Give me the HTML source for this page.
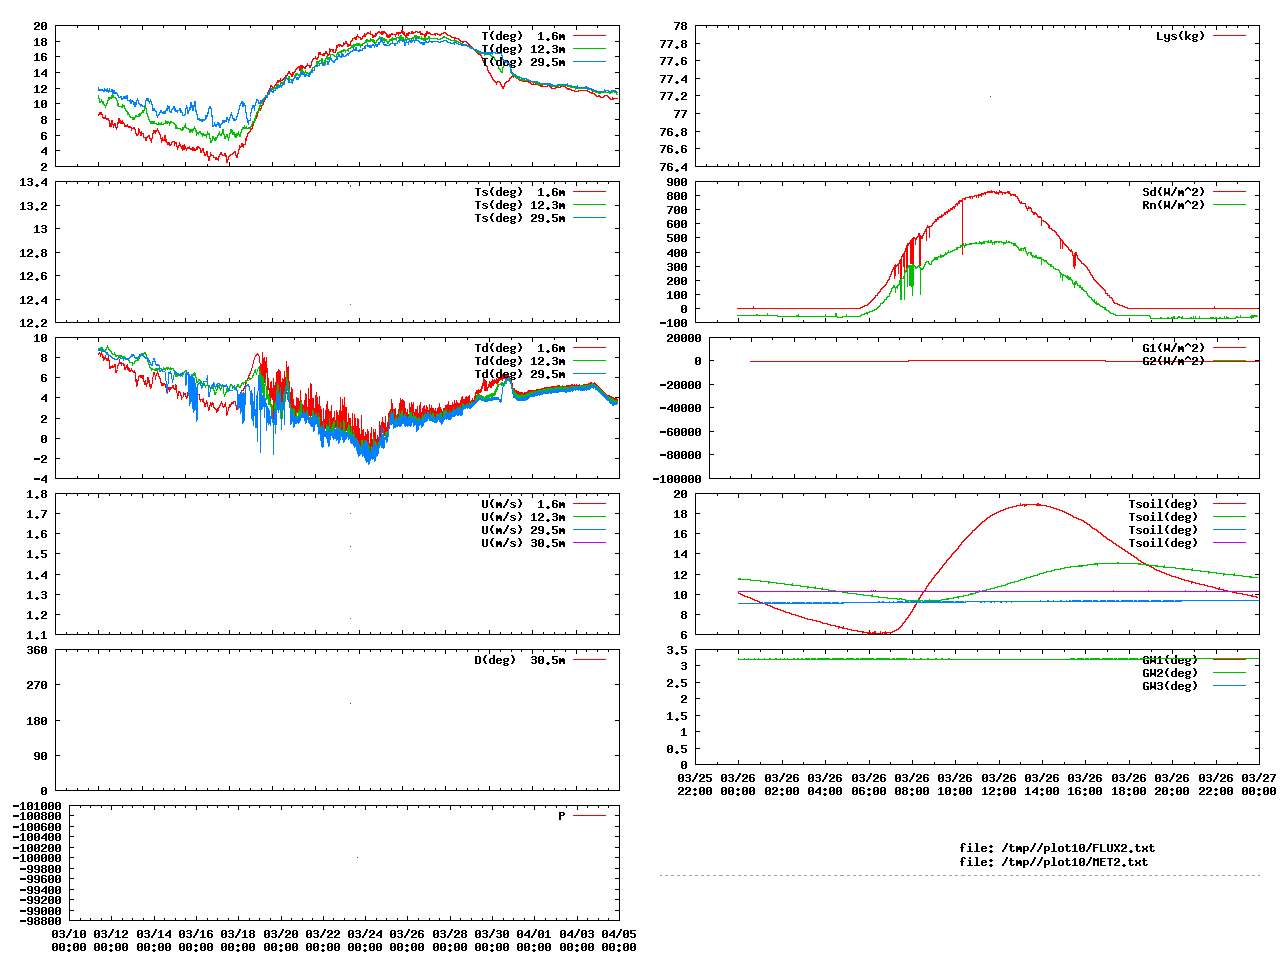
<!DOCTYPE html>
<html><head><meta charset="utf-8"><title>plot</title>
<style>
html,body{margin:0;padding:0;background:#fff;}
svg{display:block}
.t{font-family:"Liberation Mono",monospace;font-weight:bold;font-size:11.67px;opacity:0;white-space:pre}
</style></head><body>
<svg width="1280" height="960" viewBox="0 0 1280 960">
<rect width="1280" height="960" fill="#fff"/>
<defs>
<path id="c30" d="M1 0h4v1h-4zM0 1h2v1h-2zM4 1h2v1h-2zM0 2h2v1h-2zM4 2h2v1h-2zM0 3h2v1h-2zM3 3h3v1h-3zM0 4h3v1h-3zM4 4h2v1h-2zM0 5h2v1h-2zM4 5h2v1h-2zM0 6h2v1h-2zM4 6h2v1h-2zM1 7h4v1h-4z"/>
<path id="c31" d="M2 0h2v1h-2zM1 1h3v1h-3zM0 2h1v1h-1zM2 2h2v1h-2zM2 3h2v1h-2zM2 4h2v1h-2zM2 5h2v1h-2zM2 6h2v1h-2zM0 7h6v1h-6z"/>
<path id="c32" d="M1 0h4v1h-4zM0 1h2v1h-2zM4 1h2v1h-2zM0 2h2v1h-2zM4 2h2v1h-2zM3 3h3v1h-3zM2 4h3v1h-3zM1 5h2v1h-2zM0 6h2v1h-2zM0 7h6v1h-6z"/>
<path id="c33" d="M1 0h4v1h-4zM0 1h2v1h-2zM4 1h2v1h-2zM4 2h2v1h-2zM1 3h4v1h-4zM4 4h2v1h-2zM4 5h2v1h-2zM0 6h2v1h-2zM4 6h2v1h-2zM1 7h4v1h-4z"/>
<path id="c34" d="M4 0h2v1h-2zM3 1h3v1h-3zM2 2h4v1h-4zM1 3h2v1h-2zM4 3h2v1h-2zM0 4h2v1h-2zM4 4h2v1h-2zM0 5h6v1h-6zM4 6h2v1h-2zM4 7h2v1h-2z"/>
<path id="c35" d="M0 0h6v1h-6zM0 1h2v1h-2zM0 2h2v1h-2zM0 3h5v1h-5zM4 4h2v1h-2zM4 5h2v1h-2zM0 6h2v1h-2zM4 6h2v1h-2zM1 7h4v1h-4z"/>
<path id="c36" d="M1 0h4v1h-4zM0 1h2v1h-2zM4 1h2v1h-2zM0 2h2v1h-2zM0 3h5v1h-5zM0 4h2v1h-2zM4 4h2v1h-2zM0 5h2v1h-2zM4 5h2v1h-2zM0 6h2v1h-2zM4 6h2v1h-2zM1 7h4v1h-4z"/>
<path id="c37" d="M0 0h6v1h-6zM4 1h2v1h-2zM3 2h2v1h-2zM3 3h2v1h-2zM2 4h2v1h-2zM2 5h2v1h-2zM1 6h2v1h-2zM1 7h2v1h-2z"/>
<path id="c38" d="M1 0h4v1h-4zM0 1h2v1h-2zM4 1h2v1h-2zM0 2h2v1h-2zM4 2h2v1h-2zM1 3h4v1h-4zM0 4h2v1h-2zM4 4h2v1h-2zM0 5h2v1h-2zM4 5h2v1h-2zM0 6h2v1h-2zM4 6h2v1h-2zM1 7h4v1h-4z"/>
<path id="c39" d="M1 0h4v1h-4zM0 1h2v1h-2zM4 1h2v1h-2zM0 2h2v1h-2zM4 2h2v1h-2zM0 3h2v1h-2zM4 3h2v1h-2zM1 4h5v1h-5zM4 5h2v1h-2zM0 6h2v1h-2zM4 6h2v1h-2zM1 7h4v1h-4z"/>
<path id="c2d" d="M0 3h6v1h-6zM0 4h6v1h-6z"/>
<path id="c2e" d="M2 6h2v1h-2zM1 7h4v1h-4zM2 8h2v1h-2z"/>
<path id="c3a" d="M2 1h2v1h-2zM1 2h4v1h-4zM2 3h2v1h-2zM2 6h2v1h-2zM1 7h4v1h-4zM2 8h2v1h-2z"/>
<path id="c2f" d="M4 -1h2v1h-2zM4 0h2v1h-2zM3 1h2v1h-2zM3 2h2v1h-2zM2 3h2v1h-2zM2 4h2v1h-2zM1 5h2v1h-2zM0 6h2v1h-2zM0 7h2v1h-2z"/>
<path id="c28" d="M3 -1h2v1h-2zM2 0h2v1h-2zM2 1h2v1h-2zM1 2h2v1h-2zM1 3h2v1h-2zM1 4h2v1h-2zM2 5h2v1h-2zM2 6h2v1h-2zM3 7h2v1h-2z"/>
<path id="c29" d="M1 -1h2v1h-2zM2 0h2v1h-2zM2 1h2v1h-2zM3 2h2v1h-2zM3 3h2v1h-2zM3 4h2v1h-2zM2 5h2v1h-2zM2 6h2v1h-2zM1 7h2v1h-2z"/>
<path id="c5e" d="M2 -1h2v1h-2zM1 0h4v1h-4zM0 1h2v1h-2zM4 1h2v1h-2zM0 2h1v1h-1zM5 2h1v1h-1z"/>
<path id="c54" d="M0 0h6v1h-6zM2 1h2v1h-2zM2 2h2v1h-2zM2 3h2v1h-2zM2 4h2v1h-2zM2 5h2v1h-2zM2 6h2v1h-2zM2 7h2v1h-2z"/>
<path id="c55" d="M0 0h2v1h-2zM4 0h2v1h-2zM0 1h2v1h-2zM4 1h2v1h-2zM0 2h2v1h-2zM4 2h2v1h-2zM0 3h2v1h-2zM4 3h2v1h-2zM0 4h2v1h-2zM4 4h2v1h-2zM0 5h2v1h-2zM4 5h2v1h-2zM0 6h2v1h-2zM4 6h2v1h-2zM1 7h4v1h-4z"/>
<path id="c44" d="M0 0h5v1h-5zM0 1h2v1h-2zM4 1h2v1h-2zM0 2h2v1h-2zM4 2h2v1h-2zM0 3h2v1h-2zM4 3h2v1h-2zM0 4h2v1h-2zM4 4h2v1h-2zM0 5h2v1h-2zM4 5h2v1h-2zM0 6h2v1h-2zM4 6h2v1h-2zM0 7h5v1h-5z"/>
<path id="c50" d="M0 0h5v1h-5zM0 1h2v1h-2zM4 1h2v1h-2zM0 2h2v1h-2zM4 2h2v1h-2zM0 3h5v1h-5zM0 4h2v1h-2zM0 5h2v1h-2zM0 6h2v1h-2zM0 7h2v1h-2z"/>
<path id="c52" d="M0 0h5v1h-5zM0 1h2v1h-2zM4 1h2v1h-2zM0 2h2v1h-2zM4 2h2v1h-2zM0 3h5v1h-5zM0 4h4v1h-4zM0 5h2v1h-2zM3 5h2v1h-2zM0 6h2v1h-2zM4 6h2v1h-2zM0 7h2v1h-2zM4 7h2v1h-2z"/>
<path id="c4c" d="M0 0h2v1h-2zM0 1h2v1h-2zM0 2h2v1h-2zM0 3h2v1h-2zM0 4h2v1h-2zM0 5h2v1h-2zM0 6h2v1h-2zM0 7h6v1h-6z"/>
<path id="c53" d="M1 0h4v1h-4zM0 1h2v1h-2zM4 1h2v1h-2zM0 2h2v1h-2zM1 3h4v1h-4zM4 4h2v1h-2zM4 5h2v1h-2zM0 6h2v1h-2zM4 6h2v1h-2zM1 7h4v1h-4z"/>
<path id="c57" d="M0 0h2v1h-2zM4 0h2v1h-2zM0 1h2v1h-2zM4 1h2v1h-2zM0 2h2v1h-2zM4 2h2v1h-2zM0 3h2v1h-2zM4 3h2v1h-2zM0 4h6v1h-6zM0 5h6v1h-6zM0 6h2v1h-2zM4 6h2v1h-2zM0 7h1v1h-1zM5 7h1v1h-1z"/>
<path id="c47" d="M1 0h4v1h-4zM0 1h2v1h-2zM4 1h2v1h-2zM0 2h2v1h-2zM0 3h2v1h-2zM0 4h2v1h-2zM3 4h3v1h-3zM0 5h2v1h-2zM4 5h2v1h-2zM0 6h2v1h-2zM4 6h2v1h-2zM1 7h5v1h-5z"/>
<path id="c46" d="M0 0h6v1h-6zM0 1h2v1h-2zM0 2h2v1h-2zM0 3h5v1h-5zM0 4h2v1h-2zM0 5h2v1h-2zM0 6h2v1h-2zM0 7h2v1h-2z"/>
<path id="c45" d="M0 0h6v1h-6zM0 1h2v1h-2zM0 2h2v1h-2zM0 3h5v1h-5zM0 4h2v1h-2zM0 5h2v1h-2zM0 6h2v1h-2zM0 7h6v1h-6z"/>
<path id="c58" d="M0 0h2v1h-2zM4 0h2v1h-2zM0 1h2v1h-2zM4 1h2v1h-2zM1 2h4v1h-4zM2 3h2v1h-2zM2 4h2v1h-2zM1 5h4v1h-4zM0 6h2v1h-2zM4 6h2v1h-2zM0 7h2v1h-2zM4 7h2v1h-2z"/>
<path id="c4d" d="M0 0h2v1h-2zM4 0h2v1h-2zM0 1h6v1h-6zM0 2h6v1h-6zM0 3h2v1h-2zM4 3h2v1h-2zM0 4h2v1h-2zM4 4h2v1h-2zM0 5h2v1h-2zM4 5h2v1h-2zM0 6h2v1h-2zM4 6h2v1h-2zM0 7h2v1h-2zM4 7h2v1h-2z"/>
<path id="c64" d="M4 -1h2v1h-2zM4 0h2v1h-2zM4 1h2v1h-2zM1 2h5v1h-5zM0 3h2v1h-2zM4 3h2v1h-2zM0 4h2v1h-2zM4 4h2v1h-2zM0 5h2v1h-2zM4 5h2v1h-2zM0 6h2v1h-2zM4 6h2v1h-2zM1 7h5v1h-5z"/>
<path id="c65" d="M1 2h4v1h-4zM0 3h2v1h-2zM4 3h2v1h-2zM0 4h6v1h-6zM0 5h2v1h-2zM0 6h2v1h-2zM4 6h2v1h-2zM1 7h4v1h-4z"/>
<path id="c67" d="M1 2h5v1h-5zM0 3h2v1h-2zM4 3h2v1h-2zM0 4h2v1h-2zM4 4h2v1h-2zM1 5h4v1h-4zM0 6h2v1h-2zM1 7h4v1h-4zM0 8h2v1h-2zM4 8h2v1h-2zM1 9h4v1h-4z"/>
<path id="c6d" d="M0 2h2v1h-2zM3 2h2v1h-2zM0 3h6v1h-6zM0 4h6v1h-6zM0 5h6v1h-6zM0 6h2v1h-2zM4 6h2v1h-2zM0 7h2v1h-2zM4 7h2v1h-2z"/>
<path id="c73" d="M1 2h4v1h-4zM0 3h2v1h-2zM5 3h1v1h-1zM1 4h3v1h-3zM3 5h3v1h-3zM0 6h1v1h-1zM4 6h2v1h-2zM1 7h4v1h-4z"/>
<path id="c79" d="M0 2h2v1h-2zM4 2h2v1h-2zM0 3h2v1h-2zM4 3h2v1h-2zM0 4h2v1h-2zM4 4h2v1h-2zM0 5h2v1h-2zM4 5h2v1h-2zM1 6h5v1h-5zM4 7h2v1h-2zM0 8h2v1h-2zM4 8h2v1h-2zM1 9h4v1h-4z"/>
<path id="c6b" d="M0 -1h2v1h-2zM0 0h2v1h-2zM0 1h2v1h-2zM0 2h2v1h-2zM4 2h2v1h-2zM0 3h2v1h-2zM3 3h2v1h-2zM0 4h4v1h-4zM0 5h4v1h-4zM0 6h2v1h-2zM3 6h2v1h-2zM0 7h2v1h-2zM4 7h2v1h-2z"/>
<path id="c6e" d="M0 2h5v1h-5zM0 3h2v1h-2zM4 3h2v1h-2zM0 4h2v1h-2zM4 4h2v1h-2zM0 5h2v1h-2zM4 5h2v1h-2zM0 6h2v1h-2zM4 6h2v1h-2zM0 7h2v1h-2zM4 7h2v1h-2z"/>
<path id="c6f" d="M1 2h4v1h-4zM0 3h2v1h-2zM4 3h2v1h-2zM0 4h2v1h-2zM4 4h2v1h-2zM0 5h2v1h-2zM4 5h2v1h-2zM0 6h2v1h-2zM4 6h2v1h-2zM1 7h4v1h-4z"/>
<path id="c69" d="M2 -1h2v1h-2zM2 0h2v1h-2zM1 2h3v1h-3zM2 3h2v1h-2zM2 4h2v1h-2zM2 5h2v1h-2zM2 6h2v1h-2zM0 7h6v1h-6z"/>
<path id="c6c" d="M1 -1h3v1h-3zM2 0h2v1h-2zM2 1h2v1h-2zM2 2h2v1h-2zM2 3h2v1h-2zM2 4h2v1h-2zM2 5h2v1h-2zM2 6h2v1h-2zM0 7h6v1h-6z"/>
<path id="c66" d="M2 -1h3v1h-3zM1 0h2v1h-2zM4 0h2v1h-2zM1 1h2v1h-2zM1 2h2v1h-2zM0 3h4v1h-4zM1 4h2v1h-2zM1 5h2v1h-2zM1 6h2v1h-2zM1 7h2v1h-2z"/>
<path id="c74" d="M1 0h2v1h-2zM1 1h2v1h-2zM0 2h5v1h-5zM1 3h2v1h-2zM1 4h2v1h-2zM1 5h2v1h-2zM1 6h2v1h-2zM4 6h2v1h-2zM2 7h3v1h-3z"/>
<path id="c70" d="M0 2h5v1h-5zM0 3h2v1h-2zM4 3h2v1h-2zM0 4h2v1h-2zM4 4h2v1h-2zM0 5h2v1h-2zM4 5h2v1h-2zM0 6h5v1h-5zM0 7h2v1h-2zM0 8h2v1h-2zM0 9h2v1h-2z"/>
<path id="c78" d="M0 2h2v1h-2zM4 2h2v1h-2zM0 3h2v1h-2zM4 3h2v1h-2zM1 4h4v1h-4zM1 5h4v1h-4zM0 6h2v1h-2zM4 6h2v1h-2zM0 7h2v1h-2zM4 7h2v1h-2z"/>
</defs>
<g shape-rendering="crispEdges">
<rect x="55" y="25" width="565" height="1" fill="#000"/>
<rect x="55" y="166" width="565" height="1" fill="#000"/>
<rect x="55" y="25" width="1" height="142" fill="#000"/>
<rect x="619" y="25" width="1" height="142" fill="#000"/>
<rect x="77" y="164" width="1" height="2" fill="#000"/>
<rect x="77" y="26" width="1" height="2" fill="#000"/>
<rect x="98" y="162" width="1" height="4" fill="#000"/>
<rect x="98" y="26" width="1" height="4" fill="#000"/>
<rect x="120" y="164" width="1" height="2" fill="#000"/>
<rect x="120" y="26" width="1" height="2" fill="#000"/>
<rect x="142" y="162" width="1" height="4" fill="#000"/>
<rect x="142" y="26" width="1" height="4" fill="#000"/>
<rect x="163" y="164" width="1" height="2" fill="#000"/>
<rect x="163" y="26" width="1" height="2" fill="#000"/>
<rect x="185" y="162" width="1" height="4" fill="#000"/>
<rect x="185" y="26" width="1" height="4" fill="#000"/>
<rect x="207" y="164" width="1" height="2" fill="#000"/>
<rect x="207" y="26" width="1" height="2" fill="#000"/>
<rect x="229" y="162" width="1" height="4" fill="#000"/>
<rect x="229" y="26" width="1" height="4" fill="#000"/>
<rect x="250" y="164" width="1" height="2" fill="#000"/>
<rect x="250" y="26" width="1" height="2" fill="#000"/>
<rect x="272" y="162" width="1" height="4" fill="#000"/>
<rect x="272" y="26" width="1" height="4" fill="#000"/>
<rect x="294" y="164" width="1" height="2" fill="#000"/>
<rect x="294" y="26" width="1" height="2" fill="#000"/>
<rect x="315" y="162" width="1" height="4" fill="#000"/>
<rect x="315" y="26" width="1" height="4" fill="#000"/>
<rect x="337" y="164" width="1" height="2" fill="#000"/>
<rect x="337" y="26" width="1" height="2" fill="#000"/>
<rect x="359" y="162" width="1" height="4" fill="#000"/>
<rect x="359" y="26" width="1" height="4" fill="#000"/>
<rect x="380" y="164" width="1" height="2" fill="#000"/>
<rect x="380" y="26" width="1" height="2" fill="#000"/>
<rect x="402" y="162" width="1" height="4" fill="#000"/>
<rect x="402" y="26" width="1" height="4" fill="#000"/>
<rect x="424" y="164" width="1" height="2" fill="#000"/>
<rect x="424" y="26" width="1" height="2" fill="#000"/>
<rect x="445" y="162" width="1" height="4" fill="#000"/>
<rect x="445" y="26" width="1" height="4" fill="#000"/>
<rect x="467" y="164" width="1" height="2" fill="#000"/>
<rect x="467" y="26" width="1" height="2" fill="#000"/>
<rect x="489" y="162" width="1" height="4" fill="#000"/>
<rect x="489" y="26" width="1" height="4" fill="#000"/>
<rect x="511" y="164" width="1" height="2" fill="#000"/>
<rect x="511" y="26" width="1" height="2" fill="#000"/>
<rect x="532" y="162" width="1" height="4" fill="#000"/>
<rect x="532" y="26" width="1" height="4" fill="#000"/>
<rect x="554" y="164" width="1" height="2" fill="#000"/>
<rect x="554" y="26" width="1" height="2" fill="#000"/>
<rect x="576" y="162" width="1" height="4" fill="#000"/>
<rect x="576" y="26" width="1" height="4" fill="#000"/>
<rect x="597" y="164" width="1" height="2" fill="#000"/>
<rect x="597" y="26" width="1" height="2" fill="#000"/>
<use href="#c32" x="34" y="22"/><use href="#c30" x="41" y="22"/>
<text class="t" x="34" y="30">20</text>
<rect x="56" y="41" width="4" height="1" fill="#000"/>
<rect x="615" y="41" width="4" height="1" fill="#000"/>
<use href="#c31" x="34" y="38"/><use href="#c38" x="41" y="38"/>
<text class="t" x="34" y="46">18</text>
<rect x="56" y="56" width="4" height="1" fill="#000"/>
<rect x="615" y="56" width="4" height="1" fill="#000"/>
<use href="#c31" x="34" y="53"/><use href="#c36" x="41" y="53"/>
<text class="t" x="34" y="61">16</text>
<rect x="56" y="72" width="4" height="1" fill="#000"/>
<rect x="615" y="72" width="4" height="1" fill="#000"/>
<use href="#c31" x="34" y="69"/><use href="#c34" x="41" y="69"/>
<text class="t" x="34" y="77">14</text>
<rect x="56" y="88" width="4" height="1" fill="#000"/>
<rect x="615" y="88" width="4" height="1" fill="#000"/>
<use href="#c31" x="34" y="85"/><use href="#c32" x="41" y="85"/>
<text class="t" x="34" y="93">12</text>
<rect x="56" y="103" width="4" height="1" fill="#000"/>
<rect x="615" y="103" width="4" height="1" fill="#000"/>
<use href="#c31" x="34" y="100"/><use href="#c30" x="41" y="100"/>
<text class="t" x="34" y="108">10</text>
<rect x="56" y="119" width="4" height="1" fill="#000"/>
<rect x="615" y="119" width="4" height="1" fill="#000"/>
<use href="#c38" x="41" y="116"/>
<text class="t" x="41" y="124">8</text>
<rect x="56" y="135" width="4" height="1" fill="#000"/>
<rect x="615" y="135" width="4" height="1" fill="#000"/>
<use href="#c36" x="41" y="132"/>
<text class="t" x="41" y="140">6</text>
<rect x="56" y="150" width="4" height="1" fill="#000"/>
<rect x="615" y="150" width="4" height="1" fill="#000"/>
<use href="#c34" x="41" y="147"/>
<text class="t" x="41" y="155">4</text>
<use href="#c32" x="41" y="163"/>
<text class="t" x="41" y="171">2</text>
<use href="#c54" x="482" y="32"/><use href="#c28" x="489" y="32"/><use href="#c64" x="496" y="32"/><use href="#c65" x="503" y="32"/><use href="#c67" x="510" y="32"/><use href="#c29" x="517" y="32"/><use href="#c31" x="538" y="32"/><use href="#c2e" x="545" y="32"/><use href="#c36" x="552" y="32"/><use href="#c6d" x="559" y="32"/>
<text class="t" x="482" y="40">T(deg)  1.6m</text>
<rect x="573" y="35" width="33" height="1" fill="#ff0000"/>
<polyline points="98.0,115.5 98.5,115.5 99.0,114.5 99.5,113.5 100.0,114.5 100.5,114.5 101.0,112.5 101.5,112.5 102.0,114.5 102.5,115.5 103.0,117.5 103.5,118.5 104.0,118.5 104.5,118.5 105.0,117.5 105.5,116.5 106.0,118.5 106.5,118.5 107.0,119.5 107.5,119.5 108.0,118.5 108.5,118.5 109.0,120.5 109.5,120.5 110.0,125.5 110.5,124.5 111.0,126.5 111.5,122.5 112.0,120.5 112.5,123.5 113.0,124.5 113.5,126.5 114.0,125.5 114.5,125.5 115.0,123.5 115.5,126.5 116.0,127.5 116.5,128.5 117.0,127.5 117.5,123.5 118.0,123.5 118.5,119.5 119.0,118.5 119.5,119.5 120.0,122.5 120.5,120.5 121.0,123.5 121.5,122.5 122.0,123.5 122.5,121.5 123.0,122.5 123.5,123.5 124.0,123.5 124.5,124.5 125.0,126.5 125.5,126.5 126.0,125.5 126.5,126.5 127.0,126.5 127.5,125.5 128.0,126.5 128.5,126.5 129.0,127.5 129.5,126.5 130.0,126.5 130.5,127.5 131.0,127.5 131.5,129.5 132.0,128.5 132.5,128.5 133.0,128.5 133.5,127.5 134.0,127.5 134.5,128.5 135.0,129.5 135.5,130.5 136.0,133.5 136.5,133.5 137.0,135.5 137.5,135.5 138.0,134.5 138.5,134.5 139.0,129.5 139.5,130.5 140.0,132.5 140.5,132.5 141.0,135.5 141.5,131.5 142.0,133.5 142.5,133.5 143.0,133.5 143.5,134.5 144.0,137.5 144.5,137.5 145.0,137.5 145.5,138.5 146.0,140.5 146.5,140.5 147.0,137.5 147.5,136.5 148.0,136.5 148.5,135.5 149.0,135.5 149.5,137.5 150.0,138.5 150.5,139.5 151.0,140.5 151.5,141.5 152.0,138.5 152.5,135.5 153.0,133.5 153.5,131.5 154.0,130.5 154.5,131.5 155.0,130.5 155.5,132.5 156.0,131.5 156.5,130.5 157.0,130.5 157.5,129.5 158.0,130.5 158.5,130.5 159.0,132.5 159.5,133.5 160.0,134.5 160.5,138.5 161.0,138.5 161.5,141.5 162.0,140.5 162.5,138.5 163.0,139.5 163.5,139.5 164.0,140.5 164.5,139.5 165.0,135.5 165.5,139.5 166.0,141.5 166.5,140.5 167.0,142.5 167.5,142.5 168.0,144.5 168.5,142.5 169.0,142.5 169.5,143.5 170.0,145.5 170.5,144.5 171.0,144.5 171.5,143.5 172.0,142.5 172.5,142.5 173.0,141.5 173.5,141.5 174.0,141.5 174.5,145.5 175.0,143.5 175.5,143.5 176.0,142.5 176.5,145.5 177.0,146.5 177.5,149.5 178.0,147.5 178.5,146.5 179.0,145.5 179.5,143.5 180.0,144.5 180.5,145.5 181.0,146.5 181.5,148.5 182.0,148.5 182.5,149.5 183.0,145.5 183.5,147.5 184.0,149.5 184.5,145.5 185.0,146.5 185.5,147.5 186.0,148.5 186.5,149.5 187.0,148.5 187.5,147.5 188.0,147.5 188.5,147.5 189.0,148.5 189.5,147.5 190.0,148.5 190.5,149.5 191.0,149.5 191.5,148.5 192.0,148.5 192.5,149.5 193.0,147.5 193.5,149.5 194.0,148.5 194.5,148.5 195.0,150.5 195.5,149.5 196.0,149.5 196.5,148.5 197.0,149.5 197.5,147.5 198.0,146.5 198.5,146.5 199.0,147.5 199.5,147.5 200.0,148.5 200.5,152.5 201.0,152.5 201.5,151.5 202.0,150.5 202.5,150.5 203.0,148.5 203.5,149.5 204.0,152.5 204.5,153.5 205.0,155.5 205.5,154.5 206.0,154.5 206.5,152.5 207.0,151.5 207.5,155.5 208.0,156.5 208.5,159.5 209.0,160.5 209.5,157.5 210.0,156.5 210.5,153.5 211.0,154.5 211.5,154.5 212.0,155.5 212.5,155.5 213.0,155.5 213.5,157.5 214.0,157.5 214.5,157.5 215.0,157.5 215.5,158.5 216.0,157.5 216.5,159.5 217.0,159.5 217.5,159.5 218.0,158.5 218.5,159.5 219.0,156.5 219.5,155.5 220.0,154.5 220.5,154.5 221.0,152.5 221.5,153.5 222.0,154.5 222.5,154.5 223.0,155.5 223.5,155.5 224.0,155.5 224.5,155.5 225.0,153.5 225.5,155.5 226.0,155.5 226.5,160.5 227.0,162.5 227.5,161.5 228.0,159.5 228.5,159.5 229.0,156.5 229.5,155.5 230.0,155.5 230.5,155.5 231.0,154.5 231.5,154.5 232.0,154.5 232.5,154.5 233.0,153.5 233.5,153.5 234.0,152.5 234.5,151.5 235.0,151.5 235.5,154.5 236.0,155.5 236.5,157.5 237.0,157.5 237.5,156.5 238.0,153.5 238.5,151.5 239.0,149.5 239.5,146.5 240.0,147.5 240.5,146.5 241.0,146.5 241.5,145.5 242.0,143.5 242.5,145.5 243.0,144.5 243.5,147.5 244.0,144.5 244.5,144.5 245.0,144.5 245.5,141.5 246.0,138.5 246.5,139.5 247.0,136.5 247.5,135.5 248.0,133.5 248.5,133.5 249.0,132.5 249.5,132.5 250.0,131.5 250.5,131.5 251.0,129.5 251.5,128.5 252.0,128.5 252.5,126.5 253.0,125.5 253.5,123.5 254.0,121.5 254.5,121.5 255.0,120.5 255.5,118.5 256.0,118.5 256.5,115.5 257.0,116.5 257.5,114.5 258.0,112.5 258.5,111.5 259.0,110.5 259.5,109.5 260.0,110.5 260.5,108.5 261.0,108.5 261.5,106.5 262.0,105.5 262.5,105.5 263.0,104.5 263.5,102.5 264.0,101.5 264.5,99.5 265.0,99.5 265.5,99.5 266.0,96.5 266.5,95.5 267.0,95.5 267.5,93.5 268.0,92.5 268.5,92.5 269.0,90.5 269.5,89.5 270.0,88.5 270.5,86.5 271.0,85.5 271.5,85.5 272.0,86.5 272.5,87.5 273.0,87.5 273.5,87.5 274.0,87.5 274.5,87.5 275.0,85.5 275.5,85.5 276.0,84.5 276.5,83.5 277.0,82.5 277.5,81.5 278.0,80.5 278.5,81.5 279.0,80.5 279.5,81.5 280.0,81.5 280.5,79.5 281.0,80.5 281.5,80.5 282.0,80.5 282.5,80.5 283.0,79.5 283.5,78.5 284.0,78.5 284.5,77.5 285.0,77.5 285.5,75.5 286.0,77.5 286.5,75.5 287.0,75.5 287.5,74.5 288.0,73.5 288.5,72.5 289.0,73.5 289.5,72.5 290.0,73.5 290.5,74.5 291.0,74.5 291.5,75.5 292.0,76.5 292.5,75.5 293.0,72.5 293.5,73.5 294.0,72.5 294.5,72.5 295.0,71.5 295.5,69.5 296.0,69.5 296.5,68.5 297.0,68.5 297.5,67.5 298.0,67.5 298.5,67.5 299.0,66.5 299.5,68.5 300.0,70.5 300.5,66.5 301.0,67.5 301.5,66.5 302.0,65.5 302.5,67.5 303.0,66.5 303.5,66.5 304.0,67.5 304.5,67.5 305.0,68.5 305.5,67.5 306.0,66.5 306.5,66.5 307.0,65.5 307.5,64.5 308.0,65.5 308.5,65.5 309.0,65.5 309.5,66.5 310.0,67.5 310.5,67.5 311.0,65.5 311.5,64.5 312.0,61.5 312.5,60.5 313.0,59.5 313.5,59.5 314.0,58.5 314.5,58.5 315.0,58.5 315.5,57.5 316.0,58.5 316.5,59.5 317.0,59.5 317.5,57.5 318.0,57.5 318.5,55.5 319.0,52.5 319.5,53.5 320.0,54.5 320.5,53.5 321.0,54.5 321.5,54.5 322.0,54.5 322.5,55.5 323.0,55.5 323.5,55.5 324.0,53.5 324.5,55.5 325.0,53.5 325.5,52.5 326.0,51.5 326.5,51.5 327.0,53.5 327.5,54.5 328.0,55.5 328.5,55.5 329.0,54.5 329.5,53.5 330.0,49.5 330.5,50.5 331.0,49.5 331.5,49.5 332.0,49.5 332.5,50.5 333.0,49.5 333.5,51.5 334.0,52.5 334.5,52.5 335.0,52.5 335.5,51.5 336.0,50.5 336.5,46.5 337.0,47.5 337.5,45.5 338.0,45.5 338.5,45.5 339.0,44.5 339.5,46.5 340.0,44.5 340.5,44.5 341.0,45.5 341.5,46.5 342.0,46.5 342.5,45.5 343.0,45.5 343.5,43.5 344.0,44.5 344.5,43.5 345.0,43.5 345.5,43.5 346.0,41.5 346.5,43.5 347.0,43.5 347.5,46.5 348.0,46.5 348.5,45.5 349.0,44.5 349.5,45.5 350.0,45.5 350.5,42.5 351.0,41.5 351.5,41.5 352.0,40.5 352.5,39.5 353.0,38.5 353.5,38.5 354.0,38.5 354.5,38.5 355.0,37.5 355.5,38.5 356.0,39.5 356.5,36.5 357.0,36.5 357.5,35.5 358.0,36.5 358.5,36.5 359.0,37.5 359.5,37.5 360.0,37.5 360.5,37.5 361.0,39.5 361.5,38.5 362.0,38.5 362.5,37.5 363.0,36.5 363.5,36.5 364.0,35.5 364.5,34.5 365.0,36.5 365.5,35.5 366.0,34.5 366.5,33.5 367.0,33.5 367.5,32.5 368.0,32.5 368.5,32.5 369.0,33.5 369.5,33.5 370.0,33.5 370.5,32.5 371.0,34.5 371.5,34.5 372.0,34.5 372.5,35.5 373.0,37.5 373.5,35.5 374.0,35.5 374.5,35.5 375.0,36.5 375.5,33.5 376.0,33.5 376.5,34.5 377.0,33.5 377.5,33.5 378.0,32.5 378.5,32.5 379.0,31.5 379.5,31.5 380.0,32.5 380.5,32.5 381.0,33.5 381.5,32.5 382.0,34.5 382.5,33.5 383.0,31.5 383.5,33.5 384.0,31.5 384.5,32.5 385.0,32.5 385.5,33.5 386.0,33.5 386.5,33.5 387.0,36.5 387.5,34.5 388.0,37.5 388.5,36.5 389.0,37.5 389.5,35.5 390.0,36.5 390.5,35.5 391.0,34.5 391.5,33.5 392.0,33.5 392.5,34.5 393.0,34.5 393.5,34.5 394.0,34.5 394.5,34.5 395.0,34.5 395.5,35.5 396.0,34.5 396.5,34.5 397.0,32.5 397.5,32.5 398.0,33.5 398.5,34.5 399.0,32.5 399.5,33.5 400.0,33.5 400.5,32.5 401.0,32.5 401.5,30.5 402.0,32.5 402.5,31.5 403.0,33.5 403.5,32.5 404.0,34.5 404.5,33.5 405.0,35.5 405.5,35.5 406.0,37.5 406.5,34.5 407.0,35.5 407.5,34.5 408.0,33.5 408.5,34.5 409.0,32.5 409.5,33.5 410.0,33.5 410.5,33.5 411.0,33.5 411.5,33.5 412.0,31.5 412.5,33.5 413.0,33.5 413.5,33.5 414.0,32.5 414.5,32.5 415.0,32.5 415.5,32.5 416.0,31.5 416.5,31.5 417.0,31.5 417.5,32.5 418.0,32.5 418.5,32.5 419.0,32.5 419.5,32.5 420.0,31.5 420.5,31.5 421.0,34.5 421.5,33.5 422.0,33.5 422.5,34.5 423.0,34.5 423.5,34.5 424.0,34.5 424.5,34.5 425.0,36.5 425.5,33.5 426.0,35.5 426.5,34.5 427.0,31.5 427.5,33.5 428.0,33.5 428.5,33.5 429.0,32.5 429.5,33.5 430.0,33.5 430.5,33.5 431.0,34.5 431.5,34.5 432.0,34.5 432.5,34.5 433.0,34.5 433.5,34.5 434.0,34.5 434.5,33.5 435.0,33.5 435.5,34.5 436.0,33.5 436.5,33.5 437.0,33.5 437.5,34.5 438.0,34.5 438.5,34.5 439.0,34.5 439.5,35.5 440.0,35.5 440.5,35.5 441.0,34.5 441.5,34.5 442.0,33.5 442.5,33.5 443.0,33.5 443.5,33.5 444.0,32.5 444.5,32.5 445.0,32.5 445.5,33.5 446.0,33.5 446.5,34.5 447.0,34.5 447.5,34.5 448.0,35.5 448.5,35.5 449.0,35.5 449.5,35.5 450.0,35.5 450.5,35.5 451.0,36.5 451.5,37.5 452.0,37.5 452.5,37.5 453.0,37.5 453.5,37.5 454.0,37.5 454.5,38.5 455.0,37.5 455.5,38.5 456.0,38.5 456.5,38.5 457.0,38.5 457.5,38.5 458.0,38.5 458.5,39.5 459.0,39.5 459.5,40.5 460.0,40.5 460.5,41.5 461.0,41.5 461.5,41.5 462.0,41.5 462.5,41.5 463.0,42.5 463.5,41.5 464.0,41.5 464.5,41.5 465.0,41.5 465.5,41.5 466.0,41.5 466.5,42.5 467.0,42.5 467.5,43.5 468.0,43.5 468.5,44.5 469.0,44.5 469.5,44.5 470.0,45.5 470.5,46.5 471.0,46.5 471.5,46.5 472.0,47.5 472.5,48.5 473.0,48.5 473.5,49.5 474.0,49.5 474.5,49.5 475.0,50.5 475.5,50.5 476.0,51.5 476.5,51.5 477.0,52.5 477.5,52.5 478.0,53.5 478.5,54.5 479.0,54.5 479.5,54.5 480.0,54.5 480.5,55.5 481.0,55.5 481.5,56.5 482.0,57.5 482.5,59.5 483.0,60.5 483.5,61.5 484.0,62.5 484.5,63.5 485.0,63.5 485.5,64.5 486.0,65.5 486.5,65.5 487.0,66.5 487.5,68.5 488.0,70.5 488.5,71.5 489.0,72.5 489.5,73.5 490.0,73.5 490.5,74.5 491.0,75.5 491.5,76.5 492.0,77.5 492.5,78.5 493.0,79.5 493.5,80.5 494.0,80.5 494.5,81.5 495.0,81.5 495.5,82.5 496.0,82.5 496.5,83.5 497.0,82.5 497.5,82.5 498.0,81.5 498.5,81.5 499.0,81.5 499.5,82.5 500.0,82.5 500.5,83.5 501.0,84.5 501.5,85.5 502.0,86.5 502.5,87.5 503.0,88.5 503.5,87.5 504.0,86.5 504.5,85.5 505.0,83.5 505.5,83.5 506.0,82.5 506.5,82.5 507.0,81.5 507.5,81.5 508.0,81.5 508.5,80.5 509.0,80.5 509.5,79.5 510.0,78.5 510.5,78.5 511.0,77.5 511.5,77.5 512.0,76.5 512.5,76.5 513.0,75.5 513.5,76.5 514.0,75.5 514.5,76.5 515.0,76.5 515.5,77.5 516.0,77.5 516.5,77.5 517.0,78.5 517.5,78.5 518.0,78.5 518.5,79.5 519.0,79.5 519.5,79.5 520.0,80.5 520.5,80.5 521.0,80.5 521.5,80.5 522.0,80.5 522.5,80.5 523.0,81.5 523.5,80.5 524.0,81.5 524.5,81.5 525.0,81.5 525.5,81.5 526.0,81.5 526.5,81.5 527.0,81.5 527.5,81.5 528.0,81.5 528.5,81.5 529.0,82.5 529.5,82.5 530.0,82.5 530.5,83.5 531.0,83.5 531.5,84.5 532.0,84.5 532.5,84.5 533.0,84.5 533.5,83.5 534.0,84.5 534.5,84.5 535.0,84.5 535.5,83.5 536.0,83.5 536.5,84.5 537.0,84.5 537.5,84.5 538.0,84.5 538.5,85.5 539.0,85.5 539.5,85.5 540.0,85.5 540.5,85.5 541.0,86.5 541.5,86.5 542.0,85.5 542.5,86.5 543.0,86.5 543.5,86.5 544.0,86.5 544.5,86.5 545.0,86.5 545.5,86.5 546.0,86.5 546.5,86.5 547.0,86.5 547.5,86.5 548.0,85.5 548.5,85.5 549.0,85.5 549.5,86.5 550.0,86.5 550.5,87.5 551.0,87.5 551.5,88.5 552.0,88.5 552.5,88.5 553.0,88.5 553.5,88.5 554.0,88.5 554.5,88.5 555.0,88.5 555.5,88.5 556.0,87.5 556.5,87.5 557.0,87.5 557.5,87.5 558.0,87.5 558.5,87.5 559.0,87.5 559.5,87.5 560.0,87.5 560.5,86.5 561.0,86.5 561.5,86.5 562.0,86.5 562.5,86.5 563.0,86.5 563.5,86.5 564.0,86.5 564.5,86.5 565.0,86.5 565.5,86.5 566.0,87.5 566.5,88.5 567.0,88.5 567.5,88.5 568.0,89.5 568.5,88.5 569.0,88.5 569.5,88.5 570.0,89.5 570.5,89.5 571.0,89.5 571.5,89.5 572.0,90.5 572.5,90.5 573.0,90.5 573.5,90.5 574.0,90.5 574.5,91.5 575.0,91.5 575.5,91.5 576.0,91.5 576.5,91.5 577.0,91.5 577.5,91.5 578.0,91.5 578.5,91.5 579.0,90.5 579.5,90.5 580.0,90.5 580.5,90.5 581.0,90.5 581.5,90.5 582.0,90.5 582.5,90.5 583.0,90.5 583.5,90.5 584.0,90.5 584.5,90.5 585.0,90.5 585.5,90.5 586.0,90.5 586.5,90.5 587.0,90.5 587.5,91.5 588.0,91.5 588.5,91.5 589.0,91.5 589.5,92.5 590.0,92.5 590.5,92.5 591.0,92.5 591.5,92.5 592.0,93.5 592.5,92.5 593.0,93.5 593.5,93.5 594.0,93.5 594.5,94.5 595.0,94.5 595.5,95.5 596.0,95.5 596.5,96.5 597.0,96.5 597.5,96.5 598.0,96.5 598.5,95.5 599.0,95.5 599.5,96.5 600.0,96.5 600.5,97.5 601.0,97.5 601.5,97.5 602.0,97.5 602.5,97.5 603.0,97.5 603.5,96.5 604.0,96.5 604.5,95.5 605.0,95.5 605.5,95.5 606.0,95.5 606.5,95.5 607.0,95.5 607.5,95.5 608.0,96.5 608.5,96.5 609.0,97.5 609.5,98.5 610.0,98.5 610.5,99.5 611.0,99.5 611.5,99.5 612.0,99.5 612.5,98.5 613.0,99.5 613.5,98.5 614.0,98.5 614.5,98.5 615.0,98.5 615.5,98.5 616.0,98.5 616.5,98.5 617.0,98.5 617.5,99.5" fill="none" stroke="#ff0000" stroke-width="1.2" shape-rendering="crispEdges"/>
<use href="#c54" x="482" y="45"/><use href="#c28" x="489" y="45"/><use href="#c64" x="496" y="45"/><use href="#c65" x="503" y="45"/><use href="#c67" x="510" y="45"/><use href="#c29" x="517" y="45"/><use href="#c31" x="531" y="45"/><use href="#c32" x="538" y="45"/><use href="#c2e" x="545" y="45"/><use href="#c33" x="552" y="45"/><use href="#c6d" x="559" y="45"/>
<text class="t" x="482" y="53">T(deg) 12.3m</text>
<rect x="573" y="48" width="33" height="1" fill="#00c000"/>
<polyline points="98.0,97.5 98.5,96.5 99.0,98.5 99.5,99.5 100.0,102.5 100.5,102.5 101.0,101.5 101.5,100.5 102.0,101.5 102.5,102.5 103.0,103.5 103.5,102.5 104.0,104.5 104.5,105.5 105.0,105.5 105.5,106.5 106.0,105.5 106.5,103.5 107.0,103.5 107.5,102.5 108.0,100.5 108.5,100.5 109.0,97.5 109.5,98.5 110.0,97.5 110.5,98.5 111.0,98.5 111.5,97.5 112.0,95.5 112.5,93.5 113.0,97.5 113.5,95.5 114.0,97.5 114.5,97.5 115.0,97.5 115.5,97.5 116.0,98.5 116.5,99.5 117.0,100.5 117.5,104.5 118.0,103.5 118.5,105.5 119.0,106.5 119.5,106.5 120.0,106.5 120.5,106.5 121.0,106.5 121.5,107.5 122.0,107.5 122.5,105.5 123.0,106.5 123.5,105.5 124.0,105.5 124.5,105.5 125.0,108.5 125.5,110.5 126.0,110.5 126.5,111.5 127.0,111.5 127.5,111.5 128.0,114.5 128.5,113.5 129.0,114.5 129.5,116.5 130.0,116.5 130.5,117.5 131.0,117.5 131.5,117.5 132.0,117.5 132.5,117.5 133.0,119.5 133.5,119.5 134.0,117.5 134.5,118.5 135.0,117.5 135.5,116.5 136.0,115.5 136.5,116.5 137.0,116.5 137.5,116.5 138.0,116.5 138.5,116.5 139.0,114.5 139.5,115.5 140.0,113.5 140.5,115.5 141.0,113.5 141.5,113.5 142.0,112.5 142.5,111.5 143.0,110.5 143.5,111.5 144.0,110.5 144.5,109.5 145.0,105.5 145.5,104.5 146.0,108.5 146.5,111.5 147.0,113.5 147.5,113.5 148.0,116.5 148.5,116.5 149.0,119.5 149.5,120.5 150.0,121.5 150.5,121.5 151.0,123.5 151.5,122.5 152.0,123.5 152.5,121.5 153.0,121.5 153.5,122.5 154.0,121.5 154.5,121.5 155.0,123.5 155.5,123.5 156.0,123.5 156.5,123.5 157.0,124.5 157.5,124.5 158.0,124.5 158.5,122.5 159.0,124.5 159.5,123.5 160.0,123.5 160.5,124.5 161.0,124.5 161.5,123.5 162.0,124.5 162.5,124.5 163.0,124.5 163.5,123.5 164.0,123.5 164.5,123.5 165.0,123.5 165.5,120.5 166.0,123.5 166.5,122.5 167.0,123.5 167.5,123.5 168.0,121.5 168.5,122.5 169.0,122.5 169.5,124.5 170.0,123.5 170.5,122.5 171.0,121.5 171.5,122.5 172.0,122.5 172.5,122.5 173.0,122.5 173.5,122.5 174.0,123.5 174.5,124.5 175.0,124.5 175.5,127.5 176.0,128.5 176.5,126.5 177.0,127.5 177.5,127.5 178.0,128.5 178.5,128.5 179.0,128.5 179.5,128.5 180.0,128.5 180.5,129.5 181.0,129.5 181.5,129.5 182.0,130.5 182.5,128.5 183.0,127.5 183.5,128.5 184.0,127.5 184.5,126.5 185.0,127.5 185.5,123.5 186.0,127.5 186.5,127.5 187.0,128.5 187.5,128.5 188.0,128.5 188.5,128.5 189.0,129.5 189.5,130.5 190.0,132.5 190.5,130.5 191.0,129.5 191.5,131.5 192.0,129.5 192.5,131.5 193.0,130.5 193.5,129.5 194.0,128.5 194.5,126.5 195.0,128.5 195.5,128.5 196.0,130.5 196.5,135.5 197.0,133.5 197.5,133.5 198.0,132.5 198.5,134.5 199.0,132.5 199.5,131.5 200.0,131.5 200.5,133.5 201.0,133.5 201.5,133.5 202.0,134.5 202.5,135.5 203.0,133.5 203.5,134.5 204.0,135.5 204.5,135.5 205.0,134.5 205.5,134.5 206.0,135.5 206.5,137.5 207.0,134.5 207.5,131.5 208.0,134.5 208.5,133.5 209.0,133.5 209.5,137.5 210.0,138.5 210.5,142.5 211.0,142.5 211.5,141.5 212.0,140.5 212.5,137.5 213.0,136.5 213.5,137.5 214.0,138.5 214.5,139.5 215.0,138.5 215.5,139.5 216.0,137.5 216.5,138.5 217.0,137.5 217.5,136.5 218.0,135.5 218.5,133.5 219.0,133.5 219.5,131.5 220.0,134.5 220.5,135.5 221.0,135.5 221.5,134.5 222.0,133.5 222.5,133.5 223.0,129.5 223.5,131.5 224.0,134.5 224.5,135.5 225.0,138.5 225.5,136.5 226.0,136.5 226.5,135.5 227.0,134.5 227.5,136.5 228.0,137.5 228.5,140.5 229.0,137.5 229.5,136.5 230.0,133.5 230.5,131.5 231.0,129.5 231.5,129.5 232.0,132.5 232.5,130.5 233.0,134.5 233.5,132.5 234.0,134.5 234.5,133.5 235.0,136.5 235.5,135.5 236.0,137.5 236.5,134.5 237.0,133.5 237.5,134.5 238.0,133.5 238.5,132.5 239.0,134.5 239.5,134.5 240.0,136.5 240.5,133.5 241.0,132.5 241.5,129.5 242.0,129.5 242.5,127.5 243.0,127.5 243.5,128.5 244.0,128.5 244.5,126.5 245.0,127.5 245.5,128.5 246.0,128.5 246.5,127.5 247.0,128.5 247.5,128.5 248.0,128.5 248.5,128.5 249.0,127.5 249.5,128.5 250.0,128.5 250.5,126.5 251.0,126.5 251.5,124.5 252.0,124.5 252.5,124.5 253.0,121.5 253.5,122.5 254.0,122.5 254.5,119.5 255.0,118.5 255.5,119.5 256.0,115.5 256.5,114.5 257.0,112.5 257.5,111.5 258.0,111.5 258.5,109.5 259.0,110.5 259.5,107.5 260.0,106.5 260.5,102.5 261.0,103.5 261.5,102.5 262.0,102.5 262.5,103.5 263.0,99.5 263.5,99.5 264.0,98.5 264.5,97.5 265.0,97.5 265.5,97.5 266.0,96.5 266.5,96.5 267.0,96.5 267.5,95.5 268.0,94.5 268.5,93.5 269.0,92.5 269.5,94.5 270.0,91.5 270.5,91.5 271.0,89.5 271.5,89.5 272.0,89.5 272.5,88.5 273.0,88.5 273.5,89.5 274.0,88.5 274.5,87.5 275.0,87.5 275.5,88.5 276.0,87.5 276.5,85.5 277.0,85.5 277.5,85.5 278.0,84.5 278.5,84.5 279.0,86.5 279.5,86.5 280.0,85.5 280.5,84.5 281.0,82.5 281.5,83.5 282.0,83.5 282.5,83.5 283.0,82.5 283.5,84.5 284.0,81.5 284.5,79.5 285.0,79.5 285.5,79.5 286.0,78.5 286.5,77.5 287.0,78.5 287.5,79.5 288.0,79.5 288.5,78.5 289.0,76.5 289.5,79.5 290.0,79.5 290.5,79.5 291.0,79.5 291.5,80.5 292.0,79.5 292.5,81.5 293.0,80.5 293.5,79.5 294.0,78.5 294.5,78.5 295.0,75.5 295.5,74.5 296.0,75.5 296.5,74.5 297.0,73.5 297.5,74.5 298.0,74.5 298.5,75.5 299.0,75.5 299.5,75.5 300.0,74.5 300.5,72.5 301.0,70.5 301.5,68.5 302.0,71.5 302.5,70.5 303.0,71.5 303.5,71.5 304.0,73.5 304.5,72.5 305.0,72.5 305.5,71.5 306.0,72.5 306.5,73.5 307.0,72.5 307.5,73.5 308.0,73.5 308.5,74.5 309.0,73.5 309.5,72.5 310.0,72.5 310.5,71.5 311.0,71.5 311.5,70.5 312.0,69.5 312.5,69.5 313.0,67.5 313.5,67.5 314.0,67.5 314.5,67.5 315.0,66.5 315.5,65.5 316.0,65.5 316.5,61.5 317.0,64.5 317.5,62.5 318.0,61.5 318.5,62.5 319.0,61.5 319.5,60.5 320.0,60.5 320.5,60.5 321.0,60.5 321.5,61.5 322.0,58.5 322.5,60.5 323.0,62.5 323.5,64.5 324.0,63.5 324.5,60.5 325.0,60.5 325.5,60.5 326.0,58.5 326.5,56.5 327.0,58.5 327.5,57.5 328.0,59.5 328.5,58.5 329.0,59.5 329.5,57.5 330.0,59.5 330.5,56.5 331.0,54.5 331.5,54.5 332.0,54.5 332.5,54.5 333.0,54.5 333.5,55.5 334.0,55.5 334.5,56.5 335.0,56.5 335.5,56.5 336.0,56.5 336.5,54.5 337.0,54.5 337.5,53.5 338.0,52.5 338.5,53.5 339.0,52.5 339.5,52.5 340.0,51.5 340.5,51.5 341.0,52.5 341.5,52.5 342.0,50.5 342.5,51.5 343.0,51.5 343.5,50.5 344.0,49.5 344.5,49.5 345.0,50.5 345.5,51.5 346.0,50.5 346.5,50.5 347.0,50.5 347.5,49.5 348.0,49.5 348.5,50.5 349.0,48.5 349.5,48.5 350.0,48.5 350.5,48.5 351.0,47.5 351.5,46.5 352.0,47.5 352.5,46.5 353.0,45.5 353.5,46.5 354.0,44.5 354.5,45.5 355.0,44.5 355.5,44.5 356.0,45.5 356.5,44.5 357.0,45.5 357.5,44.5 358.0,45.5 358.5,44.5 359.0,45.5 359.5,44.5 360.0,45.5 360.5,47.5 361.0,44.5 361.5,45.5 362.0,45.5 362.5,44.5 363.0,43.5 363.5,43.5 364.0,43.5 364.5,42.5 365.0,42.5 365.5,41.5 366.0,42.5 366.5,42.5 367.0,39.5 367.5,41.5 368.0,41.5 368.5,41.5 369.0,40.5 369.5,40.5 370.0,41.5 370.5,39.5 371.0,40.5 371.5,40.5 372.0,39.5 372.5,40.5 373.0,41.5 373.5,40.5 374.0,42.5 374.5,41.5 375.0,43.5 375.5,44.5 376.0,42.5 376.5,41.5 377.0,40.5 377.5,40.5 378.0,39.5 378.5,39.5 379.0,38.5 379.5,37.5 380.0,38.5 380.5,38.5 381.0,38.5 381.5,37.5 382.0,37.5 382.5,37.5 383.0,40.5 383.5,38.5 384.0,38.5 384.5,41.5 385.0,40.5 385.5,39.5 386.0,39.5 386.5,40.5 387.0,41.5 387.5,41.5 388.0,43.5 388.5,41.5 389.0,41.5 389.5,40.5 390.0,39.5 390.5,40.5 391.0,40.5 391.5,38.5 392.0,40.5 392.5,38.5 393.0,39.5 393.5,39.5 394.0,38.5 394.5,38.5 395.0,39.5 395.5,38.5 396.0,38.5 396.5,39.5 397.0,37.5 397.5,37.5 398.0,37.5 398.5,38.5 399.0,38.5 399.5,37.5 400.0,38.5 400.5,38.5 401.0,35.5 401.5,39.5 402.0,38.5 402.5,39.5 403.0,37.5 403.5,38.5 404.0,39.5 404.5,39.5 405.0,40.5 405.5,38.5 406.0,39.5 406.5,39.5 407.0,39.5 407.5,38.5 408.0,39.5 408.5,39.5 409.0,38.5 409.5,39.5 410.0,38.5 410.5,38.5 411.0,38.5 411.5,38.5 412.0,38.5 412.5,37.5 413.0,37.5 413.5,38.5 414.0,37.5 414.5,36.5 415.0,37.5 415.5,36.5 416.0,37.5 416.5,35.5 417.0,38.5 417.5,37.5 418.0,38.5 418.5,36.5 419.0,36.5 419.5,38.5 420.0,38.5 420.5,38.5 421.0,38.5 421.5,37.5 422.0,39.5 422.5,38.5 423.0,38.5 423.5,39.5 424.0,38.5 424.5,40.5 425.0,37.5 425.5,40.5 426.0,38.5 426.5,39.5 427.0,39.5 427.5,38.5 428.0,38.5 428.5,37.5 429.0,38.5 429.5,37.5 430.0,38.5 430.5,38.5 431.0,38.5 431.5,38.5 432.0,38.5 432.5,38.5 433.0,38.5 433.5,38.5 434.0,38.5 434.5,38.5 435.0,38.5 435.5,38.5 436.0,38.5 436.5,38.5 437.0,38.5 437.5,39.5 438.0,39.5 438.5,39.5 439.0,39.5 439.5,39.5 440.0,39.5 440.5,39.5 441.0,38.5 441.5,38.5 442.0,38.5 442.5,37.5 443.0,37.5 443.5,37.5 444.0,36.5 444.5,36.5 445.0,37.5 445.5,37.5 446.0,37.5 446.5,38.5 447.0,38.5 447.5,38.5 448.0,38.5 448.5,38.5 449.0,39.5 449.5,39.5 450.0,39.5 450.5,40.5 451.0,40.5 451.5,40.5 452.0,40.5 452.5,40.5 453.0,40.5 453.5,40.5 454.0,40.5 454.5,40.5 455.0,41.5 455.5,40.5 456.0,40.5 456.5,41.5 457.0,41.5 457.5,41.5 458.0,41.5 458.5,42.5 459.0,42.5 459.5,42.5 460.0,42.5 460.5,43.5 461.0,43.5 461.5,43.5 462.0,43.5 462.5,43.5 463.0,44.5 463.5,44.5 464.0,44.5 464.5,44.5 465.0,44.5 465.5,44.5 466.0,44.5 466.5,44.5 467.0,45.5 467.5,45.5 468.0,45.5 468.5,45.5 469.0,46.5 469.5,46.5 470.0,46.5 470.5,47.5 471.0,47.5 471.5,47.5 472.0,48.5 472.5,48.5 473.0,48.5 473.5,48.5 474.0,49.5 474.5,49.5 475.0,50.5 475.5,50.5 476.0,50.5 476.5,51.5 477.0,51.5 477.5,51.5 478.0,52.5 478.5,52.5 479.0,52.5 479.5,52.5 480.0,53.5 480.5,53.5 481.0,53.5 481.5,53.5 482.0,53.5 482.5,53.5 483.0,53.5 483.5,53.5 484.0,53.5 484.5,54.5 485.0,53.5 485.5,53.5 486.0,54.5 486.5,54.5 487.0,54.5 487.5,54.5 488.0,54.5 488.5,54.5 489.0,54.5 489.5,54.5 490.0,54.5 490.5,55.5 491.0,55.5 491.5,55.5 492.0,56.5 492.5,56.5 493.0,56.5 493.5,57.5 494.0,57.5 494.5,58.5 495.0,59.5 495.5,59.5 496.0,60.5 496.5,60.5 497.0,61.5 497.5,63.5 498.0,65.5 498.5,66.5 499.0,68.5 499.5,69.5 500.0,69.5 500.5,70.5 501.0,71.5 501.5,72.5 502.0,72.5 502.5,70.5 503.0,67.5 503.5,65.5 504.0,62.5 504.5,61.5 505.0,61.5 505.5,61.5 506.0,61.5 506.5,62.5 507.0,62.5 507.5,62.5 508.0,62.5 508.5,63.5 509.0,64.5 509.5,64.5 510.0,65.5 510.5,71.5 511.0,72.5 511.5,73.5 512.0,73.5 512.5,74.5 513.0,75.5 513.5,75.5 514.0,75.5 514.5,76.5 515.0,76.5 515.5,76.5 516.0,76.5 516.5,77.5 517.0,76.5 517.5,77.5 518.0,77.5 518.5,77.5 519.0,78.5 519.5,78.5 520.0,79.5 520.5,79.5 521.0,79.5 521.5,79.5 522.0,79.5 522.5,79.5 523.0,80.5 523.5,79.5 524.0,79.5 524.5,79.5 525.0,80.5 525.5,80.5 526.0,80.5 526.5,80.5 527.0,80.5 527.5,80.5 528.0,80.5 528.5,80.5 529.0,80.5 529.5,80.5 530.0,81.5 530.5,81.5 531.0,81.5 531.5,81.5 532.0,81.5 532.5,82.5 533.0,82.5 533.5,82.5 534.0,82.5 534.5,82.5 535.0,82.5 535.5,82.5 536.0,82.5 536.5,82.5 537.0,83.5 537.5,83.5 538.0,83.5 538.5,84.5 539.0,83.5 539.5,83.5 540.0,84.5 540.5,84.5 541.0,84.5 541.5,84.5 542.0,84.5 542.5,84.5 543.0,84.5 543.5,84.5 544.0,84.5 544.5,84.5 545.0,84.5 545.5,84.5 546.0,84.5 546.5,84.5 547.0,84.5 547.5,84.5 548.0,84.5 548.5,84.5 549.0,84.5 549.5,85.5 550.0,85.5 550.5,85.5 551.0,85.5 551.5,85.5 552.0,86.5 552.5,86.5 553.0,86.5 553.5,86.5 554.0,86.5 554.5,86.5 555.0,86.5 555.5,86.5 556.0,86.5 556.5,86.5 557.0,86.5 557.5,85.5 558.0,86.5 558.5,85.5 559.0,85.5 559.5,85.5 560.0,85.5 560.5,85.5 561.0,85.5 561.5,85.5 562.0,84.5 562.5,85.5 563.0,84.5 563.5,85.5 564.0,85.5 564.5,85.5 565.0,85.5 565.5,85.5 566.0,85.5 566.5,85.5 567.0,85.5 567.5,86.5 568.0,86.5 568.5,86.5 569.0,86.5 569.5,86.5 570.0,86.5 570.5,87.5 571.0,87.5 571.5,87.5 572.0,87.5 572.5,87.5 573.0,87.5 573.5,87.5 574.0,87.5 574.5,87.5 575.0,87.5 575.5,88.5 576.0,87.5 576.5,88.5 577.0,88.5 577.5,87.5 578.0,87.5 578.5,88.5 579.0,88.5 579.5,88.5 580.0,88.5 580.5,88.5 581.0,87.5 581.5,87.5 582.0,88.5 582.5,88.5 583.0,88.5 583.5,88.5 584.0,88.5 584.5,88.5 585.0,88.5 585.5,88.5 586.0,88.5 586.5,88.5 587.0,88.5 587.5,89.5 588.0,89.5 588.5,89.5 589.0,89.5 589.5,89.5 590.0,89.5 590.5,89.5 591.0,89.5 591.5,90.5 592.0,90.5 592.5,90.5 593.0,90.5 593.5,90.5 594.0,91.5 594.5,91.5 595.0,91.5 595.5,92.5 596.0,92.5 596.5,92.5 597.0,92.5 597.5,92.5 598.0,92.5 598.5,92.5 599.0,93.5 599.5,92.5 600.0,93.5 600.5,92.5 601.0,92.5 601.5,92.5 602.0,92.5 602.5,92.5 603.0,92.5 603.5,92.5 604.0,92.5 604.5,92.5 605.0,92.5 605.5,91.5 606.0,92.5 606.5,92.5 607.0,92.5 607.5,92.5 608.0,92.5 608.5,92.5 609.0,92.5 609.5,92.5 610.0,93.5 610.5,92.5 611.0,92.5 611.5,92.5 612.0,92.5 612.5,92.5 613.0,91.5 613.5,91.5 614.0,91.5 614.5,91.5 615.0,92.5 615.5,92.5 616.0,92.5 616.5,93.5 617.0,94.5 617.5,94.5" fill="none" stroke="#00c000" stroke-width="1.2" shape-rendering="crispEdges"/>
<use href="#c54" x="482" y="58"/><use href="#c28" x="489" y="58"/><use href="#c64" x="496" y="58"/><use href="#c65" x="503" y="58"/><use href="#c67" x="510" y="58"/><use href="#c29" x="517" y="58"/><use href="#c32" x="531" y="58"/><use href="#c39" x="538" y="58"/><use href="#c2e" x="545" y="58"/><use href="#c35" x="552" y="58"/><use href="#c6d" x="559" y="58"/>
<text class="t" x="482" y="66">T(deg) 29.5m</text>
<rect x="573" y="61" width="33" height="1" fill="#0080ff"/>
<polyline points="98.0,89.5 98.5,87.5 99.0,90.5 99.5,89.5 100.0,89.5 100.5,90.5 101.0,90.5 101.5,90.5 102.0,89.5 102.5,89.5 103.0,90.5 103.5,90.5 104.0,91.5 104.5,89.5 105.0,90.5 105.5,89.5 106.0,89.5 106.5,91.5 107.0,91.5 107.5,89.5 108.0,90.5 108.5,91.5 109.0,90.5 109.5,89.5 110.0,91.5 110.5,91.5 111.0,91.5 111.5,90.5 112.0,91.5 112.5,90.5 113.0,93.5 113.5,90.5 114.0,90.5 114.5,91.5 115.0,93.5 115.5,92.5 116.0,92.5 116.5,92.5 117.0,93.5 117.5,94.5 118.0,95.5 118.5,97.5 119.0,97.5 119.5,97.5 120.0,97.5 120.5,97.5 121.0,96.5 121.5,98.5 122.0,99.5 122.5,98.5 123.0,98.5 123.5,97.5 124.0,98.5 124.5,97.5 125.0,96.5 125.5,97.5 126.0,96.5 126.5,97.5 127.0,95.5 127.5,99.5 128.0,100.5 128.5,100.5 129.0,100.5 129.5,101.5 130.0,101.5 130.5,99.5 131.0,103.5 131.5,100.5 132.0,100.5 132.5,101.5 133.0,101.5 133.5,103.5 134.0,102.5 134.5,104.5 135.0,106.5 135.5,103.5 136.0,104.5 136.5,100.5 137.0,100.5 137.5,99.5 138.0,100.5 138.5,101.5 139.0,103.5 139.5,103.5 140.0,104.5 140.5,105.5 141.0,104.5 141.5,104.5 142.0,105.5 142.5,106.5 143.0,106.5 143.5,106.5 144.0,106.5 144.5,106.5 145.0,106.5 145.5,104.5 146.0,100.5 146.5,99.5 147.0,100.5 147.5,100.5 148.0,98.5 148.5,99.5 149.0,101.5 149.5,102.5 150.0,101.5 150.5,99.5 151.0,101.5 151.5,103.5 152.0,104.5 152.5,107.5 153.0,110.5 153.5,109.5 154.0,108.5 154.5,109.5 155.0,110.5 155.5,111.5 156.0,111.5 156.5,115.5 157.0,115.5 157.5,117.5 158.0,115.5 158.5,114.5 159.0,114.5 159.5,113.5 160.0,112.5 160.5,112.5 161.0,110.5 161.5,111.5 162.0,112.5 162.5,112.5 163.0,113.5 163.5,112.5 164.0,113.5 164.5,111.5 165.0,113.5 165.5,110.5 166.0,110.5 166.5,108.5 167.0,108.5 167.5,110.5 168.0,106.5 168.5,107.5 169.0,106.5 169.5,108.5 170.0,111.5 170.5,112.5 171.0,112.5 171.5,109.5 172.0,109.5 172.5,108.5 173.0,108.5 173.5,107.5 174.0,106.5 174.5,109.5 175.0,108.5 175.5,108.5 176.0,111.5 176.5,110.5 177.0,110.5 177.5,111.5 178.0,110.5 178.5,110.5 179.0,110.5 179.5,108.5 180.0,110.5 180.5,109.5 181.0,112.5 181.5,111.5 182.0,112.5 182.5,115.5 183.0,115.5 183.5,115.5 184.0,115.5 184.5,115.5 185.0,114.5 185.5,111.5 186.0,108.5 186.5,106.5 187.0,107.5 187.5,111.5 188.0,113.5 188.5,112.5 189.0,110.5 189.5,108.5 190.0,107.5 190.5,108.5 191.0,102.5 191.5,105.5 192.0,107.5 192.5,106.5 193.0,110.5 193.5,107.5 194.0,106.5 194.5,101.5 195.0,101.5 195.5,104.5 196.0,111.5 196.5,111.5 197.0,114.5 197.5,118.5 198.0,119.5 198.5,119.5 199.0,118.5 199.5,118.5 200.0,120.5 200.5,120.5 201.0,119.5 201.5,120.5 202.0,119.5 202.5,120.5 203.0,119.5 203.5,120.5 204.0,120.5 204.5,119.5 205.0,119.5 205.5,119.5 206.0,115.5 206.5,117.5 207.0,116.5 207.5,115.5 208.0,113.5 208.5,109.5 209.0,108.5 209.5,106.5 210.0,108.5 210.5,107.5 211.0,108.5 211.5,110.5 212.0,115.5 212.5,121.5 213.0,126.5 213.5,126.5 214.0,125.5 214.5,123.5 215.0,124.5 215.5,124.5 216.0,126.5 216.5,125.5 217.0,124.5 217.5,124.5 218.0,122.5 218.5,122.5 219.0,125.5 219.5,124.5 220.0,127.5 220.5,125.5 221.0,124.5 221.5,123.5 222.0,123.5 222.5,123.5 223.0,120.5 223.5,122.5 224.0,120.5 224.5,121.5 225.0,120.5 225.5,121.5 226.0,121.5 226.5,117.5 227.0,117.5 227.5,118.5 228.0,119.5 228.5,121.5 229.0,120.5 229.5,119.5 230.0,117.5 230.5,117.5 231.0,114.5 231.5,113.5 232.0,115.5 232.5,117.5 233.0,118.5 233.5,120.5 234.0,120.5 234.5,118.5 235.0,120.5 235.5,119.5 236.0,119.5 236.5,119.5 237.0,116.5 237.5,114.5 238.0,113.5 238.5,110.5 239.0,109.5 239.5,107.5 240.0,105.5 240.5,105.5 241.0,103.5 241.5,102.5 242.0,101.5 242.5,102.5 243.0,106.5 243.5,102.5 244.0,105.5 244.5,104.5 245.0,105.5 245.5,109.5 246.0,112.5 246.5,113.5 247.0,118.5 247.5,120.5 248.0,122.5 248.5,123.5 249.0,120.5 249.5,120.5 250.0,120.5 250.5,117.5 251.0,112.5 251.5,111.5 252.0,108.5 252.5,105.5 253.0,105.5 253.5,106.5 254.0,107.5 254.5,110.5 255.0,105.5 255.5,104.5 256.0,102.5 256.5,101.5 257.0,99.5 257.5,100.5 258.0,100.5 258.5,103.5 259.0,103.5 259.5,103.5 260.0,102.5 260.5,101.5 261.0,102.5 261.5,102.5 262.0,100.5 262.5,100.5 263.0,100.5 263.5,100.5 264.0,99.5 264.5,99.5 265.0,97.5 265.5,97.5 266.0,95.5 266.5,95.5 267.0,97.5 267.5,94.5 268.0,94.5 268.5,93.5 269.0,93.5 269.5,91.5 270.0,90.5 270.5,90.5 271.0,88.5 271.5,90.5 272.0,91.5 272.5,92.5 273.0,92.5 273.5,90.5 274.0,90.5 274.5,90.5 275.0,90.5 275.5,90.5 276.0,88.5 276.5,88.5 277.0,88.5 277.5,86.5 278.0,87.5 278.5,85.5 279.0,87.5 279.5,86.5 280.0,86.5 280.5,84.5 281.0,85.5 281.5,86.5 282.0,85.5 282.5,85.5 283.0,84.5 283.5,84.5 284.0,84.5 284.5,82.5 285.0,80.5 285.5,80.5 286.0,78.5 286.5,78.5 287.0,78.5 287.5,79.5 288.0,79.5 288.5,81.5 289.0,82.5 289.5,81.5 290.0,82.5 290.5,82.5 291.0,82.5 291.5,81.5 292.0,81.5 292.5,82.5 293.0,80.5 293.5,80.5 294.0,78.5 294.5,78.5 295.0,77.5 295.5,76.5 296.0,77.5 296.5,78.5 297.0,77.5 297.5,77.5 298.0,79.5 298.5,79.5 299.0,77.5 299.5,77.5 300.0,76.5 300.5,74.5 301.0,72.5 301.5,72.5 302.0,74.5 302.5,72.5 303.0,72.5 303.5,74.5 304.0,74.5 304.5,76.5 305.0,76.5 305.5,75.5 306.0,74.5 306.5,74.5 307.0,75.5 307.5,75.5 308.0,75.5 308.5,76.5 309.0,76.5 309.5,75.5 310.0,74.5 310.5,72.5 311.0,72.5 311.5,71.5 312.0,72.5 312.5,71.5 313.0,70.5 313.5,70.5 314.0,70.5 314.5,68.5 315.0,66.5 315.5,66.5 316.0,66.5 316.5,66.5 317.0,66.5 317.5,65.5 318.0,65.5 318.5,65.5 319.0,65.5 319.5,63.5 320.0,63.5 320.5,63.5 321.0,63.5 321.5,62.5 322.0,63.5 322.5,65.5 323.0,65.5 323.5,65.5 324.0,65.5 324.5,64.5 325.0,64.5 325.5,61.5 326.0,61.5 326.5,61.5 327.0,61.5 327.5,63.5 328.0,64.5 328.5,64.5 329.0,61.5 329.5,61.5 330.0,59.5 330.5,57.5 331.0,58.5 331.5,58.5 332.0,60.5 332.5,61.5 333.0,61.5 333.5,62.5 334.0,62.5 334.5,60.5 335.0,60.5 335.5,60.5 336.0,59.5 336.5,58.5 337.0,59.5 337.5,57.5 338.0,56.5 338.5,56.5 339.0,54.5 339.5,56.5 340.0,56.5 340.5,56.5 341.0,57.5 341.5,55.5 342.0,53.5 342.5,53.5 343.0,56.5 343.5,55.5 344.0,56.5 344.5,56.5 345.0,56.5 345.5,55.5 346.0,55.5 346.5,54.5 347.0,54.5 347.5,53.5 348.0,53.5 348.5,54.5 349.0,53.5 349.5,52.5 350.0,52.5 350.5,51.5 351.0,51.5 351.5,51.5 352.0,51.5 352.5,51.5 353.0,50.5 353.5,47.5 354.0,49.5 354.5,49.5 355.0,50.5 355.5,47.5 356.0,47.5 356.5,49.5 357.0,50.5 357.5,50.5 358.0,50.5 358.5,51.5 359.0,51.5 359.5,49.5 360.0,49.5 360.5,49.5 361.0,50.5 361.5,50.5 362.0,50.5 362.5,49.5 363.0,48.5 363.5,48.5 364.0,48.5 364.5,47.5 365.0,46.5 365.5,47.5 366.0,45.5 366.5,45.5 367.0,45.5 367.5,43.5 368.0,46.5 368.5,46.5 369.0,45.5 369.5,46.5 370.0,47.5 370.5,46.5 371.0,45.5 371.5,46.5 372.0,45.5 372.5,45.5 373.0,44.5 373.5,45.5 374.0,45.5 374.5,46.5 375.0,45.5 375.5,45.5 376.0,44.5 376.5,45.5 377.0,46.5 377.5,44.5 378.0,44.5 378.5,43.5 379.0,42.5 379.5,43.5 380.0,42.5 380.5,41.5 381.0,37.5 381.5,40.5 382.0,41.5 382.5,42.5 383.0,42.5 383.5,42.5 384.0,44.5 384.5,44.5 385.0,45.5 385.5,45.5 386.0,44.5 386.5,45.5 387.0,45.5 387.5,45.5 388.0,45.5 388.5,45.5 389.0,45.5 389.5,45.5 390.0,44.5 390.5,43.5 391.0,43.5 391.5,43.5 392.0,43.5 392.5,42.5 393.0,43.5 393.5,43.5 394.0,43.5 394.5,44.5 395.0,45.5 395.5,45.5 396.0,43.5 396.5,43.5 397.0,43.5 397.5,42.5 398.0,41.5 398.5,40.5 399.0,40.5 399.5,42.5 400.0,39.5 400.5,39.5 401.0,40.5 401.5,40.5 402.0,40.5 402.5,41.5 403.0,41.5 403.5,41.5 404.0,40.5 404.5,44.5 405.0,45.5 405.5,42.5 406.0,42.5 406.5,41.5 407.0,42.5 407.5,42.5 408.0,42.5 408.5,43.5 409.0,41.5 409.5,41.5 410.0,40.5 410.5,41.5 411.0,42.5 411.5,40.5 412.0,41.5 412.5,40.5 413.0,40.5 413.5,40.5 414.0,40.5 414.5,41.5 415.0,40.5 415.5,39.5 416.0,40.5 416.5,37.5 417.0,40.5 417.5,40.5 418.0,40.5 418.5,40.5 419.0,41.5 419.5,41.5 420.0,42.5 420.5,42.5 421.0,43.5 421.5,42.5 422.0,42.5 422.5,42.5 423.0,44.5 423.5,43.5 424.0,44.5 424.5,43.5 425.0,42.5 425.5,41.5 426.0,41.5 426.5,41.5 427.0,42.5 427.5,42.5 428.0,42.5 428.5,41.5 429.0,41.5 429.5,39.5 430.0,41.5 430.5,41.5 431.0,41.5 431.5,41.5 432.0,42.5 432.5,42.5 433.0,41.5 433.5,41.5 434.0,41.5 434.5,41.5 435.0,41.5 435.5,41.5 436.0,41.5 436.5,41.5 437.0,41.5 437.5,41.5 438.0,41.5 438.5,41.5 439.0,42.5 439.5,42.5 440.0,42.5 440.5,42.5 441.0,41.5 441.5,41.5 442.0,41.5 442.5,41.5 443.0,41.5 443.5,40.5 444.0,40.5 444.5,40.5 445.0,40.5 445.5,40.5 446.0,40.5 446.5,41.5 447.0,41.5 447.5,41.5 448.0,42.5 448.5,42.5 449.0,42.5 449.5,42.5 450.0,42.5 450.5,43.5 451.0,43.5 451.5,43.5 452.0,43.5 452.5,43.5 453.0,43.5 453.5,42.5 454.0,42.5 454.5,43.5 455.0,42.5 455.5,42.5 456.0,42.5 456.5,43.5 457.0,43.5 457.5,43.5 458.0,43.5 458.5,44.5 459.0,44.5 459.5,44.5 460.0,44.5 460.5,44.5 461.0,44.5 461.5,44.5 462.0,45.5 462.5,44.5 463.0,44.5 463.5,45.5 464.0,45.5 464.5,45.5 465.0,45.5 465.5,45.5 466.0,44.5 466.5,45.5 467.0,45.5 467.5,45.5 468.0,46.5 468.5,46.5 469.0,46.5 469.5,46.5 470.0,47.5 470.5,47.5 471.0,48.5 471.5,48.5 472.0,48.5 472.5,48.5 473.0,48.5 473.5,49.5 474.0,49.5 474.5,49.5 475.0,49.5 475.5,49.5 476.0,49.5 476.5,49.5 477.0,50.5 477.5,50.5 478.0,50.5 478.5,50.5 479.0,51.5 479.5,51.5 480.0,51.5 480.5,52.5 481.0,52.5 481.5,52.5 482.0,52.5 482.5,52.5 483.0,53.5 483.5,53.5 484.0,52.5 484.5,52.5 485.0,52.5 485.5,53.5 486.0,53.5 486.5,53.5 487.0,52.5 487.5,53.5 488.0,52.5 488.5,53.5 489.0,53.5 489.5,53.5 490.0,52.5 490.5,53.5 491.0,53.5 491.5,52.5 492.0,52.5 492.5,53.5 493.0,52.5 493.5,52.5 494.0,52.5 494.5,52.5 495.0,52.5 495.5,52.5 496.0,53.5 496.5,53.5 497.0,53.5 497.5,53.5 498.0,53.5 498.5,53.5 499.0,53.5 499.5,53.5 500.0,53.5 500.5,53.5 501.0,53.5 501.5,54.5 502.0,55.5 502.5,57.5 503.0,59.5 503.5,60.5 504.0,60.5 504.5,61.5 505.0,61.5 505.5,61.5 506.0,62.5 506.5,62.5 507.0,62.5 507.5,62.5 508.0,63.5 508.5,63.5 509.0,63.5 509.5,65.5 510.0,66.5 510.5,67.5 511.0,69.5 511.5,71.5 512.0,72.5 512.5,73.5 513.0,73.5 513.5,73.5 514.0,74.5 514.5,74.5 515.0,74.5 515.5,75.5 516.0,75.5 516.5,75.5 517.0,76.5 517.5,76.5 518.0,76.5 518.5,76.5 519.0,76.5 519.5,77.5 520.0,77.5 520.5,77.5 521.0,77.5 521.5,78.5 522.0,78.5 522.5,78.5 523.0,78.5 523.5,78.5 524.0,78.5 524.5,78.5 525.0,78.5 525.5,78.5 526.0,78.5 526.5,79.5 527.0,79.5 527.5,79.5 528.0,79.5 528.5,79.5 529.0,80.5 529.5,80.5 530.0,80.5 530.5,80.5 531.0,81.5 531.5,81.5 532.0,81.5 532.5,81.5 533.0,81.5 533.5,81.5 534.0,81.5 534.5,81.5 535.0,81.5 535.5,81.5 536.0,81.5 536.5,81.5 537.0,81.5 537.5,81.5 538.0,82.5 538.5,82.5 539.0,82.5 539.5,83.5 540.0,83.5 540.5,83.5 541.0,83.5 541.5,83.5 542.0,83.5 542.5,83.5 543.0,83.5 543.5,83.5 544.0,83.5 544.5,84.5 545.0,84.5 545.5,83.5 546.0,83.5 546.5,83.5 547.0,83.5 547.5,83.5 548.0,83.5 548.5,84.5 549.0,83.5 549.5,84.5 550.0,83.5 550.5,84.5 551.0,84.5 551.5,85.5 552.0,84.5 552.5,84.5 553.0,85.5 553.5,85.5 554.0,85.5 554.5,85.5 555.0,85.5 555.5,85.5 556.0,85.5 556.5,85.5 557.0,85.5 557.5,84.5 558.0,84.5 558.5,84.5 559.0,84.5 559.5,84.5 560.0,84.5 560.5,84.5 561.0,84.5 561.5,84.5 562.0,84.5 562.5,84.5 563.0,84.5 563.5,84.5 564.0,84.5 564.5,84.5 565.0,84.5 565.5,84.5 566.0,84.5 566.5,84.5 567.0,85.5 567.5,84.5 568.0,85.5 568.5,85.5 569.0,85.5 569.5,85.5 570.0,85.5 570.5,85.5 571.0,85.5 571.5,86.5 572.0,86.5 572.5,86.5 573.0,86.5 573.5,86.5 574.0,86.5 574.5,86.5 575.0,86.5 575.5,86.5 576.0,86.5 576.5,87.5 577.0,87.5 577.5,86.5 578.0,87.5 578.5,87.5 579.0,87.5 579.5,87.5 580.0,87.5 580.5,87.5 581.0,87.5 581.5,87.5 582.0,87.5 582.5,87.5 583.0,87.5 583.5,87.5 584.0,87.5 584.5,87.5 585.0,88.5 585.5,87.5 586.0,88.5 586.5,87.5 587.0,88.5 587.5,88.5 588.0,87.5 588.5,88.5 589.0,88.5 589.5,88.5 590.0,88.5 590.5,88.5 591.0,88.5 591.5,89.5 592.0,89.5 592.5,89.5 593.0,89.5 593.5,90.5 594.0,90.5 594.5,90.5 595.0,90.5 595.5,90.5 596.0,90.5 596.5,91.5 597.0,91.5 597.5,91.5 598.0,91.5 598.5,91.5 599.0,91.5 599.5,92.5 600.0,92.5 600.5,92.5 601.0,91.5 601.5,91.5 602.0,91.5 602.5,91.5 603.0,91.5 603.5,91.5 604.0,91.5 604.5,90.5 605.0,91.5 605.5,91.5 606.0,90.5 606.5,90.5 607.0,90.5 607.5,90.5 608.0,90.5 608.5,91.5 609.0,91.5 609.5,91.5 610.0,91.5 610.5,91.5 611.0,91.5 611.5,90.5 612.0,90.5 612.5,90.5 613.0,90.5 613.5,90.5 614.0,90.5 614.5,90.5 615.0,90.5 615.5,91.5 616.0,91.5 616.5,91.5 617.0,92.5 617.5,93.5" fill="none" stroke="#0080ff" stroke-width="1.2" shape-rendering="crispEdges"/>
<rect x="55" y="181" width="565" height="1" fill="#000"/>
<rect x="55" y="322" width="565" height="1" fill="#000"/>
<rect x="55" y="181" width="1" height="142" fill="#000"/>
<rect x="619" y="181" width="1" height="142" fill="#000"/>
<rect x="66" y="320" width="1" height="2" fill="#000"/>
<rect x="66" y="182" width="1" height="2" fill="#000"/>
<rect x="77" y="320" width="1" height="2" fill="#000"/>
<rect x="77" y="182" width="1" height="2" fill="#000"/>
<rect x="88" y="320" width="1" height="2" fill="#000"/>
<rect x="88" y="182" width="1" height="2" fill="#000"/>
<rect x="98" y="318" width="1" height="4" fill="#000"/>
<rect x="98" y="182" width="1" height="4" fill="#000"/>
<rect x="109" y="320" width="1" height="2" fill="#000"/>
<rect x="109" y="182" width="1" height="2" fill="#000"/>
<rect x="120" y="320" width="1" height="2" fill="#000"/>
<rect x="120" y="182" width="1" height="2" fill="#000"/>
<rect x="131" y="320" width="1" height="2" fill="#000"/>
<rect x="131" y="182" width="1" height="2" fill="#000"/>
<rect x="142" y="318" width="1" height="4" fill="#000"/>
<rect x="142" y="182" width="1" height="4" fill="#000"/>
<rect x="153" y="320" width="1" height="2" fill="#000"/>
<rect x="153" y="182" width="1" height="2" fill="#000"/>
<rect x="163" y="320" width="1" height="2" fill="#000"/>
<rect x="163" y="182" width="1" height="2" fill="#000"/>
<rect x="174" y="320" width="1" height="2" fill="#000"/>
<rect x="174" y="182" width="1" height="2" fill="#000"/>
<rect x="185" y="318" width="1" height="4" fill="#000"/>
<rect x="185" y="182" width="1" height="4" fill="#000"/>
<rect x="196" y="320" width="1" height="2" fill="#000"/>
<rect x="196" y="182" width="1" height="2" fill="#000"/>
<rect x="207" y="320" width="1" height="2" fill="#000"/>
<rect x="207" y="182" width="1" height="2" fill="#000"/>
<rect x="218" y="320" width="1" height="2" fill="#000"/>
<rect x="218" y="182" width="1" height="2" fill="#000"/>
<rect x="229" y="318" width="1" height="4" fill="#000"/>
<rect x="229" y="182" width="1" height="4" fill="#000"/>
<rect x="239" y="320" width="1" height="2" fill="#000"/>
<rect x="239" y="182" width="1" height="2" fill="#000"/>
<rect x="250" y="320" width="1" height="2" fill="#000"/>
<rect x="250" y="182" width="1" height="2" fill="#000"/>
<rect x="261" y="320" width="1" height="2" fill="#000"/>
<rect x="261" y="182" width="1" height="2" fill="#000"/>
<rect x="272" y="318" width="1" height="4" fill="#000"/>
<rect x="272" y="182" width="1" height="4" fill="#000"/>
<rect x="283" y="320" width="1" height="2" fill="#000"/>
<rect x="283" y="182" width="1" height="2" fill="#000"/>
<rect x="294" y="320" width="1" height="2" fill="#000"/>
<rect x="294" y="182" width="1" height="2" fill="#000"/>
<rect x="304" y="320" width="1" height="2" fill="#000"/>
<rect x="304" y="182" width="1" height="2" fill="#000"/>
<rect x="315" y="318" width="1" height="4" fill="#000"/>
<rect x="315" y="182" width="1" height="4" fill="#000"/>
<rect x="326" y="320" width="1" height="2" fill="#000"/>
<rect x="326" y="182" width="1" height="2" fill="#000"/>
<rect x="337" y="320" width="1" height="2" fill="#000"/>
<rect x="337" y="182" width="1" height="2" fill="#000"/>
<rect x="348" y="320" width="1" height="2" fill="#000"/>
<rect x="348" y="182" width="1" height="2" fill="#000"/>
<rect x="359" y="318" width="1" height="4" fill="#000"/>
<rect x="359" y="182" width="1" height="4" fill="#000"/>
<rect x="370" y="320" width="1" height="2" fill="#000"/>
<rect x="370" y="182" width="1" height="2" fill="#000"/>
<rect x="380" y="320" width="1" height="2" fill="#000"/>
<rect x="380" y="182" width="1" height="2" fill="#000"/>
<rect x="391" y="320" width="1" height="2" fill="#000"/>
<rect x="391" y="182" width="1" height="2" fill="#000"/>
<rect x="402" y="318" width="1" height="4" fill="#000"/>
<rect x="402" y="182" width="1" height="4" fill="#000"/>
<rect x="413" y="320" width="1" height="2" fill="#000"/>
<rect x="413" y="182" width="1" height="2" fill="#000"/>
<rect x="424" y="320" width="1" height="2" fill="#000"/>
<rect x="424" y="182" width="1" height="2" fill="#000"/>
<rect x="435" y="320" width="1" height="2" fill="#000"/>
<rect x="435" y="182" width="1" height="2" fill="#000"/>
<rect x="445" y="318" width="1" height="4" fill="#000"/>
<rect x="445" y="182" width="1" height="4" fill="#000"/>
<rect x="456" y="320" width="1" height="2" fill="#000"/>
<rect x="456" y="182" width="1" height="2" fill="#000"/>
<rect x="467" y="320" width="1" height="2" fill="#000"/>
<rect x="467" y="182" width="1" height="2" fill="#000"/>
<rect x="478" y="320" width="1" height="2" fill="#000"/>
<rect x="478" y="182" width="1" height="2" fill="#000"/>
<rect x="489" y="318" width="1" height="4" fill="#000"/>
<rect x="489" y="182" width="1" height="4" fill="#000"/>
<rect x="500" y="320" width="1" height="2" fill="#000"/>
<rect x="500" y="182" width="1" height="2" fill="#000"/>
<rect x="511" y="320" width="1" height="2" fill="#000"/>
<rect x="511" y="182" width="1" height="2" fill="#000"/>
<rect x="521" y="320" width="1" height="2" fill="#000"/>
<rect x="521" y="182" width="1" height="2" fill="#000"/>
<rect x="532" y="318" width="1" height="4" fill="#000"/>
<rect x="532" y="182" width="1" height="4" fill="#000"/>
<rect x="543" y="320" width="1" height="2" fill="#000"/>
<rect x="543" y="182" width="1" height="2" fill="#000"/>
<rect x="554" y="320" width="1" height="2" fill="#000"/>
<rect x="554" y="182" width="1" height="2" fill="#000"/>
<rect x="565" y="320" width="1" height="2" fill="#000"/>
<rect x="565" y="182" width="1" height="2" fill="#000"/>
<rect x="576" y="318" width="1" height="4" fill="#000"/>
<rect x="576" y="182" width="1" height="4" fill="#000"/>
<rect x="586" y="320" width="1" height="2" fill="#000"/>
<rect x="586" y="182" width="1" height="2" fill="#000"/>
<rect x="597" y="320" width="1" height="2" fill="#000"/>
<rect x="597" y="182" width="1" height="2" fill="#000"/>
<rect x="608" y="320" width="1" height="2" fill="#000"/>
<rect x="608" y="182" width="1" height="2" fill="#000"/>
<use href="#c31" x="20" y="178"/><use href="#c33" x="27" y="178"/><use href="#c2e" x="34" y="178"/><use href="#c34" x="41" y="178"/>
<text class="t" x="20" y="186">13.4</text>
<rect x="56" y="205" width="4" height="1" fill="#000"/>
<rect x="615" y="205" width="4" height="1" fill="#000"/>
<use href="#c31" x="20" y="202"/><use href="#c33" x="27" y="202"/><use href="#c2e" x="34" y="202"/><use href="#c32" x="41" y="202"/>
<text class="t" x="20" y="210">13.2</text>
<rect x="56" y="228" width="4" height="1" fill="#000"/>
<rect x="615" y="228" width="4" height="1" fill="#000"/>
<use href="#c31" x="34" y="225"/><use href="#c33" x="41" y="225"/>
<text class="t" x="34" y="233">13</text>
<rect x="56" y="252" width="4" height="1" fill="#000"/>
<rect x="615" y="252" width="4" height="1" fill="#000"/>
<use href="#c31" x="20" y="249"/><use href="#c32" x="27" y="249"/><use href="#c2e" x="34" y="249"/><use href="#c38" x="41" y="249"/>
<text class="t" x="20" y="257">12.8</text>
<rect x="56" y="275" width="4" height="1" fill="#000"/>
<rect x="615" y="275" width="4" height="1" fill="#000"/>
<use href="#c31" x="20" y="272"/><use href="#c32" x="27" y="272"/><use href="#c2e" x="34" y="272"/><use href="#c36" x="41" y="272"/>
<text class="t" x="20" y="280">12.6</text>
<rect x="56" y="299" width="4" height="1" fill="#000"/>
<rect x="615" y="299" width="4" height="1" fill="#000"/>
<use href="#c31" x="20" y="296"/><use href="#c32" x="27" y="296"/><use href="#c2e" x="34" y="296"/><use href="#c34" x="41" y="296"/>
<text class="t" x="20" y="304">12.4</text>
<use href="#c31" x="20" y="319"/><use href="#c32" x="27" y="319"/><use href="#c2e" x="34" y="319"/><use href="#c32" x="41" y="319"/>
<text class="t" x="20" y="327">12.2</text>
<use href="#c54" x="475" y="188"/><use href="#c73" x="482" y="188"/><use href="#c28" x="489" y="188"/><use href="#c64" x="496" y="188"/><use href="#c65" x="503" y="188"/><use href="#c67" x="510" y="188"/><use href="#c29" x="517" y="188"/><use href="#c31" x="538" y="188"/><use href="#c2e" x="545" y="188"/><use href="#c36" x="552" y="188"/><use href="#c6d" x="559" y="188"/>
<text class="t" x="475" y="196">Ts(deg)  1.6m</text>
<rect x="573" y="191" width="33" height="1" fill="#ff0000"/>
<use href="#c54" x="475" y="201"/><use href="#c73" x="482" y="201"/><use href="#c28" x="489" y="201"/><use href="#c64" x="496" y="201"/><use href="#c65" x="503" y="201"/><use href="#c67" x="510" y="201"/><use href="#c29" x="517" y="201"/><use href="#c31" x="531" y="201"/><use href="#c32" x="538" y="201"/><use href="#c2e" x="545" y="201"/><use href="#c33" x="552" y="201"/><use href="#c6d" x="559" y="201"/>
<text class="t" x="475" y="209">Ts(deg) 12.3m</text>
<rect x="573" y="204" width="33" height="1" fill="#00c000"/>
<use href="#c54" x="475" y="214"/><use href="#c73" x="482" y="214"/><use href="#c28" x="489" y="214"/><use href="#c64" x="496" y="214"/><use href="#c65" x="503" y="214"/><use href="#c67" x="510" y="214"/><use href="#c29" x="517" y="214"/><use href="#c32" x="531" y="214"/><use href="#c39" x="538" y="214"/><use href="#c2e" x="545" y="214"/><use href="#c35" x="552" y="214"/><use href="#c6d" x="559" y="214"/>
<text class="t" x="475" y="222">Ts(deg) 29.5m</text>
<rect x="573" y="217" width="33" height="1" fill="#0080ff"/>
<rect x="350" y="185" width="1" height="1" fill="#ff0000"/>
<rect x="350" y="186" width="1" height="1" fill="#00c000"/>
<rect x="350" y="304" width="1" height="1" fill="#0080ff"/>
<rect x="55" y="337" width="565" height="1" fill="#000"/>
<rect x="55" y="478" width="565" height="1" fill="#000"/>
<rect x="55" y="337" width="1" height="142" fill="#000"/>
<rect x="619" y="337" width="1" height="142" fill="#000"/>
<rect x="77" y="476" width="1" height="2" fill="#000"/>
<rect x="77" y="338" width="1" height="2" fill="#000"/>
<rect x="98" y="474" width="1" height="4" fill="#000"/>
<rect x="98" y="338" width="1" height="4" fill="#000"/>
<rect x="120" y="476" width="1" height="2" fill="#000"/>
<rect x="120" y="338" width="1" height="2" fill="#000"/>
<rect x="142" y="474" width="1" height="4" fill="#000"/>
<rect x="142" y="338" width="1" height="4" fill="#000"/>
<rect x="163" y="476" width="1" height="2" fill="#000"/>
<rect x="163" y="338" width="1" height="2" fill="#000"/>
<rect x="185" y="474" width="1" height="4" fill="#000"/>
<rect x="185" y="338" width="1" height="4" fill="#000"/>
<rect x="207" y="476" width="1" height="2" fill="#000"/>
<rect x="207" y="338" width="1" height="2" fill="#000"/>
<rect x="229" y="474" width="1" height="4" fill="#000"/>
<rect x="229" y="338" width="1" height="4" fill="#000"/>
<rect x="250" y="476" width="1" height="2" fill="#000"/>
<rect x="250" y="338" width="1" height="2" fill="#000"/>
<rect x="272" y="474" width="1" height="4" fill="#000"/>
<rect x="272" y="338" width="1" height="4" fill="#000"/>
<rect x="294" y="476" width="1" height="2" fill="#000"/>
<rect x="294" y="338" width="1" height="2" fill="#000"/>
<rect x="315" y="474" width="1" height="4" fill="#000"/>
<rect x="315" y="338" width="1" height="4" fill="#000"/>
<rect x="337" y="476" width="1" height="2" fill="#000"/>
<rect x="337" y="338" width="1" height="2" fill="#000"/>
<rect x="359" y="474" width="1" height="4" fill="#000"/>
<rect x="359" y="338" width="1" height="4" fill="#000"/>
<rect x="380" y="476" width="1" height="2" fill="#000"/>
<rect x="380" y="338" width="1" height="2" fill="#000"/>
<rect x="402" y="474" width="1" height="4" fill="#000"/>
<rect x="402" y="338" width="1" height="4" fill="#000"/>
<rect x="424" y="476" width="1" height="2" fill="#000"/>
<rect x="424" y="338" width="1" height="2" fill="#000"/>
<rect x="445" y="474" width="1" height="4" fill="#000"/>
<rect x="445" y="338" width="1" height="4" fill="#000"/>
<rect x="467" y="476" width="1" height="2" fill="#000"/>
<rect x="467" y="338" width="1" height="2" fill="#000"/>
<rect x="489" y="474" width="1" height="4" fill="#000"/>
<rect x="489" y="338" width="1" height="4" fill="#000"/>
<rect x="511" y="476" width="1" height="2" fill="#000"/>
<rect x="511" y="338" width="1" height="2" fill="#000"/>
<rect x="532" y="474" width="1" height="4" fill="#000"/>
<rect x="532" y="338" width="1" height="4" fill="#000"/>
<rect x="554" y="476" width="1" height="2" fill="#000"/>
<rect x="554" y="338" width="1" height="2" fill="#000"/>
<rect x="576" y="474" width="1" height="4" fill="#000"/>
<rect x="576" y="338" width="1" height="4" fill="#000"/>
<rect x="597" y="476" width="1" height="2" fill="#000"/>
<rect x="597" y="338" width="1" height="2" fill="#000"/>
<use href="#c31" x="34" y="334"/><use href="#c30" x="41" y="334"/>
<text class="t" x="34" y="342">10</text>
<rect x="56" y="357" width="4" height="1" fill="#000"/>
<rect x="615" y="357" width="4" height="1" fill="#000"/>
<use href="#c38" x="41" y="354"/>
<text class="t" x="41" y="362">8</text>
<rect x="56" y="377" width="4" height="1" fill="#000"/>
<rect x="615" y="377" width="4" height="1" fill="#000"/>
<use href="#c36" x="41" y="374"/>
<text class="t" x="41" y="382">6</text>
<rect x="56" y="397" width="4" height="1" fill="#000"/>
<rect x="615" y="397" width="4" height="1" fill="#000"/>
<use href="#c34" x="41" y="394"/>
<text class="t" x="41" y="402">4</text>
<rect x="56" y="418" width="4" height="1" fill="#000"/>
<rect x="615" y="418" width="4" height="1" fill="#000"/>
<use href="#c32" x="41" y="415"/>
<text class="t" x="41" y="423">2</text>
<rect x="56" y="438" width="4" height="1" fill="#000"/>
<rect x="615" y="438" width="4" height="1" fill="#000"/>
<use href="#c30" x="41" y="435"/>
<text class="t" x="41" y="443">0</text>
<rect x="56" y="458" width="4" height="1" fill="#000"/>
<rect x="615" y="458" width="4" height="1" fill="#000"/>
<use href="#c2d" x="34" y="455"/><use href="#c32" x="41" y="455"/>
<text class="t" x="34" y="463">-2</text>
<use href="#c2d" x="34" y="475"/><use href="#c34" x="41" y="475"/>
<text class="t" x="34" y="483">-4</text>
<use href="#c54" x="475" y="344"/><use href="#c64" x="482" y="344"/><use href="#c28" x="489" y="344"/><use href="#c64" x="496" y="344"/><use href="#c65" x="503" y="344"/><use href="#c67" x="510" y="344"/><use href="#c29" x="517" y="344"/><use href="#c31" x="538" y="344"/><use href="#c2e" x="545" y="344"/><use href="#c36" x="552" y="344"/><use href="#c6d" x="559" y="344"/>
<text class="t" x="475" y="352">Td(deg)  1.6m</text>
<rect x="573" y="347" width="33" height="1" fill="#ff0000"/>
<polyline points="98.0,354.5 98.5,353.5 99.0,353.5 99.5,352.5 100.0,352.5 100.5,356.5 101.0,354.5 101.5,352.5 102.0,354.5 102.5,357.5 103.0,355.5 103.5,358.5 104.0,360.5 104.5,357.5 105.0,357.5 105.5,356.5 106.0,358.5 106.5,359.5 107.0,360.5 107.5,359.5 108.0,360.5 108.5,356.5 109.0,360.5 109.5,360.5 110.0,368.5 110.5,367.5 111.0,366.5 111.5,366.5 112.0,367.5 112.5,365.5 113.0,367.5 113.5,367.5 114.0,366.5 114.5,366.5 115.0,364.5 115.5,366.5 116.0,372.5 116.5,372.5 117.0,370.5 117.5,369.5 118.0,365.5 118.5,365.5 119.0,363.5 119.5,359.5 120.0,363.5 120.5,362.5 121.0,362.5 121.5,364.5 122.0,363.5 122.5,363.5 123.0,363.5 123.5,364.5 124.0,363.5 124.5,366.5 125.0,369.5 125.5,368.5 126.0,367.5 126.5,366.5 127.0,367.5 127.5,364.5 128.0,369.5 128.5,368.5 129.0,370.5 129.5,369.5 130.0,371.5 130.5,370.5 131.0,370.5 131.5,369.5 132.0,370.5 132.5,371.5 133.0,371.5 133.5,372.5 134.0,372.5 134.5,371.5 135.0,372.5 135.5,374.5 136.0,381.5 136.5,380.5 137.0,386.5 137.5,381.5 138.0,380.5 138.5,378.5 139.0,376.5 139.5,375.5 140.0,375.5 140.5,376.5 141.0,375.5 141.5,376.5 142.0,375.5 142.5,375.5 143.0,378.5 143.5,375.5 144.0,381.5 144.5,381.5 145.0,384.5 145.5,380.5 146.0,384.5 146.5,385.5 147.0,383.5 147.5,381.5 148.0,377.5 148.5,379.5 149.0,382.5 149.5,381.5 150.0,386.5 150.5,384.5 151.0,388.5 151.5,385.5 152.0,384.5 152.5,380.5 153.0,377.5 153.5,374.5 154.0,372.5 154.5,374.5 155.0,374.5 155.5,379.5 156.0,375.5 156.5,373.5 157.0,373.5 157.5,371.5 158.0,373.5 158.5,374.5 159.0,376.5 159.5,376.5 160.0,378.5 160.5,380.5 161.0,382.5 161.5,382.5 162.0,385.5 162.5,385.5 163.0,383.5 163.5,384.5 164.0,383.5 164.5,383.5 165.0,384.5 165.5,385.5 166.0,387.5 166.5,387.5 167.0,392.5 167.5,389.5 168.0,389.5 168.5,388.5 169.0,389.5 169.5,390.5 170.0,387.5 170.5,389.5 171.0,389.5 171.5,387.5 172.0,387.5 172.5,386.5 173.0,385.5 173.5,386.5 174.0,388.5 174.5,388.5 175.0,389.5 175.5,389.5 176.0,384.5 176.5,389.5 177.0,392.5 177.5,397.5 178.0,396.5 178.5,393.5 179.0,391.5 179.5,392.5 180.0,392.5 180.5,394.5 181.0,395.5 181.5,399.5 182.0,397.5 182.5,397.5 183.0,397.5 183.5,392.5 184.0,394.5 184.5,393.5 185.0,393.5 185.5,395.5 186.0,396.5 186.5,396.5 187.0,398.5 187.5,392.5 188.0,394.5 188.5,394.5 189.0,394.5 189.5,394.5 190.0,395.5 190.5,398.5 191.0,398.5 191.5,397.5 192.0,397.5 192.5,397.5 193.0,397.5 193.5,398.5 194.0,398.5 194.5,398.5 195.0,399.5 195.5,395.5 196.0,393.5 196.5,397.5 197.0,395.5 197.5,395.5 198.0,394.5 198.5,394.5 199.0,394.5 199.5,396.5 200.0,399.5 200.5,401.5 201.0,399.5 201.5,399.5 202.0,399.5 202.5,399.5 203.0,401.5 203.5,398.5 204.0,402.5 204.5,403.5 205.0,406.5 205.5,404.5 206.0,403.5 206.5,401.5 207.0,402.5 207.5,404.5 208.0,406.5 208.5,410.5 209.0,410.5 209.5,406.5 210.0,405.5 210.5,403.5 211.0,402.5 211.5,406.5 212.0,404.5 212.5,404.5 213.0,402.5 213.5,405.5 214.0,407.5 214.5,408.5 215.0,408.5 215.5,409.5 216.0,409.5 216.5,410.5 217.0,412.5 217.5,408.5 218.0,410.5 218.5,408.5 219.0,407.5 219.5,406.5 220.0,405.5 220.5,404.5 221.0,403.5 221.5,402.5 222.0,403.5 222.5,405.5 223.0,406.5 223.5,406.5 224.0,407.5 224.5,404.5 225.0,404.5 225.5,402.5 226.0,406.5 226.5,412.5 227.0,415.5 227.5,411.5 228.0,411.5 228.5,409.5 229.0,407.5 229.5,405.5 230.0,404.5 230.5,405.5 231.0,404.5 231.5,404.5 232.0,402.5 232.5,402.5 233.0,403.5 233.5,403.5 234.0,401.5 234.5,401.5 235.0,401.5 235.5,404.5 236.0,405.5 236.5,407.5 237.0,409.5 237.5,407.5 238.0,404.5 238.5,401.5 239.0,397.5 239.5,394.5 240.0,394.5 240.5,393.5 241.0,396.5 241.5,393.5 242.0,390.5 242.5,390.5 243.0,390.5 243.5,389.5 244.0,388.5 244.5,387.5 245.0,386.5 245.5,384.5 246.0,383.5 246.5,381.5 247.0,380.5 247.5,379.5 248.0,378.5 248.5,376.5 249.0,375.5 249.5,373.5 250.0,373.5 252.3,367.5 254.6,357.5 257.4,353.5 259.2,356.5 260.5,366.5 261.5,379.5 262.4,352.5 262.9,379.5 263.5,358.5 264.2,382.5 264.9,357.5 265.7,385.5 266.4,357.5 267.2,371.5 267.7,394.5 268.7,378.5 269.5,402.5 270.2,382.5 270.8,404.5 271.3,381.5 272.1,399.5 272.9,390.5 273.5,378.5 273.7,425.5 274.3,393.5 275.2,382.5 275.9,406.5 276.6,372.5 277.3,409.5 277.9,371.5 278.6,369.5 279.2,409.5 279.8,370.5 280.5,373.5 280.9,406.5 281.6,382.5 282.3,404.5 283.0,378.5 283.7,399.5 284.4,371.5 285.0,398.5 285.7,390.5 286.4,361.5 286.9,393.5 287.6,367.5 288.4,366.5 288.9,395.5 289.5,381.5 290.1,394.5 290.5,404.5 291.0,413.5 291.5,387.5 292.0,414.5 292.5,389.5 293.0,414.5 293.5,399.5 294.0,415.5 294.5,405.5 295.0,415.5 295.5,406.5 296.0,415.5 296.5,397.5 297.0,413.5 297.5,398.5 298.0,412.5 298.5,398.5 299.0,411.5 299.5,401.5 300.0,410.5 300.5,390.5 301.0,410.5 301.5,401.5 302.0,411.5 302.5,404.5 303.0,412.5 303.5,405.5 304.0,412.5 304.5,400.5 305.0,413.5 305.5,393.5 306.0,414.5 306.5,394.5 307.0,414.5 307.5,407.5 308.0,415.5 308.5,388.5 309.0,415.5 309.5,399.5 310.0,415.5 310.5,383.5 311.0,416.5 311.5,384.5 312.0,416.5 312.5,398.5 313.0,417.5 313.5,398.5 314.0,417.5 314.5,408.5 315.0,416.5 315.5,395.5 316.0,415.5 316.5,392.5 317.0,415.5 317.5,397.5 318.0,417.5 318.5,404.5 319.0,420.5 319.5,396.5 320.0,425.5 320.5,406.5 321.0,429.5 321.5,409.5 322.0,429.5 322.5,421.5 323.0,430.5 323.5,408.5 324.0,429.5 324.5,419.5 325.0,429.5 325.5,410.5 326.0,428.5 326.5,404.5 327.0,428.5 327.5,401.5 328.0,429.5 328.5,409.5 329.0,429.5 329.5,411.5 330.0,429.5 330.5,411.5 331.0,428.5 331.5,405.5 332.0,428.5 332.5,418.5 333.0,427.5 333.5,417.5 334.0,427.5 334.5,411.5 335.0,426.5 335.5,420.5 336.0,427.5 336.5,410.5 337.0,427.5 337.5,412.5 338.0,427.5 338.5,415.5 339.0,428.5 339.5,410.5 340.0,428.5 340.5,397.5 341.0,428.5 341.5,411.5 342.0,429.5 342.5,399.5 343.0,429.5 343.5,405.5 344.0,430.5 344.5,397.5 345.0,430.5 345.5,407.5 346.0,430.5 346.5,407.5 347.0,430.5 347.5,422.5 348.0,431.5 348.5,413.5 349.0,431.5 349.5,418.5 350.0,432.5 350.5,418.5 351.0,433.5 351.5,427.5 352.0,434.5 352.5,413.5 353.0,434.5 353.5,426.5 354.0,435.5 354.5,414.5 355.0,436.5 355.5,418.5 356.0,438.5 356.5,426.5 357.0,439.5 357.5,418.5 358.0,441.5 358.5,419.5 359.0,442.5 359.5,428.5 360.0,444.5 360.5,434.5 361.0,446.5 361.5,415.5 362.0,447.5 362.5,430.5 363.0,447.5 363.5,429.5 364.0,445.5 364.5,436.5 365.0,444.5 365.5,432.5 366.0,444.5 366.5,434.5 367.0,444.5 367.5,429.5 368.0,446.5 368.5,431.5 369.0,450.5 369.5,443.5 370.0,454.5 370.5,433.5 371.0,451.5 371.5,427.5 372.0,447.5 372.5,439.5 373.0,446.5 373.5,429.5 374.0,446.5 374.5,432.5 375.0,445.5 375.5,429.5 376.0,446.5 376.5,439.5 377.0,447.5 377.5,435.5 378.0,447.5 378.5,437.5 379.0,442.5 379.5,421.5 380.0,437.5 380.5,425.5 381.0,433.5 381.5,422.5 382.0,431.5 382.5,417.5 383.0,432.5 383.5,422.5 384.0,434.5 384.5,423.5 385.0,435.5 385.5,416.5 386.0,434.5 386.5,427.5 387.0,433.5 387.5,422.5 388.0,432.5 388.5,413.5 389.0,425.5 389.5,411.5 390.0,417.5 390.5,409.5 391.0,414.5 391.5,399.5 392.0,414.5 392.5,403.5 393.0,413.5 393.5,409.5 394.0,416.5 394.5,409.5 395.0,420.5 395.5,408.5 396.0,421.5 396.5,416.5 397.0,420.5 397.5,414.5 398.0,418.5 398.5,409.5 399.0,417.5 399.5,403.5 400.0,416.5 400.5,398.5 401.0,415.5 401.5,400.5 402.0,415.5 402.5,399.5 403.0,415.5 403.5,400.5 404.0,415.5 404.5,401.5 405.0,416.5 405.5,408.5 406.0,417.5 406.5,412.5 407.0,418.5 407.5,409.5 408.0,418.5 408.5,414.5 409.0,417.5 409.5,403.5 410.0,417.5 410.5,407.5 411.0,417.5 411.5,402.5 412.0,416.5 412.5,404.5 413.0,417.5 413.5,402.5 414.0,417.5 414.5,412.5 415.0,418.5 415.5,409.5 416.0,419.5 416.5,409.5 417.0,420.5 417.5,406.5 418.0,419.5 418.5,413.5 419.0,418.5 419.5,405.5 420.0,418.5 420.5,402.5 421.0,418.5 421.5,412.5 422.0,418.5 422.5,408.5 423.0,417.5 423.5,406.5 424.0,416.5 424.5,405.5 425.0,415.5 425.5,409.5 426.0,414.5 426.5,405.5 427.0,413.5 427.5,407.5 428.0,414.5 428.5,410.5 429.0,414.5 429.5,404.5 430.0,414.5 430.5,408.5 431.0,415.5 431.5,405.5 432.0,415.5 432.5,408.5 433.0,416.5 433.5,408.5 434.0,417.5 434.5,410.5 435.0,417.5 435.5,408.5 436.0,417.5 436.5,411.5 437.0,416.5 437.5,408.5 438.0,415.5 438.5,407.5 439.0,413.5 439.5,403.5 440.0,414.5 440.5,407.5 441.0,415.5 441.5,409.5 442.0,418.5 442.5,411.5 443.0,416.5 443.5,408.5 444.0,415.5 444.5,408.5 445.0,413.5 445.5,405.5 446.0,412.5 446.5,405.5 447.0,412.5 447.5,404.5 448.0,412.5 448.5,401.5 449.0,412.5 449.5,405.5 450.0,413.5 450.5,405.5 451.0,412.5 451.5,405.5 452.0,411.5 452.5,402.5 453.0,411.5 453.5,404.5 454.0,410.5 454.5,400.5 455.0,409.5 455.5,403.5 456.0,409.5 456.5,400.5 457.0,409.5 457.5,402.5 458.0,409.5 458.5,403.5 459.0,408.5 459.5,403.5 460.0,408.5 460.5,400.5 461.0,408.5 461.5,397.5 462.0,408.5 462.5,396.5 463.0,407.5 463.5,399.5 464.0,406.5 464.5,399.5 465.0,405.5 465.5,397.5 466.0,405.5 466.5,396.5 467.0,405.5 467.5,397.5 468.0,404.5 468.5,396.5 469.0,404.5 469.5,395.5 470.0,404.5 470.5,401.5 471.0,404.5 471.5,400.5 472.0,403.5 472.5,398.5 473.0,403.5 473.5,400.5 474.0,402.5 474.5,396.5 475.0,401.5 475.5,392.5 476.0,397.5 476.5,394.5 477.0,390.5 477.5,394.5 478.0,390.5 478.5,393.5 479.0,389.5 479.5,392.5 480.0,390.5 480.5,392.5 481.0,389.5 481.5,391.5 482.0,386.5 482.5,387.5 483.0,383.5 483.5,385.5 484.0,378.5 484.5,390.5 485.0,379.5 485.5,390.5 486.0,380.5 486.5,390.5 487.0,390.5 487.5,390.5 488.0,387.5 488.5,387.5 489.0,384.5 489.5,386.5 490.0,381.5 490.5,387.5 491.0,382.5 491.5,387.5 492.0,381.5 492.5,385.5 493.0,379.5 493.5,385.5 494.0,380.5 494.5,383.5 495.0,379.5 495.5,382.5 496.0,380.5 496.5,383.5 497.0,378.5 497.5,383.5 498.0,379.5 498.5,382.5 499.0,378.5 499.5,379.5 500.0,377.5 500.5,378.5 501.0,375.5 501.5,379.5 502.0,375.5 502.5,380.5 503.0,374.5 503.5,378.5 504.0,376.5 504.5,378.5 505.0,376.5 505.5,379.5 506.0,374.5 506.5,378.5 507.0,375.5 507.5,374.5 508.0,379.5 508.5,375.5 509.0,379.5 509.5,376.5 510.0,380.5 510.5,379.5 511.0,381.5 511.5,379.5 512.0,385.5 512.5,384.5 513.0,390.5 513.5,388.5 514.0,394.5 514.5,389.5 515.0,390.5 515.5,395.5 516.0,390.5 516.5,396.5 517.0,390.5 517.5,397.5 518.0,392.5 518.5,397.5 519.0,391.5 519.5,397.5 520.0,392.5 520.5,397.5 521.0,392.5 521.5,397.5 522.0,392.5 522.5,397.5 523.0,392.5 523.5,397.5 524.0,393.5 524.5,397.5 525.0,392.5 525.5,397.5 526.0,392.5 526.5,396.5 527.0,392.5 527.5,395.5 528.0,391.5 528.5,395.5 529.0,390.5 529.5,394.5 530.0,390.5 530.5,394.5 531.0,390.5 531.5,393.5 532.0,390.5 532.5,393.5 533.0,390.5 533.5,393.5 534.0,390.5 534.5,393.5 535.0,390.5 535.5,393.5 536.0,390.5 536.5,392.5 537.0,389.5 537.5,392.5 538.0,389.5 538.5,392.5 539.0,389.5 539.5,392.5 540.0,389.5 540.5,392.5 541.0,389.5 541.5,391.5 542.0,388.5 542.5,391.5 543.0,388.5 543.5,391.5 544.0,388.5 544.5,391.5 545.0,387.5 545.5,391.5 546.0,387.5 546.5,390.5 547.0,387.5 547.5,390.5 548.0,387.5 548.5,390.5 549.0,387.5 549.5,390.5 550.0,387.5 550.5,390.5 551.0,387.5 551.5,390.5 552.0,386.5 552.5,389.5 553.0,386.5 553.5,389.5 554.0,386.5 554.5,389.5 555.0,386.5 555.5,389.5 556.0,386.5 556.5,389.5 557.0,386.5 557.5,389.5 558.0,385.5 558.5,389.5 559.0,385.5 559.5,388.5 560.0,385.5 560.5,388.5 561.0,386.5 561.5,388.5 562.0,386.5 562.5,388.5 563.0,385.5 563.5,388.5 564.0,386.5 564.5,388.5 565.0,386.5 565.5,389.5 566.0,386.5 566.5,389.5 567.0,385.5 567.5,388.5 568.0,385.5 568.5,388.5 569.0,385.5 569.5,388.5 570.0,385.5 570.5,388.5 571.0,385.5 571.5,388.5 572.0,384.5 572.5,387.5 573.0,384.5 573.5,387.5 574.0,385.5 574.5,387.5 575.0,384.5 575.5,387.5 576.0,385.5 576.5,387.5 577.0,384.5 577.5,387.5 578.0,385.5 578.5,387.5 579.0,385.5 579.5,387.5 580.0,384.5 580.5,387.5 581.0,385.5 581.5,387.5 582.0,385.5 582.5,387.5 583.0,385.5 583.5,387.5 584.0,384.5 584.5,387.5 585.0,384.5 585.5,387.5 586.0,384.5 586.5,387.5 587.0,384.5 587.5,386.5 588.0,384.5 588.5,386.5 589.0,383.5 589.5,386.5 590.0,383.5 590.5,386.5 591.0,382.5 591.5,385.5 592.0,382.5 592.5,385.5 593.0,383.5 593.5,385.5 594.0,383.5 594.5,385.5 595.0,382.5 595.5,386.5 596.0,383.5 596.5,386.5 597.0,384.5 597.5,387.5 598.0,385.5 598.5,388.5 599.0,386.5 599.5,389.5 600.0,388.5 600.5,390.5 601.0,388.5 601.5,391.5 602.0,389.5 602.5,392.5 603.0,390.5 603.5,393.5 604.0,391.5 604.5,394.5 605.0,392.5 605.5,395.5 606.0,393.5 606.5,396.5 607.0,394.5 607.5,397.5 608.0,395.5 608.5,397.5 609.0,395.5 609.5,398.5 610.0,395.5 610.5,399.5 611.0,396.5 611.5,400.5 612.0,396.5 612.5,401.5 613.0,398.5 613.5,402.5 614.0,397.5 614.5,402.5 615.0,398.5 615.5,402.5 616.0,398.5 616.5,402.5 617.0,398.5 617.5,402.5" fill="none" stroke="#ff0000" stroke-width="1.0" shape-rendering="crispEdges"/>
<use href="#c54" x="475" y="357"/><use href="#c64" x="482" y="357"/><use href="#c28" x="489" y="357"/><use href="#c64" x="496" y="357"/><use href="#c65" x="503" y="357"/><use href="#c67" x="510" y="357"/><use href="#c29" x="517" y="357"/><use href="#c31" x="531" y="357"/><use href="#c32" x="538" y="357"/><use href="#c2e" x="545" y="357"/><use href="#c33" x="552" y="357"/><use href="#c6d" x="559" y="357"/>
<text class="t" x="475" y="365">Td(deg) 12.3m</text>
<rect x="573" y="360" width="33" height="1" fill="#00c000"/>
<polyline points="98.0,349.5 98.5,348.5 99.0,348.5 99.5,348.5 100.0,348.5 100.5,348.5 101.0,347.5 101.5,348.5 102.0,349.5 102.5,348.5 103.0,349.5 103.5,350.5 104.0,350.5 104.5,350.5 105.0,351.5 105.5,349.5 106.0,349.5 106.5,348.5 107.0,347.5 107.5,346.5 108.0,347.5 108.5,348.5 109.0,349.5 109.5,350.5 110.0,350.5 110.5,350.5 111.0,351.5 111.5,351.5 112.0,353.5 112.5,353.5 113.0,354.5 113.5,354.5 114.0,354.5 114.5,353.5 115.0,354.5 115.5,355.5 116.0,356.5 116.5,356.5 117.0,355.5 117.5,355.5 118.0,355.5 118.5,355.5 119.0,356.5 119.5,355.5 120.0,355.5 120.5,356.5 121.0,355.5 121.5,356.5 122.0,356.5 122.5,357.5 123.0,356.5 123.5,357.5 124.0,356.5 124.5,357.5 125.0,357.5 125.5,358.5 126.0,358.5 126.5,358.5 127.0,358.5 127.5,358.5 128.0,359.5 128.5,360.5 129.0,360.5 129.5,360.5 130.0,362.5 130.5,362.5 131.0,362.5 131.5,362.5 132.0,362.5 132.5,364.5 133.0,363.5 133.5,363.5 134.0,363.5 134.5,362.5 135.0,361.5 135.5,361.5 136.0,360.5 136.5,360.5 137.0,360.5 137.5,359.5 138.0,360.5 138.5,359.5 139.0,358.5 139.5,357.5 140.0,357.5 140.5,355.5 141.0,354.5 141.5,354.5 142.0,353.5 142.5,353.5 143.0,354.5 143.5,354.5 144.0,353.5 144.5,353.5 145.0,352.5 145.5,353.5 146.0,354.5 146.5,356.5 147.0,357.5 147.5,359.5 148.0,361.5 148.5,363.5 149.0,364.5 149.5,366.5 150.0,367.5 150.5,367.5 151.0,368.5 151.5,369.5 152.0,368.5 152.5,369.5 153.0,369.5 153.5,369.5 154.0,369.5 154.5,369.5 155.0,370.5 155.5,369.5 156.0,370.5 156.5,369.5 157.0,370.5 157.5,369.5 158.0,368.5 158.5,369.5 159.0,369.5 159.5,368.5 160.0,368.5 160.5,368.5 161.0,368.5 161.5,369.5 162.0,369.5 162.5,369.5 163.0,369.5 163.5,368.5 164.0,369.5 164.5,368.5 165.0,368.5 165.5,369.5 166.0,368.5 166.5,367.5 167.0,367.5 167.5,368.5 168.0,367.5 168.5,368.5 169.0,368.5 169.5,368.5 170.0,369.5 170.5,368.5 171.0,369.5 171.5,368.5 172.0,368.5 172.5,368.5 173.0,368.5 173.5,370.5 174.0,370.5 174.5,373.5 175.0,373.5 175.5,375.5 176.0,376.5 176.5,375.5 177.0,376.5 177.5,375.5 178.0,374.5 178.5,375.5 179.0,375.5 179.5,375.5 180.0,374.5 180.5,375.5 181.0,374.5 181.5,374.5 182.0,374.5 182.5,375.5 183.0,374.5 183.5,373.5 184.0,372.5 184.5,371.5 185.0,371.5 185.5,371.5 186.0,370.5 186.5,372.5 187.0,372.5 187.5,374.5 188.0,374.5 188.5,376.5 189.0,376.5 189.5,376.5 190.0,376.5 190.5,376.5 191.0,377.5 191.5,376.5 192.0,376.5 192.5,377.5 193.0,375.5 193.5,374.5 194.0,375.5 194.5,373.5 195.0,372.5 195.5,375.5 196.0,377.5 196.5,379.5 197.0,382.5 197.5,381.5 198.0,381.5 198.5,381.5 199.0,379.5 199.5,380.5 200.0,380.5 200.5,381.5 201.0,381.5 201.5,382.5 202.0,383.5 202.5,384.5 203.0,385.5 203.5,384.5 204.0,385.5 204.5,384.5 205.0,385.5 205.5,386.5 206.0,385.5 206.5,385.5 207.0,385.5 207.5,385.5 208.0,385.5 208.5,385.5 209.0,385.5 209.5,386.5 210.0,387.5 210.5,387.5 211.0,387.5 211.5,387.5 212.0,388.5 212.5,388.5 213.0,386.5 213.5,388.5 214.0,390.5 214.5,392.5 215.0,394.5 215.5,392.5 216.0,392.5 216.5,391.5 217.0,389.5 217.5,388.5 218.0,387.5 218.5,386.5 219.0,385.5 219.5,387.5 220.0,388.5 220.5,389.5 221.0,388.5 221.5,387.5 222.0,386.5 222.5,385.5 223.0,384.5 223.5,388.5 224.0,393.5 224.5,396.5 225.0,394.5 225.5,393.5 226.0,392.5 226.5,390.5 227.0,388.5 227.5,390.5 228.0,391.5 228.5,391.5 229.0,391.5 229.5,388.5 230.0,386.5 230.5,384.5 231.0,384.5 231.5,384.5 232.0,385.5 232.5,386.5 233.0,386.5 233.5,387.5 234.0,387.5 234.5,388.5 235.0,389.5 235.5,388.5 236.0,388.5 236.5,386.5 237.0,386.5 237.5,385.5 238.0,384.5 238.5,384.5 239.0,386.5 239.5,386.5 240.0,387.5 240.5,385.5 241.0,385.5 241.5,384.5 242.0,383.5 242.5,382.5 243.0,382.5 243.5,383.5 244.0,382.5 244.5,382.5 245.0,382.5 245.5,381.5 246.0,382.5 246.5,380.5 247.0,380.5 247.5,380.5 248.0,380.5 248.5,380.5 249.0,380.5 249.5,378.5 250.0,379.5 252.3,377.5 255.2,369.5 256.3,374.5 258.6,367.5 259.7,366.5 260.3,390.5 260.9,371.5 261.7,393.5 262.4,377.5 263.1,395.5 263.7,376.5 264.5,396.5 265.2,379.5 266.0,385.5 266.8,399.5 267.5,390.5 268.3,404.5 268.9,394.5 269.7,404.5 270.6,402.5 271.3,409.5 272.0,404.5 272.9,418.5 273.5,440.5 274.0,419.5 274.7,406.5 275.2,401.5 275.6,413.5 276.3,399.5 277.5,383.5 278.2,399.5 278.6,385.5 279.3,398.5 280.0,399.5 280.7,418.5 281.5,402.5 282.3,418.5 283.2,398.5 284.4,391.5 285.0,402.5 285.7,393.5 286.6,372.5 287.3,383.5 288.0,390.5 288.7,382.5 289.5,399.5 290.1,404.5 290.5,411.5 291.0,417.5 291.5,408.5 292.0,418.5 292.5,409.5 293.0,419.5 293.5,408.5 294.0,420.5 294.5,409.5 295.0,420.5 295.5,416.5 296.0,419.5 296.5,412.5 297.0,419.5 297.5,417.5 298.0,418.5 298.5,409.5 299.0,417.5 299.5,411.5 300.0,417.5 300.5,402.5 301.0,416.5 301.5,400.5 302.0,416.5 302.5,413.5 303.0,416.5 303.5,409.5 304.0,416.5 304.5,412.5 305.0,417.5 305.5,415.5 306.0,417.5 306.5,411.5 307.0,418.5 307.5,409.5 308.0,418.5 308.5,415.5 309.0,419.5 309.5,417.5 310.0,419.5 310.5,417.5 311.0,420.5 311.5,417.5 312.0,421.5 312.5,410.5 313.0,421.5 313.5,411.5 314.0,422.5 314.5,415.5 315.0,421.5 315.5,418.5 316.0,419.5 316.5,413.5 317.0,421.5 317.5,417.5 318.0,423.5 318.5,413.5 319.0,426.5 319.5,417.5 320.0,431.5 320.5,427.5 321.0,434.5 321.5,431.5 322.0,435.5 322.5,427.5 323.0,436.5 323.5,423.5 324.0,436.5 324.5,428.5 325.0,435.5 325.5,431.5 326.0,434.5 326.5,424.5 327.0,435.5 327.5,426.5 328.0,436.5 328.5,426.5 329.0,436.5 329.5,418.5 330.0,435.5 330.5,429.5 331.0,434.5 331.5,427.5 332.0,434.5 332.5,424.5 333.0,433.5 333.5,421.5 334.0,433.5 334.5,421.5 335.0,433.5 335.5,430.5 336.0,433.5 336.5,427.5 337.0,434.5 337.5,420.5 338.0,435.5 338.5,428.5 339.0,435.5 339.5,428.5 340.0,435.5 340.5,422.5 341.0,435.5 341.5,430.5 342.0,435.5 342.5,430.5 343.0,435.5 343.5,420.5 344.0,435.5 344.5,422.5 345.0,435.5 345.5,432.5 346.0,435.5 346.5,432.5 347.0,435.5 347.5,428.5 348.0,435.5 348.5,424.5 349.0,436.5 349.5,425.5 350.0,437.5 350.5,432.5 351.0,437.5 351.5,426.5 352.0,438.5 352.5,435.5 353.0,439.5 353.5,430.5 354.0,440.5 354.5,434.5 355.0,441.5 355.5,438.5 356.0,442.5 356.5,439.5 357.0,444.5 357.5,440.5 358.0,446.5 358.5,442.5 359.0,447.5 359.5,447.5 360.0,450.5 360.5,447.5 361.0,452.5 361.5,440.5 362.0,453.5 362.5,440.5 363.0,452.5 363.5,443.5 364.0,449.5 364.5,440.5 365.0,449.5 365.5,440.5 366.0,449.5 366.5,445.5 367.0,450.5 367.5,448.5 368.0,451.5 368.5,444.5 369.0,455.5 369.5,447.5 370.0,459.5 370.5,451.5 371.0,456.5 371.5,446.5 372.0,451.5 372.5,447.5 373.0,451.5 373.5,437.5 374.0,451.5 374.5,447.5 375.0,450.5 375.5,441.5 376.0,450.5 376.5,443.5 377.0,450.5 377.5,447.5 378.0,450.5 378.5,442.5 379.0,446.5 379.5,442.5 380.0,442.5 380.5,438.5 381.0,438.5 381.5,431.5 382.0,436.5 382.5,435.5 383.0,438.5 383.5,428.5 384.0,439.5 384.5,437.5 385.0,440.5 385.5,432.5 386.0,438.5 386.5,432.5 387.0,437.5 387.5,431.5 388.0,435.5 388.5,428.5 389.0,428.5 389.5,417.5 390.0,420.5 390.5,418.5 391.0,418.5 391.5,411.5 392.0,418.5 392.5,415.5 393.0,418.5 393.5,411.5 394.0,421.5 394.5,419.5 395.0,424.5 395.5,418.5 396.0,424.5 396.5,415.5 397.0,423.5 397.5,421.5 398.0,422.5 398.5,417.5 399.0,421.5 399.5,411.5 400.0,420.5 400.5,414.5 401.0,419.5 401.5,411.5 402.0,419.5 402.5,410.5 403.0,418.5 403.5,417.5 404.0,419.5 404.5,414.5 405.0,419.5 405.5,415.5 406.0,420.5 406.5,419.5 407.0,421.5 407.5,419.5 408.0,421.5 408.5,419.5 409.0,421.5 409.5,412.5 410.0,421.5 410.5,412.5 411.0,420.5 411.5,412.5 412.0,420.5 412.5,417.5 413.0,420.5 413.5,413.5 414.0,421.5 414.5,416.5 415.0,422.5 415.5,416.5 416.0,423.5 416.5,417.5 417.0,424.5 417.5,419.5 418.0,423.5 418.5,417.5 419.0,422.5 419.5,418.5 420.0,421.5 420.5,418.5 421.0,422.5 421.5,419.5 422.0,422.5 422.5,414.5 423.0,421.5 423.5,416.5 424.0,420.5 424.5,414.5 425.0,419.5 425.5,415.5 426.0,417.5 426.5,414.5 427.0,417.5 427.5,413.5 428.0,417.5 428.5,412.5 429.0,417.5 429.5,415.5 430.0,417.5 430.5,411.5 431.0,417.5 431.5,415.5 432.0,418.5 432.5,413.5 433.0,419.5 433.5,413.5 434.0,419.5 434.5,417.5 435.0,420.5 435.5,418.5 436.0,420.5 436.5,414.5 437.0,419.5 437.5,414.5 438.0,418.5 438.5,415.5 439.0,416.5 439.5,414.5 440.0,417.5 440.5,412.5 441.0,418.5 441.5,413.5 442.0,421.5 442.5,418.5 443.0,419.5 443.5,410.5 444.0,417.5 444.5,411.5 445.0,416.5 445.5,410.5 446.0,415.5 446.5,409.5 447.0,415.5 447.5,413.5 448.0,415.5 448.5,413.5 449.0,415.5 449.5,410.5 450.0,415.5 450.5,413.5 451.0,414.5 451.5,413.5 452.0,414.5 452.5,411.5 453.0,413.5 453.5,407.5 454.0,413.5 454.5,410.5 455.0,412.5 455.5,411.5 456.0,412.5 456.5,408.5 457.0,411.5 457.5,406.5 458.0,411.5 458.5,408.5 459.0,411.5 459.5,407.5 460.0,411.5 460.5,405.5 461.0,410.5 461.5,409.5 462.0,410.5 462.5,403.5 463.0,409.5 463.5,404.5 464.0,408.5 464.5,406.5 465.0,407.5 465.5,406.5 466.0,407.5 466.5,405.5 467.0,406.5 467.5,403.5 468.0,406.5 468.5,404.5 469.0,406.5 469.5,402.5 470.0,406.5 470.5,403.5 471.0,405.5 471.5,401.5 472.0,405.5 472.5,402.5 473.0,404.5 473.5,402.5 474.0,404.5 474.5,401.5 475.0,403.5 475.5,398.5 476.0,400.5 476.5,398.5 477.0,396.5 477.5,397.5 478.0,394.5 478.5,397.5 479.0,394.5 479.5,398.5 480.0,394.5 480.5,398.5 481.0,395.5 481.5,398.5 482.0,395.5 482.5,398.5 483.0,397.5 483.5,400.5 484.0,396.5 484.5,399.5 485.0,397.5 485.5,399.5 486.0,396.5 486.5,397.5 487.0,395.5 487.5,396.5 488.0,395.5 488.5,397.5 489.0,395.5 489.5,396.5 490.0,394.5 490.5,396.5 491.0,394.5 491.5,397.5 492.0,393.5 492.5,396.5 493.0,393.5 493.5,395.5 494.0,393.5 494.5,395.5 495.0,391.5 495.5,394.5 496.0,389.5 496.5,390.5 497.0,387.5 497.5,388.5 498.0,384.5 498.5,386.5 499.0,384.5 499.5,384.5 500.0,384.5 500.5,384.5 501.0,383.5 501.5,385.5 502.0,382.5 502.5,385.5 503.0,382.5 503.5,385.5 504.0,383.5 504.5,384.5 505.0,381.5 505.5,383.5 506.0,380.5 506.5,383.5 507.0,380.5 507.5,379.5 508.0,380.5 508.5,378.5 509.0,380.5 509.5,379.5 510.0,381.5 510.5,379.5 511.0,382.5 511.5,382.5 512.0,387.5 512.5,387.5 513.0,393.5 513.5,389.5 514.0,395.5 514.5,392.5 515.0,391.5 515.5,397.5 516.0,392.5 516.5,398.5 517.0,393.5 517.5,398.5 518.0,395.5 518.5,398.5 519.0,394.5 519.5,398.5 520.0,395.5 520.5,398.5 521.0,395.5 521.5,398.5 522.0,394.5 522.5,398.5 523.0,394.5 523.5,398.5 524.0,395.5 524.5,398.5 525.0,395.5 525.5,398.5 526.0,394.5 526.5,398.5 527.0,394.5 527.5,397.5 528.0,393.5 528.5,396.5 529.0,393.5 529.5,395.5 530.0,392.5 530.5,395.5 531.0,392.5 531.5,395.5 532.0,391.5 532.5,394.5 533.0,392.5 533.5,394.5 534.0,391.5 534.5,394.5 535.0,391.5 535.5,394.5 536.0,391.5 536.5,394.5 537.0,391.5 537.5,394.5 538.0,391.5 538.5,393.5 539.0,390.5 539.5,393.5 540.0,390.5 540.5,393.5 541.0,390.5 541.5,393.5 542.0,390.5 542.5,393.5 543.0,389.5 543.5,392.5 544.0,389.5 544.5,392.5 545.0,389.5 545.5,392.5 546.0,388.5 546.5,392.5 547.0,389.5 547.5,391.5 548.0,388.5 548.5,391.5 549.0,388.5 549.5,391.5 550.0,388.5 550.5,391.5 551.0,388.5 551.5,391.5 552.0,388.5 552.5,391.5 553.0,388.5 553.5,390.5 554.0,388.5 554.5,390.5 555.0,387.5 555.5,390.5 556.0,387.5 556.5,390.5 557.0,387.5 557.5,390.5 558.0,387.5 558.5,390.5 559.0,387.5 559.5,390.5 560.0,387.5 560.5,390.5 561.0,386.5 561.5,390.5 562.0,386.5 562.5,390.5 563.0,387.5 563.5,390.5 564.0,387.5 564.5,390.5 565.0,387.5 565.5,390.5 566.0,387.5 566.5,390.5 567.0,387.5 567.5,390.5 568.0,387.5 568.5,390.5 569.0,387.5 569.5,389.5 570.0,387.5 570.5,389.5 571.0,386.5 571.5,389.5 572.0,386.5 572.5,389.5 573.0,386.5 573.5,389.5 574.0,386.5 574.5,388.5 575.0,386.5 575.5,388.5 576.0,386.5 576.5,388.5 577.0,386.5 577.5,388.5 578.0,386.5 578.5,388.5 579.0,386.5 579.5,388.5 580.0,386.5 580.5,388.5 581.0,385.5 581.5,388.5 582.0,386.5 582.5,388.5 583.0,385.5 583.5,388.5 584.0,385.5 584.5,388.5 585.0,385.5 585.5,388.5 586.0,385.5 586.5,388.5 587.0,385.5 587.5,388.5 588.0,385.5 588.5,388.5 589.0,385.5 589.5,387.5 590.0,384.5 590.5,387.5 591.0,384.5 591.5,387.5 592.0,384.5 592.5,386.5 593.0,383.5 593.5,386.5 594.0,384.5 594.5,387.5 595.0,384.5 595.5,387.5 596.0,385.5 596.5,388.5 597.0,386.5 597.5,389.5 598.0,386.5 598.5,390.5 599.0,387.5 599.5,391.5 600.0,388.5 600.5,392.5 601.0,389.5 601.5,393.5 602.0,390.5 602.5,394.5 603.0,391.5 603.5,394.5 604.0,392.5 604.5,395.5 605.0,393.5 605.5,396.5 606.0,394.5 606.5,397.5 607.0,395.5 607.5,398.5 608.0,396.5 608.5,399.5 609.0,396.5 609.5,400.5 610.0,397.5 610.5,401.5 611.0,397.5 611.5,402.5 612.0,398.5 612.5,403.5 613.0,398.5 613.5,403.5 614.0,399.5 614.5,403.5 615.0,400.5 615.5,403.5 616.0,400.5 616.5,403.5 617.0,400.5 617.5,403.5" fill="none" stroke="#00c000" stroke-width="1.0" shape-rendering="crispEdges"/>
<use href="#c54" x="475" y="370"/><use href="#c64" x="482" y="370"/><use href="#c28" x="489" y="370"/><use href="#c64" x="496" y="370"/><use href="#c65" x="503" y="370"/><use href="#c67" x="510" y="370"/><use href="#c29" x="517" y="370"/><use href="#c32" x="531" y="370"/><use href="#c39" x="538" y="370"/><use href="#c2e" x="545" y="370"/><use href="#c35" x="552" y="370"/><use href="#c6d" x="559" y="370"/>
<text class="t" x="475" y="378">Td(deg) 29.5m</text>
<rect x="573" y="373" width="33" height="1" fill="#0080ff"/>
<polyline points="98.0,349.5 98.5,349.5 99.0,350.5 99.5,350.5 100.0,349.5 100.5,350.5 101.0,350.5 101.5,350.5 102.0,351.5 102.5,350.5 103.0,351.5 103.5,351.5 104.0,351.5 104.5,351.5 105.0,351.5 105.5,351.5 106.0,352.5 106.5,353.5 107.0,352.5 107.5,353.5 108.0,354.5 108.5,354.5 109.0,355.5 109.5,355.5 110.0,355.5 110.5,356.5 111.0,356.5 111.5,356.5 112.0,357.5 112.5,357.5 113.0,358.5 113.5,358.5 114.0,358.5 114.5,359.5 115.0,359.5 115.5,359.5 116.0,359.5 116.5,359.5 117.0,359.5 117.5,359.5 118.0,358.5 118.5,357.5 119.0,357.5 119.5,357.5 120.0,357.5 120.5,357.5 121.0,358.5 121.5,358.5 122.0,358.5 122.5,358.5 123.0,358.5 123.5,359.5 124.0,358.5 124.5,358.5 125.0,358.5 125.5,358.5 126.0,359.5 126.5,359.5 127.0,359.5 127.5,358.5 128.0,358.5 128.5,359.5 129.0,358.5 129.5,358.5 130.0,357.5 130.5,357.5 131.0,356.5 131.5,355.5 132.0,356.5 132.5,354.5 133.0,354.5 133.5,354.5 134.0,355.5 134.5,357.5 135.0,357.5 135.5,357.5 136.0,358.5 136.5,357.5 137.0,357.5 137.5,357.5 138.0,357.5 138.5,357.5 139.0,356.5 139.5,355.5 140.0,356.5 140.5,355.5 141.0,355.5 141.5,355.5 142.0,354.5 142.5,354.5 143.0,355.5 143.5,355.5 144.0,356.5 144.5,356.5 145.0,357.5 145.5,358.5 146.0,358.5 146.5,358.5 147.0,358.5 147.5,359.5 148.0,358.5 148.5,359.5 149.0,360.5 149.5,361.5 150.0,362.5 150.5,362.5 151.0,364.5 151.5,364.5 152.0,365.5 152.5,364.5 153.0,361.5 153.5,360.5 154.0,358.5 154.5,360.5 155.0,361.5 155.5,362.5 156.0,364.5 156.5,365.5 157.0,365.5 157.5,365.5 158.0,364.5 158.5,365.5 159.0,365.5 159.5,368.5 160.0,371.5 160.5,370.5 161.0,370.5 161.5,370.5 162.0,369.5 162.5,370.5 163.0,371.5 163.5,371.5 164.0,371.5 164.5,371.5 165.0,371.5 165.5,375.5 166.0,380.5 166.5,384.5 167.0,388.5 167.5,393.5 168.0,384.5 168.5,377.5 169.0,372.5 169.5,372.5 170.0,373.5 170.5,372.5 171.0,373.5 171.5,374.5 172.0,378.5 172.5,382.5 173.0,379.5 173.5,377.5 174.0,375.5 174.5,372.5 175.0,371.5 175.5,371.5 176.0,372.5 176.5,373.5 177.0,373.5 177.5,373.5 178.0,373.5 178.5,374.5 179.0,374.5 179.5,375.5 180.0,375.5 180.5,374.5 181.0,375.5 181.5,373.5 182.0,373.5 182.5,373.5 183.0,372.5 183.5,372.5 184.0,372.5 184.5,372.5 185.0,372.5 185.5,379.5 186.0,385.5 186.5,372.5 187.0,372.5 187.5,372.5 188.0,372.5 188.5,372.5 189.0,395.5 189.5,374.5 190.0,405.5 190.5,376.5 191.0,403.5 191.5,374.5 192.0,374.5 192.5,374.5 193.0,408.5 193.5,377.5 194.0,412.5 194.5,378.5 195.0,382.5 195.5,385.5 196.0,409.5 196.5,387.5 197.0,421.5 197.5,385.5 198.0,384.5 198.5,384.5 199.0,383.5 199.5,383.5 200.0,382.5 200.5,382.5 201.0,385.5 201.5,386.5 202.0,388.5 202.5,385.5 203.0,384.5 203.5,381.5 204.0,381.5 204.5,381.5 205.0,381.5 205.5,381.5 206.0,381.5 206.5,380.5 207.0,378.5 207.5,375.5 208.0,384.5 208.5,393.5 209.0,396.5 209.5,394.5 210.0,392.5 210.5,389.5 211.0,387.5 211.5,385.5 212.0,385.5 212.5,384.5 213.0,384.5 213.5,383.5 214.0,385.5 214.5,384.5 215.0,386.5 215.5,387.5 216.0,386.5 216.5,385.5 217.0,386.5 217.5,384.5 218.0,383.5 218.5,383.5 219.0,383.5 219.5,383.5 220.0,384.5 220.5,384.5 221.0,385.5 221.5,385.5 222.0,385.5 222.5,385.5 223.0,385.5 223.5,386.5 224.0,386.5 224.5,386.5 225.0,385.5 225.5,385.5 226.0,386.5 226.5,385.5 227.0,386.5 227.5,387.5 228.0,388.5 228.5,389.5 229.0,390.5 229.5,389.5 230.0,390.5 230.5,390.5 231.0,390.5 231.5,390.5 232.0,390.5 232.5,389.5 233.0,387.5 233.5,387.5 234.0,387.5 234.5,386.5 235.0,387.5 235.5,387.5 236.0,388.5 236.5,389.5 237.0,390.5 237.5,390.5 238.0,407.5 238.5,394.5 239.0,408.5 239.5,394.5 240.0,405.5 240.5,393.5 241.0,413.5 241.5,391.5 242.0,407.5 242.5,393.5 243.0,423.5 243.5,392.5 244.0,422.5 244.5,393.5 245.0,405.5 245.5,386.5 246.0,386.5 246.5,386.5 247.0,385.5 247.5,384.5 248.0,384.5 248.5,385.5 249.0,386.5 249.5,387.5 250.0,390.5 250.6,404.5 251.1,390.5 251.7,418.5 252.5,393.5 253.1,425.5 253.8,406.5 254.6,387.5 255.2,427.5 256.0,409.5 256.6,395.5 257.2,441.5 257.8,396.5 258.6,375.5 259.4,393.5 259.8,379.5 260.3,452.5 260.8,378.5 261.5,395.5 262.0,409.5 262.6,395.5 263.3,406.5 264.0,396.5 264.7,417.5 265.3,398.5 266.3,404.5 266.8,430.5 267.5,406.5 268.3,409.5 269.0,424.5 269.7,410.5 270.6,425.5 271.5,410.5 272.3,422.5 272.9,413.5 273.5,454.5 274.2,415.5 275.0,409.5 275.8,433.5 276.6,402.5 277.5,390.5 278.1,412.5 278.6,393.5 279.5,409.5 280.3,387.5 280.9,406.5 281.5,429.5 282.3,402.5 283.2,409.5 283.9,399.5 284.4,424.5 285.0,399.5 285.8,390.5 286.6,381.5 287.3,399.5 288.4,387.5 288.9,401.5 289.5,399.5 290.1,409.5 290.5,414.5 291.0,424.5 291.5,412.5 292.0,422.5 292.5,411.5 293.0,421.5 293.5,416.5 294.0,427.5 294.5,416.5 295.0,424.5 295.5,416.5 296.0,420.5 296.5,418.5 297.0,423.5 297.5,417.5 298.0,420.5 298.5,416.5 299.0,423.5 299.5,416.5 300.0,421.5 300.5,412.5 301.0,418.5 301.5,414.5 302.0,416.5 302.5,413.5 303.0,417.5 303.5,411.5 304.0,417.5 304.5,413.5 305.0,420.5 305.5,413.5 306.0,423.5 306.5,412.5 307.0,420.5 307.5,415.5 308.0,419.5 308.5,417.5 309.0,422.5 309.5,417.5 310.0,423.5 310.5,418.5 311.0,425.5 311.5,419.5 312.0,426.5 312.5,417.5 313.0,426.5 313.5,414.5 314.0,431.5 314.5,417.5 315.0,424.5 315.5,413.5 316.0,424.5 316.5,415.5 317.0,420.5 317.5,417.5 318.0,426.5 318.5,419.5 319.0,434.5 319.5,425.5 320.0,432.5 320.5,429.5 321.0,440.5 321.5,425.5 322.0,446.5 322.5,427.5 323.0,447.5 323.5,427.5 324.0,436.5 324.5,428.5 325.0,436.5 325.5,431.5 326.0,436.5 326.5,432.5 327.0,438.5 327.5,429.5 328.0,442.5 328.5,430.5 329.0,446.5 329.5,427.5 330.0,440.5 330.5,431.5 331.0,435.5 331.5,431.5 332.0,435.5 332.5,430.5 333.0,437.5 333.5,431.5 334.0,439.5 334.5,427.5 335.0,437.5 335.5,429.5 336.0,438.5 336.5,428.5 337.0,440.5 337.5,428.5 338.0,438.5 338.5,427.5 339.0,443.5 339.5,432.5 340.0,440.5 340.5,427.5 341.0,435.5 341.5,431.5 342.0,436.5 342.5,432.5 343.0,439.5 343.5,431.5 344.0,442.5 344.5,434.5 345.0,439.5 345.5,431.5 346.0,439.5 346.5,432.5 347.0,435.5 347.5,432.5 348.0,436.5 348.5,434.5 349.0,439.5 349.5,434.5 350.0,438.5 350.5,436.5 351.0,442.5 351.5,434.5 352.0,443.5 352.5,434.5 353.0,443.5 353.5,436.5 354.0,445.5 354.5,437.5 355.0,447.5 355.5,440.5 356.0,445.5 356.5,437.5 357.0,450.5 357.5,442.5 358.0,453.5 358.5,443.5 359.0,456.5 359.5,444.5 360.0,453.5 360.5,446.5 361.0,454.5 361.5,450.5 362.0,453.5 362.5,444.5 363.0,456.5 363.5,445.5 364.0,451.5 364.5,443.5 365.0,457.5 365.5,440.5 366.0,460.5 366.5,440.5 367.0,462.5 367.5,442.5 368.0,454.5 368.5,448.5 369.0,464.5 369.5,450.5 370.0,461.5 370.5,451.5 371.0,459.5 371.5,452.5 372.0,454.5 372.5,447.5 373.0,459.5 373.5,445.5 374.0,452.5 374.5,441.5 375.0,461.5 375.5,445.5 376.0,457.5 376.5,446.5 377.0,456.5 377.5,446.5 378.0,454.5 378.5,446.5 379.0,448.5 379.5,437.5 380.0,445.5 380.5,437.5 381.0,445.5 381.5,426.5 382.0,447.5 382.5,435.5 383.0,447.5 383.5,429.5 384.0,448.5 384.5,437.5 385.0,440.5 385.5,437.5 386.0,439.5 386.5,436.5 387.0,442.5 387.5,433.5 388.0,437.5 388.5,430.5 389.0,429.5 389.5,422.5 390.0,425.5 390.5,414.5 391.0,418.5 391.5,415.5 392.0,424.5 392.5,413.5 393.0,419.5 393.5,413.5 394.0,428.5 394.5,420.5 395.0,426.5 395.5,422.5 396.0,427.5 396.5,420.5 397.0,425.5 397.5,419.5 398.0,426.5 398.5,420.5 399.0,424.5 399.5,415.5 400.0,426.5 400.5,416.5 401.0,426.5 401.5,417.5 402.0,422.5 402.5,415.5 403.0,423.5 403.5,416.5 404.0,423.5 404.5,415.5 405.0,425.5 405.5,414.5 406.0,426.5 406.5,416.5 407.0,423.5 407.5,418.5 408.0,426.5 408.5,416.5 409.0,425.5 409.5,418.5 410.0,425.5 410.5,417.5 411.0,426.5 411.5,418.5 412.0,423.5 412.5,416.5 413.0,420.5 413.5,417.5 414.0,426.5 414.5,419.5 415.0,422.5 415.5,419.5 416.0,424.5 416.5,420.5 417.0,431.5 417.5,421.5 418.0,430.5 418.5,421.5 419.0,425.5 419.5,417.5 420.0,425.5 420.5,419.5 421.0,423.5 421.5,420.5 422.0,427.5 422.5,420.5 423.0,426.5 423.5,417.5 424.0,421.5 424.5,417.5 425.0,422.5 425.5,412.5 426.0,421.5 426.5,415.5 427.0,421.5 427.5,411.5 428.0,418.5 428.5,413.5 429.0,418.5 429.5,414.5 430.0,420.5 430.5,415.5 431.0,420.5 431.5,417.5 432.0,420.5 432.5,416.5 433.0,421.5 433.5,418.5 434.0,421.5 434.5,416.5 435.0,422.5 435.5,419.5 436.0,422.5 436.5,417.5 437.0,422.5 437.5,417.5 438.0,418.5 438.5,416.5 439.0,419.5 439.5,413.5 440.0,421.5 440.5,414.5 441.0,422.5 441.5,417.5 442.0,424.5 442.5,418.5 443.0,422.5 443.5,417.5 444.0,420.5 444.5,414.5 445.0,416.5 445.5,413.5 446.0,418.5 446.5,413.5 447.0,419.5 447.5,412.5 448.0,416.5 448.5,413.5 449.0,419.5 449.5,412.5 450.0,419.5 450.5,413.5 451.0,419.5 451.5,412.5 452.0,414.5 452.5,410.5 453.0,416.5 453.5,411.5 454.0,416.5 454.5,411.5 455.0,416.5 455.5,409.5 456.0,415.5 456.5,408.5 457.0,412.5 457.5,407.5 458.0,415.5 458.5,410.5 459.0,415.5 459.5,409.5 460.0,411.5 460.5,407.5 461.0,415.5 461.5,408.5 462.0,415.5 462.5,407.5 463.0,409.5 463.5,407.5 464.0,408.5 464.5,406.5 465.0,407.5 465.5,406.5 466.0,408.5 466.5,405.5 467.0,407.5 467.5,405.5 468.0,408.5 468.5,404.5 469.0,407.5 469.5,405.5 470.0,408.5 470.5,404.5 471.0,408.5 471.5,404.5 472.0,406.5 472.5,403.5 473.0,406.5 473.5,403.5 474.0,404.5 474.5,401.5 475.0,404.5 475.5,401.5 476.0,402.5 476.5,400.5 477.0,402.5 477.5,399.5 478.0,400.5 478.5,398.5 479.0,399.5 479.5,398.5 480.0,399.5 480.5,398.5 481.0,399.5 481.5,399.5 482.0,400.5 482.5,399.5 483.0,400.5 483.5,399.5 484.0,400.5 484.5,400.5 485.0,401.5 485.5,400.5 486.0,401.5 486.5,399.5 487.0,401.5 487.5,399.5 488.0,400.5 488.5,399.5 489.0,400.5 489.5,399.5 490.0,400.5 490.5,398.5 491.0,400.5 491.5,399.5 492.0,400.5 492.5,398.5 493.0,399.5 493.5,398.5 494.0,399.5 494.5,398.5 495.0,399.5 495.5,398.5 496.0,399.5 496.5,398.5 497.0,399.5 497.5,397.5 498.0,399.5 498.5,398.5 499.0,399.5 499.5,399.5 500.0,401.5 500.5,400.5 501.0,402.5 501.5,397.5 502.0,394.5 502.5,389.5 503.0,387.5 503.5,383.5 504.0,383.5 504.5,382.5 505.0,382.5 505.5,380.5 506.0,381.5 506.5,379.5 507.0,380.5 507.5,379.5 508.0,379.5 508.5,378.5 509.0,379.5 509.5,379.5 510.0,381.5 510.5,381.5 511.0,383.5 511.5,384.5 512.0,388.5 512.5,390.5 513.0,393.5 513.5,394.5 514.0,397.5 514.5,395.5 515.0,395.5 515.5,398.5 516.0,396.5 516.5,399.5 517.0,397.5 517.5,400.5 518.0,398.5 518.5,400.5 519.0,398.5 519.5,399.5 520.0,398.5 520.5,400.5 521.0,397.5 521.5,400.5 522.0,397.5 522.5,400.5 523.0,397.5 523.5,400.5 524.0,397.5 524.5,400.5 525.0,397.5 525.5,400.5 526.0,397.5 526.5,399.5 527.0,396.5 527.5,399.5 528.0,396.5 528.5,398.5 529.0,395.5 529.5,397.5 530.0,394.5 530.5,396.5 531.0,394.5 531.5,396.5 532.0,394.5 532.5,395.5 533.0,393.5 533.5,396.5 534.0,393.5 534.5,396.5 535.0,393.5 535.5,395.5 536.0,393.5 536.5,394.5 537.0,392.5 537.5,395.5 538.0,392.5 538.5,394.5 539.0,392.5 539.5,395.5 540.0,392.5 540.5,394.5 541.0,391.5 541.5,394.5 542.0,391.5 542.5,394.5 543.0,391.5 543.5,393.5 544.0,391.5 544.5,393.5 545.0,391.5 545.5,393.5 546.0,391.5 546.5,392.5 547.0,391.5 547.5,392.5 548.0,391.5 548.5,393.5 549.0,390.5 549.5,392.5 550.0,390.5 550.5,393.5 551.0,390.5 551.5,393.5 552.0,390.5 552.5,392.5 553.0,389.5 553.5,392.5 554.0,389.5 554.5,392.5 555.0,389.5 555.5,392.5 556.0,389.5 556.5,392.5 557.0,389.5 557.5,392.5 558.0,389.5 558.5,392.5 559.0,389.5 559.5,391.5 560.0,389.5 560.5,391.5 561.0,389.5 561.5,391.5 562.0,389.5 562.5,390.5 563.0,389.5 563.5,391.5 564.0,389.5 564.5,391.5 565.0,389.5 565.5,392.5 566.0,389.5 566.5,392.5 567.0,389.5 567.5,391.5 568.0,389.5 568.5,390.5 569.0,389.5 569.5,391.5 570.0,388.5 570.5,391.5 571.0,388.5 571.5,390.5 572.0,387.5 572.5,391.5 573.0,387.5 573.5,390.5 574.0,387.5 574.5,389.5 575.0,387.5 575.5,390.5 576.0,387.5 576.5,389.5 577.0,387.5 577.5,389.5 578.0,387.5 578.5,390.5 579.0,387.5 579.5,389.5 580.0,387.5 580.5,390.5 581.0,387.5 581.5,390.5 582.0,387.5 582.5,390.5 583.0,387.5 583.5,390.5 584.0,387.5 584.5,390.5 585.0,387.5 585.5,389.5 586.0,387.5 586.5,390.5 587.0,386.5 587.5,389.5 588.0,387.5 588.5,389.5 589.0,387.5 589.5,388.5 590.0,386.5 590.5,388.5 591.0,385.5 591.5,387.5 592.0,385.5 592.5,386.5 593.0,384.5 593.5,388.5 594.0,385.5 594.5,387.5 595.0,385.5 595.5,389.5 596.0,386.5 596.5,389.5 597.0,387.5 597.5,390.5 598.0,388.5 598.5,391.5 599.0,389.5 599.5,391.5 600.0,390.5 600.5,393.5 601.0,391.5 601.5,394.5 602.0,392.5 602.5,395.5 603.0,393.5 603.5,396.5 604.0,394.5 604.5,396.5 605.0,395.5 605.5,397.5 606.0,396.5 606.5,399.5 607.0,396.5 607.5,399.5 608.0,398.5 608.5,400.5 609.0,398.5 609.5,401.5 610.0,400.5 610.5,403.5 611.0,400.5 611.5,403.5 612.0,401.5 612.5,405.5 613.0,402.5 613.5,405.5 614.0,402.5 614.5,404.5 615.0,402.5 615.5,404.5 616.0,402.5 616.5,404.5 617.0,402.5 617.5,404.5" fill="none" stroke="#0080ff" stroke-width="1.0" shape-rendering="crispEdges"/>
<rect x="55" y="493" width="565" height="1" fill="#000"/>
<rect x="55" y="634" width="565" height="1" fill="#000"/>
<rect x="55" y="493" width="1" height="142" fill="#000"/>
<rect x="619" y="493" width="1" height="142" fill="#000"/>
<rect x="66" y="632" width="1" height="2" fill="#000"/>
<rect x="66" y="494" width="1" height="2" fill="#000"/>
<rect x="77" y="632" width="1" height="2" fill="#000"/>
<rect x="77" y="494" width="1" height="2" fill="#000"/>
<rect x="88" y="632" width="1" height="2" fill="#000"/>
<rect x="88" y="494" width="1" height="2" fill="#000"/>
<rect x="98" y="630" width="1" height="4" fill="#000"/>
<rect x="98" y="494" width="1" height="4" fill="#000"/>
<rect x="109" y="632" width="1" height="2" fill="#000"/>
<rect x="109" y="494" width="1" height="2" fill="#000"/>
<rect x="120" y="632" width="1" height="2" fill="#000"/>
<rect x="120" y="494" width="1" height="2" fill="#000"/>
<rect x="131" y="632" width="1" height="2" fill="#000"/>
<rect x="131" y="494" width="1" height="2" fill="#000"/>
<rect x="142" y="630" width="1" height="4" fill="#000"/>
<rect x="142" y="494" width="1" height="4" fill="#000"/>
<rect x="153" y="632" width="1" height="2" fill="#000"/>
<rect x="153" y="494" width="1" height="2" fill="#000"/>
<rect x="163" y="632" width="1" height="2" fill="#000"/>
<rect x="163" y="494" width="1" height="2" fill="#000"/>
<rect x="174" y="632" width="1" height="2" fill="#000"/>
<rect x="174" y="494" width="1" height="2" fill="#000"/>
<rect x="185" y="630" width="1" height="4" fill="#000"/>
<rect x="185" y="494" width="1" height="4" fill="#000"/>
<rect x="196" y="632" width="1" height="2" fill="#000"/>
<rect x="196" y="494" width="1" height="2" fill="#000"/>
<rect x="207" y="632" width="1" height="2" fill="#000"/>
<rect x="207" y="494" width="1" height="2" fill="#000"/>
<rect x="218" y="632" width="1" height="2" fill="#000"/>
<rect x="218" y="494" width="1" height="2" fill="#000"/>
<rect x="229" y="630" width="1" height="4" fill="#000"/>
<rect x="229" y="494" width="1" height="4" fill="#000"/>
<rect x="239" y="632" width="1" height="2" fill="#000"/>
<rect x="239" y="494" width="1" height="2" fill="#000"/>
<rect x="250" y="632" width="1" height="2" fill="#000"/>
<rect x="250" y="494" width="1" height="2" fill="#000"/>
<rect x="261" y="632" width="1" height="2" fill="#000"/>
<rect x="261" y="494" width="1" height="2" fill="#000"/>
<rect x="272" y="630" width="1" height="4" fill="#000"/>
<rect x="272" y="494" width="1" height="4" fill="#000"/>
<rect x="283" y="632" width="1" height="2" fill="#000"/>
<rect x="283" y="494" width="1" height="2" fill="#000"/>
<rect x="294" y="632" width="1" height="2" fill="#000"/>
<rect x="294" y="494" width="1" height="2" fill="#000"/>
<rect x="304" y="632" width="1" height="2" fill="#000"/>
<rect x="304" y="494" width="1" height="2" fill="#000"/>
<rect x="315" y="630" width="1" height="4" fill="#000"/>
<rect x="315" y="494" width="1" height="4" fill="#000"/>
<rect x="326" y="632" width="1" height="2" fill="#000"/>
<rect x="326" y="494" width="1" height="2" fill="#000"/>
<rect x="337" y="632" width="1" height="2" fill="#000"/>
<rect x="337" y="494" width="1" height="2" fill="#000"/>
<rect x="348" y="632" width="1" height="2" fill="#000"/>
<rect x="348" y="494" width="1" height="2" fill="#000"/>
<rect x="359" y="630" width="1" height="4" fill="#000"/>
<rect x="359" y="494" width="1" height="4" fill="#000"/>
<rect x="370" y="632" width="1" height="2" fill="#000"/>
<rect x="370" y="494" width="1" height="2" fill="#000"/>
<rect x="380" y="632" width="1" height="2" fill="#000"/>
<rect x="380" y="494" width="1" height="2" fill="#000"/>
<rect x="391" y="632" width="1" height="2" fill="#000"/>
<rect x="391" y="494" width="1" height="2" fill="#000"/>
<rect x="402" y="630" width="1" height="4" fill="#000"/>
<rect x="402" y="494" width="1" height="4" fill="#000"/>
<rect x="413" y="632" width="1" height="2" fill="#000"/>
<rect x="413" y="494" width="1" height="2" fill="#000"/>
<rect x="424" y="632" width="1" height="2" fill="#000"/>
<rect x="424" y="494" width="1" height="2" fill="#000"/>
<rect x="435" y="632" width="1" height="2" fill="#000"/>
<rect x="435" y="494" width="1" height="2" fill="#000"/>
<rect x="445" y="630" width="1" height="4" fill="#000"/>
<rect x="445" y="494" width="1" height="4" fill="#000"/>
<rect x="456" y="632" width="1" height="2" fill="#000"/>
<rect x="456" y="494" width="1" height="2" fill="#000"/>
<rect x="467" y="632" width="1" height="2" fill="#000"/>
<rect x="467" y="494" width="1" height="2" fill="#000"/>
<rect x="478" y="632" width="1" height="2" fill="#000"/>
<rect x="478" y="494" width="1" height="2" fill="#000"/>
<rect x="489" y="630" width="1" height="4" fill="#000"/>
<rect x="489" y="494" width="1" height="4" fill="#000"/>
<rect x="500" y="632" width="1" height="2" fill="#000"/>
<rect x="500" y="494" width="1" height="2" fill="#000"/>
<rect x="511" y="632" width="1" height="2" fill="#000"/>
<rect x="511" y="494" width="1" height="2" fill="#000"/>
<rect x="521" y="632" width="1" height="2" fill="#000"/>
<rect x="521" y="494" width="1" height="2" fill="#000"/>
<rect x="532" y="630" width="1" height="4" fill="#000"/>
<rect x="532" y="494" width="1" height="4" fill="#000"/>
<rect x="543" y="632" width="1" height="2" fill="#000"/>
<rect x="543" y="494" width="1" height="2" fill="#000"/>
<rect x="554" y="632" width="1" height="2" fill="#000"/>
<rect x="554" y="494" width="1" height="2" fill="#000"/>
<rect x="565" y="632" width="1" height="2" fill="#000"/>
<rect x="565" y="494" width="1" height="2" fill="#000"/>
<rect x="576" y="630" width="1" height="4" fill="#000"/>
<rect x="576" y="494" width="1" height="4" fill="#000"/>
<rect x="586" y="632" width="1" height="2" fill="#000"/>
<rect x="586" y="494" width="1" height="2" fill="#000"/>
<rect x="597" y="632" width="1" height="2" fill="#000"/>
<rect x="597" y="494" width="1" height="2" fill="#000"/>
<rect x="608" y="632" width="1" height="2" fill="#000"/>
<rect x="608" y="494" width="1" height="2" fill="#000"/>
<use href="#c31" x="27" y="490"/><use href="#c2e" x="34" y="490"/><use href="#c38" x="41" y="490"/>
<text class="t" x="27" y="498">1.8</text>
<rect x="56" y="513" width="4" height="1" fill="#000"/>
<rect x="615" y="513" width="4" height="1" fill="#000"/>
<use href="#c31" x="27" y="510"/><use href="#c2e" x="34" y="510"/><use href="#c37" x="41" y="510"/>
<text class="t" x="27" y="518">1.7</text>
<rect x="56" y="533" width="4" height="1" fill="#000"/>
<rect x="615" y="533" width="4" height="1" fill="#000"/>
<use href="#c31" x="27" y="530"/><use href="#c2e" x="34" y="530"/><use href="#c36" x="41" y="530"/>
<text class="t" x="27" y="538">1.6</text>
<rect x="56" y="553" width="4" height="1" fill="#000"/>
<rect x="615" y="553" width="4" height="1" fill="#000"/>
<use href="#c31" x="27" y="550"/><use href="#c2e" x="34" y="550"/><use href="#c35" x="41" y="550"/>
<text class="t" x="27" y="558">1.5</text>
<rect x="56" y="574" width="4" height="1" fill="#000"/>
<rect x="615" y="574" width="4" height="1" fill="#000"/>
<use href="#c31" x="27" y="571"/><use href="#c2e" x="34" y="571"/><use href="#c34" x="41" y="571"/>
<text class="t" x="27" y="579">1.4</text>
<rect x="56" y="594" width="4" height="1" fill="#000"/>
<rect x="615" y="594" width="4" height="1" fill="#000"/>
<use href="#c31" x="27" y="591"/><use href="#c2e" x="34" y="591"/><use href="#c33" x="41" y="591"/>
<text class="t" x="27" y="599">1.3</text>
<rect x="56" y="614" width="4" height="1" fill="#000"/>
<rect x="615" y="614" width="4" height="1" fill="#000"/>
<use href="#c31" x="27" y="611"/><use href="#c2e" x="34" y="611"/><use href="#c32" x="41" y="611"/>
<text class="t" x="27" y="619">1.2</text>
<use href="#c31" x="27" y="631"/><use href="#c2e" x="34" y="631"/><use href="#c31" x="41" y="631"/>
<text class="t" x="27" y="639">1.1</text>
<use href="#c55" x="482" y="500"/><use href="#c28" x="489" y="500"/><use href="#c6d" x="496" y="500"/><use href="#c2f" x="503" y="500"/><use href="#c73" x="510" y="500"/><use href="#c29" x="517" y="500"/><use href="#c31" x="538" y="500"/><use href="#c2e" x="545" y="500"/><use href="#c36" x="552" y="500"/><use href="#c6d" x="559" y="500"/>
<text class="t" x="482" y="508">U(m/s)  1.6m</text>
<rect x="573" y="503" width="33" height="1" fill="#ff0000"/>
<use href="#c55" x="482" y="513"/><use href="#c28" x="489" y="513"/><use href="#c6d" x="496" y="513"/><use href="#c2f" x="503" y="513"/><use href="#c73" x="510" y="513"/><use href="#c29" x="517" y="513"/><use href="#c31" x="531" y="513"/><use href="#c32" x="538" y="513"/><use href="#c2e" x="545" y="513"/><use href="#c33" x="552" y="513"/><use href="#c6d" x="559" y="513"/>
<text class="t" x="482" y="521">U(m/s) 12.3m</text>
<rect x="573" y="516" width="33" height="1" fill="#00c000"/>
<use href="#c55" x="482" y="526"/><use href="#c28" x="489" y="526"/><use href="#c6d" x="496" y="526"/><use href="#c2f" x="503" y="526"/><use href="#c73" x="510" y="526"/><use href="#c29" x="517" y="526"/><use href="#c32" x="531" y="526"/><use href="#c39" x="538" y="526"/><use href="#c2e" x="545" y="526"/><use href="#c35" x="552" y="526"/><use href="#c6d" x="559" y="526"/>
<text class="t" x="482" y="534">U(m/s) 29.5m</text>
<rect x="573" y="529" width="33" height="1" fill="#0080ff"/>
<use href="#c55" x="482" y="539"/><use href="#c28" x="489" y="539"/><use href="#c6d" x="496" y="539"/><use href="#c2f" x="503" y="539"/><use href="#c73" x="510" y="539"/><use href="#c29" x="517" y="539"/><use href="#c33" x="531" y="539"/><use href="#c30" x="538" y="539"/><use href="#c2e" x="545" y="539"/><use href="#c35" x="552" y="539"/><use href="#c6d" x="559" y="539"/>
<text class="t" x="482" y="547">U(m/s) 30.5m</text>
<rect x="573" y="542" width="33" height="1" fill="#c000ff"/>
<rect x="350" y="546" width="1" height="1" fill="#ff0000"/>
<rect x="350" y="618" width="1" height="1" fill="#00c000"/>
<rect x="350" y="513" width="1" height="1" fill="#c000ff"/>
<rect x="55" y="649" width="565" height="1" fill="#000"/>
<rect x="55" y="790" width="565" height="1" fill="#000"/>
<rect x="55" y="649" width="1" height="142" fill="#000"/>
<rect x="619" y="649" width="1" height="142" fill="#000"/>
<rect x="66" y="788" width="1" height="2" fill="#000"/>
<rect x="66" y="650" width="1" height="2" fill="#000"/>
<rect x="77" y="788" width="1" height="2" fill="#000"/>
<rect x="77" y="650" width="1" height="2" fill="#000"/>
<rect x="88" y="788" width="1" height="2" fill="#000"/>
<rect x="88" y="650" width="1" height="2" fill="#000"/>
<rect x="98" y="786" width="1" height="4" fill="#000"/>
<rect x="98" y="650" width="1" height="4" fill="#000"/>
<rect x="109" y="788" width="1" height="2" fill="#000"/>
<rect x="109" y="650" width="1" height="2" fill="#000"/>
<rect x="120" y="788" width="1" height="2" fill="#000"/>
<rect x="120" y="650" width="1" height="2" fill="#000"/>
<rect x="131" y="788" width="1" height="2" fill="#000"/>
<rect x="131" y="650" width="1" height="2" fill="#000"/>
<rect x="142" y="786" width="1" height="4" fill="#000"/>
<rect x="142" y="650" width="1" height="4" fill="#000"/>
<rect x="153" y="788" width="1" height="2" fill="#000"/>
<rect x="153" y="650" width="1" height="2" fill="#000"/>
<rect x="163" y="788" width="1" height="2" fill="#000"/>
<rect x="163" y="650" width="1" height="2" fill="#000"/>
<rect x="174" y="788" width="1" height="2" fill="#000"/>
<rect x="174" y="650" width="1" height="2" fill="#000"/>
<rect x="185" y="786" width="1" height="4" fill="#000"/>
<rect x="185" y="650" width="1" height="4" fill="#000"/>
<rect x="196" y="788" width="1" height="2" fill="#000"/>
<rect x="196" y="650" width="1" height="2" fill="#000"/>
<rect x="207" y="788" width="1" height="2" fill="#000"/>
<rect x="207" y="650" width="1" height="2" fill="#000"/>
<rect x="218" y="788" width="1" height="2" fill="#000"/>
<rect x="218" y="650" width="1" height="2" fill="#000"/>
<rect x="229" y="786" width="1" height="4" fill="#000"/>
<rect x="229" y="650" width="1" height="4" fill="#000"/>
<rect x="239" y="788" width="1" height="2" fill="#000"/>
<rect x="239" y="650" width="1" height="2" fill="#000"/>
<rect x="250" y="788" width="1" height="2" fill="#000"/>
<rect x="250" y="650" width="1" height="2" fill="#000"/>
<rect x="261" y="788" width="1" height="2" fill="#000"/>
<rect x="261" y="650" width="1" height="2" fill="#000"/>
<rect x="272" y="786" width="1" height="4" fill="#000"/>
<rect x="272" y="650" width="1" height="4" fill="#000"/>
<rect x="283" y="788" width="1" height="2" fill="#000"/>
<rect x="283" y="650" width="1" height="2" fill="#000"/>
<rect x="294" y="788" width="1" height="2" fill="#000"/>
<rect x="294" y="650" width="1" height="2" fill="#000"/>
<rect x="304" y="788" width="1" height="2" fill="#000"/>
<rect x="304" y="650" width="1" height="2" fill="#000"/>
<rect x="315" y="786" width="1" height="4" fill="#000"/>
<rect x="315" y="650" width="1" height="4" fill="#000"/>
<rect x="326" y="788" width="1" height="2" fill="#000"/>
<rect x="326" y="650" width="1" height="2" fill="#000"/>
<rect x="337" y="788" width="1" height="2" fill="#000"/>
<rect x="337" y="650" width="1" height="2" fill="#000"/>
<rect x="348" y="788" width="1" height="2" fill="#000"/>
<rect x="348" y="650" width="1" height="2" fill="#000"/>
<rect x="359" y="786" width="1" height="4" fill="#000"/>
<rect x="359" y="650" width="1" height="4" fill="#000"/>
<rect x="370" y="788" width="1" height="2" fill="#000"/>
<rect x="370" y="650" width="1" height="2" fill="#000"/>
<rect x="380" y="788" width="1" height="2" fill="#000"/>
<rect x="380" y="650" width="1" height="2" fill="#000"/>
<rect x="391" y="788" width="1" height="2" fill="#000"/>
<rect x="391" y="650" width="1" height="2" fill="#000"/>
<rect x="402" y="786" width="1" height="4" fill="#000"/>
<rect x="402" y="650" width="1" height="4" fill="#000"/>
<rect x="413" y="788" width="1" height="2" fill="#000"/>
<rect x="413" y="650" width="1" height="2" fill="#000"/>
<rect x="424" y="788" width="1" height="2" fill="#000"/>
<rect x="424" y="650" width="1" height="2" fill="#000"/>
<rect x="435" y="788" width="1" height="2" fill="#000"/>
<rect x="435" y="650" width="1" height="2" fill="#000"/>
<rect x="445" y="786" width="1" height="4" fill="#000"/>
<rect x="445" y="650" width="1" height="4" fill="#000"/>
<rect x="456" y="788" width="1" height="2" fill="#000"/>
<rect x="456" y="650" width="1" height="2" fill="#000"/>
<rect x="467" y="788" width="1" height="2" fill="#000"/>
<rect x="467" y="650" width="1" height="2" fill="#000"/>
<rect x="478" y="788" width="1" height="2" fill="#000"/>
<rect x="478" y="650" width="1" height="2" fill="#000"/>
<rect x="489" y="786" width="1" height="4" fill="#000"/>
<rect x="489" y="650" width="1" height="4" fill="#000"/>
<rect x="500" y="788" width="1" height="2" fill="#000"/>
<rect x="500" y="650" width="1" height="2" fill="#000"/>
<rect x="511" y="788" width="1" height="2" fill="#000"/>
<rect x="511" y="650" width="1" height="2" fill="#000"/>
<rect x="521" y="788" width="1" height="2" fill="#000"/>
<rect x="521" y="650" width="1" height="2" fill="#000"/>
<rect x="532" y="786" width="1" height="4" fill="#000"/>
<rect x="532" y="650" width="1" height="4" fill="#000"/>
<rect x="543" y="788" width="1" height="2" fill="#000"/>
<rect x="543" y="650" width="1" height="2" fill="#000"/>
<rect x="554" y="788" width="1" height="2" fill="#000"/>
<rect x="554" y="650" width="1" height="2" fill="#000"/>
<rect x="565" y="788" width="1" height="2" fill="#000"/>
<rect x="565" y="650" width="1" height="2" fill="#000"/>
<rect x="576" y="786" width="1" height="4" fill="#000"/>
<rect x="576" y="650" width="1" height="4" fill="#000"/>
<rect x="586" y="788" width="1" height="2" fill="#000"/>
<rect x="586" y="650" width="1" height="2" fill="#000"/>
<rect x="597" y="788" width="1" height="2" fill="#000"/>
<rect x="597" y="650" width="1" height="2" fill="#000"/>
<rect x="608" y="788" width="1" height="2" fill="#000"/>
<rect x="608" y="650" width="1" height="2" fill="#000"/>
<use href="#c33" x="27" y="646"/><use href="#c36" x="34" y="646"/><use href="#c30" x="41" y="646"/>
<text class="t" x="27" y="654">360</text>
<rect x="56" y="684" width="4" height="1" fill="#000"/>
<rect x="615" y="684" width="4" height="1" fill="#000"/>
<use href="#c32" x="27" y="681"/><use href="#c37" x="34" y="681"/><use href="#c30" x="41" y="681"/>
<text class="t" x="27" y="689">270</text>
<rect x="56" y="720" width="4" height="1" fill="#000"/>
<rect x="615" y="720" width="4" height="1" fill="#000"/>
<use href="#c31" x="27" y="717"/><use href="#c38" x="34" y="717"/><use href="#c30" x="41" y="717"/>
<text class="t" x="27" y="725">180</text>
<rect x="56" y="755" width="4" height="1" fill="#000"/>
<rect x="615" y="755" width="4" height="1" fill="#000"/>
<use href="#c39" x="34" y="752"/><use href="#c30" x="41" y="752"/>
<text class="t" x="34" y="760">90</text>
<use href="#c30" x="41" y="787"/>
<text class="t" x="41" y="795">0</text>
<use href="#c44" x="475" y="656"/><use href="#c28" x="482" y="656"/><use href="#c64" x="489" y="656"/><use href="#c65" x="496" y="656"/><use href="#c67" x="503" y="656"/><use href="#c29" x="510" y="656"/><use href="#c33" x="531" y="656"/><use href="#c30" x="538" y="656"/><use href="#c2e" x="545" y="656"/><use href="#c35" x="552" y="656"/><use href="#c6d" x="559" y="656"/>
<text class="t" x="475" y="664">D(deg)  30.5m</text>
<rect x="573" y="659" width="33" height="1" fill="#ff0000"/>
<rect x="350" y="703" width="1" height="1" fill="#ff0000"/>
<rect x="69" y="805" width="551" height="1" fill="#000"/>
<rect x="69" y="920" width="551" height="1" fill="#000"/>
<rect x="69" y="805" width="1" height="116" fill="#000"/>
<rect x="619" y="805" width="1" height="116" fill="#000"/>
<rect x="80" y="918" width="1" height="2" fill="#000"/>
<rect x="80" y="806" width="1" height="2" fill="#000"/>
<rect x="90" y="918" width="1" height="2" fill="#000"/>
<rect x="90" y="806" width="1" height="2" fill="#000"/>
<rect x="101" y="918" width="1" height="2" fill="#000"/>
<rect x="101" y="806" width="1" height="2" fill="#000"/>
<use href="#c30" x="52" y="930"/><use href="#c33" x="59" y="930"/><use href="#c2f" x="66" y="930"/><use href="#c31" x="73" y="930"/><use href="#c30" x="80" y="930"/>
<text class="t" x="52" y="938">03/10</text>
<use href="#c30" x="52" y="943"/><use href="#c30" x="59" y="943"/><use href="#c3a" x="66" y="943"/><use href="#c30" x="73" y="943"/><use href="#c30" x="80" y="943"/>
<text class="t" x="52" y="951">00:00</text>
<rect x="111" y="916" width="1" height="4" fill="#000"/>
<rect x="111" y="806" width="1" height="4" fill="#000"/>
<rect x="122" y="918" width="1" height="2" fill="#000"/>
<rect x="122" y="806" width="1" height="2" fill="#000"/>
<rect x="132" y="918" width="1" height="2" fill="#000"/>
<rect x="132" y="806" width="1" height="2" fill="#000"/>
<rect x="143" y="918" width="1" height="2" fill="#000"/>
<rect x="143" y="806" width="1" height="2" fill="#000"/>
<use href="#c30" x="94" y="930"/><use href="#c33" x="101" y="930"/><use href="#c2f" x="108" y="930"/><use href="#c31" x="115" y="930"/><use href="#c32" x="122" y="930"/>
<text class="t" x="94" y="938">03/12</text>
<use href="#c30" x="94" y="943"/><use href="#c30" x="101" y="943"/><use href="#c3a" x="108" y="943"/><use href="#c30" x="115" y="943"/><use href="#c30" x="122" y="943"/>
<text class="t" x="94" y="951">00:00</text>
<rect x="154" y="916" width="1" height="4" fill="#000"/>
<rect x="154" y="806" width="1" height="4" fill="#000"/>
<rect x="164" y="918" width="1" height="2" fill="#000"/>
<rect x="164" y="806" width="1" height="2" fill="#000"/>
<rect x="175" y="918" width="1" height="2" fill="#000"/>
<rect x="175" y="806" width="1" height="2" fill="#000"/>
<rect x="185" y="918" width="1" height="2" fill="#000"/>
<rect x="185" y="806" width="1" height="2" fill="#000"/>
<use href="#c30" x="137" y="930"/><use href="#c33" x="144" y="930"/><use href="#c2f" x="151" y="930"/><use href="#c31" x="158" y="930"/><use href="#c34" x="165" y="930"/>
<text class="t" x="137" y="938">03/14</text>
<use href="#c30" x="137" y="943"/><use href="#c30" x="144" y="943"/><use href="#c3a" x="151" y="943"/><use href="#c30" x="158" y="943"/><use href="#c30" x="165" y="943"/>
<text class="t" x="137" y="951">00:00</text>
<rect x="196" y="916" width="1" height="4" fill="#000"/>
<rect x="196" y="806" width="1" height="4" fill="#000"/>
<rect x="207" y="918" width="1" height="2" fill="#000"/>
<rect x="207" y="806" width="1" height="2" fill="#000"/>
<rect x="217" y="918" width="1" height="2" fill="#000"/>
<rect x="217" y="806" width="1" height="2" fill="#000"/>
<rect x="228" y="918" width="1" height="2" fill="#000"/>
<rect x="228" y="806" width="1" height="2" fill="#000"/>
<use href="#c30" x="179" y="930"/><use href="#c33" x="186" y="930"/><use href="#c2f" x="193" y="930"/><use href="#c31" x="200" y="930"/><use href="#c36" x="207" y="930"/>
<text class="t" x="179" y="938">03/16</text>
<use href="#c30" x="179" y="943"/><use href="#c30" x="186" y="943"/><use href="#c3a" x="193" y="943"/><use href="#c30" x="200" y="943"/><use href="#c30" x="207" y="943"/>
<text class="t" x="179" y="951">00:00</text>
<rect x="238" y="916" width="1" height="4" fill="#000"/>
<rect x="238" y="806" width="1" height="4" fill="#000"/>
<rect x="249" y="918" width="1" height="2" fill="#000"/>
<rect x="249" y="806" width="1" height="2" fill="#000"/>
<rect x="259" y="918" width="1" height="2" fill="#000"/>
<rect x="259" y="806" width="1" height="2" fill="#000"/>
<rect x="270" y="918" width="1" height="2" fill="#000"/>
<rect x="270" y="806" width="1" height="2" fill="#000"/>
<use href="#c30" x="221" y="930"/><use href="#c33" x="228" y="930"/><use href="#c2f" x="235" y="930"/><use href="#c31" x="242" y="930"/><use href="#c38" x="249" y="930"/>
<text class="t" x="221" y="938">03/18</text>
<use href="#c30" x="221" y="943"/><use href="#c30" x="228" y="943"/><use href="#c3a" x="235" y="943"/><use href="#c30" x="242" y="943"/><use href="#c30" x="249" y="943"/>
<text class="t" x="221" y="951">00:00</text>
<rect x="281" y="916" width="1" height="4" fill="#000"/>
<rect x="281" y="806" width="1" height="4" fill="#000"/>
<rect x="291" y="918" width="1" height="2" fill="#000"/>
<rect x="291" y="806" width="1" height="2" fill="#000"/>
<rect x="302" y="918" width="1" height="2" fill="#000"/>
<rect x="302" y="806" width="1" height="2" fill="#000"/>
<rect x="312" y="918" width="1" height="2" fill="#000"/>
<rect x="312" y="806" width="1" height="2" fill="#000"/>
<use href="#c30" x="264" y="930"/><use href="#c33" x="271" y="930"/><use href="#c2f" x="278" y="930"/><use href="#c32" x="285" y="930"/><use href="#c30" x="292" y="930"/>
<text class="t" x="264" y="938">03/20</text>
<use href="#c30" x="264" y="943"/><use href="#c30" x="271" y="943"/><use href="#c3a" x="278" y="943"/><use href="#c30" x="285" y="943"/><use href="#c30" x="292" y="943"/>
<text class="t" x="264" y="951">00:00</text>
<rect x="323" y="916" width="1" height="4" fill="#000"/>
<rect x="323" y="806" width="1" height="4" fill="#000"/>
<rect x="333" y="918" width="1" height="2" fill="#000"/>
<rect x="333" y="806" width="1" height="2" fill="#000"/>
<rect x="344" y="918" width="1" height="2" fill="#000"/>
<rect x="344" y="806" width="1" height="2" fill="#000"/>
<rect x="355" y="918" width="1" height="2" fill="#000"/>
<rect x="355" y="806" width="1" height="2" fill="#000"/>
<use href="#c30" x="306" y="930"/><use href="#c33" x="313" y="930"/><use href="#c2f" x="320" y="930"/><use href="#c32" x="327" y="930"/><use href="#c32" x="334" y="930"/>
<text class="t" x="306" y="938">03/22</text>
<use href="#c30" x="306" y="943"/><use href="#c30" x="313" y="943"/><use href="#c3a" x="320" y="943"/><use href="#c30" x="327" y="943"/><use href="#c30" x="334" y="943"/>
<text class="t" x="306" y="951">00:00</text>
<rect x="365" y="916" width="1" height="4" fill="#000"/>
<rect x="365" y="806" width="1" height="4" fill="#000"/>
<rect x="376" y="918" width="1" height="2" fill="#000"/>
<rect x="376" y="806" width="1" height="2" fill="#000"/>
<rect x="386" y="918" width="1" height="2" fill="#000"/>
<rect x="386" y="806" width="1" height="2" fill="#000"/>
<rect x="397" y="918" width="1" height="2" fill="#000"/>
<rect x="397" y="806" width="1" height="2" fill="#000"/>
<use href="#c30" x="348" y="930"/><use href="#c33" x="355" y="930"/><use href="#c2f" x="362" y="930"/><use href="#c32" x="369" y="930"/><use href="#c34" x="376" y="930"/>
<text class="t" x="348" y="938">03/24</text>
<use href="#c30" x="348" y="943"/><use href="#c30" x="355" y="943"/><use href="#c3a" x="362" y="943"/><use href="#c30" x="369" y="943"/><use href="#c30" x="376" y="943"/>
<text class="t" x="348" y="951">00:00</text>
<rect x="407" y="916" width="1" height="4" fill="#000"/>
<rect x="407" y="806" width="1" height="4" fill="#000"/>
<rect x="418" y="918" width="1" height="2" fill="#000"/>
<rect x="418" y="806" width="1" height="2" fill="#000"/>
<rect x="429" y="918" width="1" height="2" fill="#000"/>
<rect x="429" y="806" width="1" height="2" fill="#000"/>
<rect x="439" y="918" width="1" height="2" fill="#000"/>
<rect x="439" y="806" width="1" height="2" fill="#000"/>
<use href="#c30" x="390" y="930"/><use href="#c33" x="397" y="930"/><use href="#c2f" x="404" y="930"/><use href="#c32" x="411" y="930"/><use href="#c36" x="418" y="930"/>
<text class="t" x="390" y="938">03/26</text>
<use href="#c30" x="390" y="943"/><use href="#c30" x="397" y="943"/><use href="#c3a" x="404" y="943"/><use href="#c30" x="411" y="943"/><use href="#c30" x="418" y="943"/>
<text class="t" x="390" y="951">00:00</text>
<rect x="450" y="916" width="1" height="4" fill="#000"/>
<rect x="450" y="806" width="1" height="4" fill="#000"/>
<rect x="460" y="918" width="1" height="2" fill="#000"/>
<rect x="460" y="806" width="1" height="2" fill="#000"/>
<rect x="471" y="918" width="1" height="2" fill="#000"/>
<rect x="471" y="806" width="1" height="2" fill="#000"/>
<rect x="482" y="918" width="1" height="2" fill="#000"/>
<rect x="482" y="806" width="1" height="2" fill="#000"/>
<use href="#c30" x="433" y="930"/><use href="#c33" x="440" y="930"/><use href="#c2f" x="447" y="930"/><use href="#c32" x="454" y="930"/><use href="#c38" x="461" y="930"/>
<text class="t" x="433" y="938">03/28</text>
<use href="#c30" x="433" y="943"/><use href="#c30" x="440" y="943"/><use href="#c3a" x="447" y="943"/><use href="#c30" x="454" y="943"/><use href="#c30" x="461" y="943"/>
<text class="t" x="433" y="951">00:00</text>
<rect x="492" y="916" width="1" height="4" fill="#000"/>
<rect x="492" y="806" width="1" height="4" fill="#000"/>
<rect x="503" y="918" width="1" height="2" fill="#000"/>
<rect x="503" y="806" width="1" height="2" fill="#000"/>
<rect x="513" y="918" width="1" height="2" fill="#000"/>
<rect x="513" y="806" width="1" height="2" fill="#000"/>
<rect x="524" y="918" width="1" height="2" fill="#000"/>
<rect x="524" y="806" width="1" height="2" fill="#000"/>
<use href="#c30" x="475" y="930"/><use href="#c33" x="482" y="930"/><use href="#c2f" x="489" y="930"/><use href="#c33" x="496" y="930"/><use href="#c30" x="503" y="930"/>
<text class="t" x="475" y="938">03/30</text>
<use href="#c30" x="475" y="943"/><use href="#c30" x="482" y="943"/><use href="#c3a" x="489" y="943"/><use href="#c30" x="496" y="943"/><use href="#c30" x="503" y="943"/>
<text class="t" x="475" y="951">00:00</text>
<rect x="534" y="916" width="1" height="4" fill="#000"/>
<rect x="534" y="806" width="1" height="4" fill="#000"/>
<rect x="545" y="918" width="1" height="2" fill="#000"/>
<rect x="545" y="806" width="1" height="2" fill="#000"/>
<rect x="556" y="918" width="1" height="2" fill="#000"/>
<rect x="556" y="806" width="1" height="2" fill="#000"/>
<rect x="566" y="918" width="1" height="2" fill="#000"/>
<rect x="566" y="806" width="1" height="2" fill="#000"/>
<use href="#c30" x="517" y="930"/><use href="#c34" x="524" y="930"/><use href="#c2f" x="531" y="930"/><use href="#c30" x="538" y="930"/><use href="#c31" x="545" y="930"/>
<text class="t" x="517" y="938">04/01</text>
<use href="#c30" x="517" y="943"/><use href="#c30" x="524" y="943"/><use href="#c3a" x="531" y="943"/><use href="#c30" x="538" y="943"/><use href="#c30" x="545" y="943"/>
<text class="t" x="517" y="951">00:00</text>
<rect x="577" y="916" width="1" height="4" fill="#000"/>
<rect x="577" y="806" width="1" height="4" fill="#000"/>
<rect x="587" y="918" width="1" height="2" fill="#000"/>
<rect x="587" y="806" width="1" height="2" fill="#000"/>
<rect x="598" y="918" width="1" height="2" fill="#000"/>
<rect x="598" y="806" width="1" height="2" fill="#000"/>
<rect x="608" y="918" width="1" height="2" fill="#000"/>
<rect x="608" y="806" width="1" height="2" fill="#000"/>
<use href="#c30" x="560" y="930"/><use href="#c34" x="567" y="930"/><use href="#c2f" x="574" y="930"/><use href="#c30" x="581" y="930"/><use href="#c33" x="588" y="930"/>
<text class="t" x="560" y="938">04/03</text>
<use href="#c30" x="560" y="943"/><use href="#c30" x="567" y="943"/><use href="#c3a" x="574" y="943"/><use href="#c30" x="581" y="943"/><use href="#c30" x="588" y="943"/>
<text class="t" x="560" y="951">00:00</text>
<use href="#c30" x="602" y="930"/><use href="#c34" x="609" y="930"/><use href="#c2f" x="616" y="930"/><use href="#c30" x="623" y="930"/><use href="#c35" x="630" y="930"/>
<text class="t" x="602" y="938">04/05</text>
<use href="#c30" x="602" y="943"/><use href="#c30" x="609" y="943"/><use href="#c3a" x="616" y="943"/><use href="#c30" x="623" y="943"/><use href="#c30" x="630" y="943"/>
<text class="t" x="602" y="951">00:00</text>
<use href="#c2d" x="13" y="802"/><use href="#c31" x="20" y="802"/><use href="#c30" x="27" y="802"/><use href="#c31" x="34" y="802"/><use href="#c30" x="41" y="802"/><use href="#c30" x="48" y="802"/><use href="#c30" x="55" y="802"/>
<text class="t" x="13" y="810">-101000</text>
<rect x="70" y="815" width="4" height="1" fill="#000"/>
<rect x="615" y="815" width="4" height="1" fill="#000"/>
<use href="#c2d" x="13" y="812"/><use href="#c31" x="20" y="812"/><use href="#c30" x="27" y="812"/><use href="#c30" x="34" y="812"/><use href="#c38" x="41" y="812"/><use href="#c30" x="48" y="812"/><use href="#c30" x="55" y="812"/>
<text class="t" x="13" y="820">-100800</text>
<rect x="70" y="826" width="4" height="1" fill="#000"/>
<rect x="615" y="826" width="4" height="1" fill="#000"/>
<use href="#c2d" x="13" y="823"/><use href="#c31" x="20" y="823"/><use href="#c30" x="27" y="823"/><use href="#c30" x="34" y="823"/><use href="#c36" x="41" y="823"/><use href="#c30" x="48" y="823"/><use href="#c30" x="55" y="823"/>
<text class="t" x="13" y="831">-100600</text>
<rect x="70" y="836" width="4" height="1" fill="#000"/>
<rect x="615" y="836" width="4" height="1" fill="#000"/>
<use href="#c2d" x="13" y="833"/><use href="#c31" x="20" y="833"/><use href="#c30" x="27" y="833"/><use href="#c30" x="34" y="833"/><use href="#c34" x="41" y="833"/><use href="#c30" x="48" y="833"/><use href="#c30" x="55" y="833"/>
<text class="t" x="13" y="841">-100400</text>
<rect x="70" y="847" width="4" height="1" fill="#000"/>
<rect x="615" y="847" width="4" height="1" fill="#000"/>
<use href="#c2d" x="13" y="844"/><use href="#c31" x="20" y="844"/><use href="#c30" x="27" y="844"/><use href="#c30" x="34" y="844"/><use href="#c32" x="41" y="844"/><use href="#c30" x="48" y="844"/><use href="#c30" x="55" y="844"/>
<text class="t" x="13" y="852">-100200</text>
<rect x="70" y="857" width="4" height="1" fill="#000"/>
<rect x="615" y="857" width="4" height="1" fill="#000"/>
<use href="#c2d" x="13" y="854"/><use href="#c31" x="20" y="854"/><use href="#c30" x="27" y="854"/><use href="#c30" x="34" y="854"/><use href="#c30" x="41" y="854"/><use href="#c30" x="48" y="854"/><use href="#c30" x="55" y="854"/>
<text class="t" x="13" y="862">-100000</text>
<rect x="70" y="868" width="4" height="1" fill="#000"/>
<rect x="615" y="868" width="4" height="1" fill="#000"/>
<use href="#c2d" x="20" y="865"/><use href="#c39" x="27" y="865"/><use href="#c39" x="34" y="865"/><use href="#c38" x="41" y="865"/><use href="#c30" x="48" y="865"/><use href="#c30" x="55" y="865"/>
<text class="t" x="20" y="873">-99800</text>
<rect x="70" y="878" width="4" height="1" fill="#000"/>
<rect x="615" y="878" width="4" height="1" fill="#000"/>
<use href="#c2d" x="20" y="875"/><use href="#c39" x="27" y="875"/><use href="#c39" x="34" y="875"/><use href="#c36" x="41" y="875"/><use href="#c30" x="48" y="875"/><use href="#c30" x="55" y="875"/>
<text class="t" x="20" y="883">-99600</text>
<rect x="70" y="889" width="4" height="1" fill="#000"/>
<rect x="615" y="889" width="4" height="1" fill="#000"/>
<use href="#c2d" x="20" y="886"/><use href="#c39" x="27" y="886"/><use href="#c39" x="34" y="886"/><use href="#c34" x="41" y="886"/><use href="#c30" x="48" y="886"/><use href="#c30" x="55" y="886"/>
<text class="t" x="20" y="894">-99400</text>
<rect x="70" y="899" width="4" height="1" fill="#000"/>
<rect x="615" y="899" width="4" height="1" fill="#000"/>
<use href="#c2d" x="20" y="896"/><use href="#c39" x="27" y="896"/><use href="#c39" x="34" y="896"/><use href="#c32" x="41" y="896"/><use href="#c30" x="48" y="896"/><use href="#c30" x="55" y="896"/>
<text class="t" x="20" y="904">-99200</text>
<rect x="70" y="910" width="4" height="1" fill="#000"/>
<rect x="615" y="910" width="4" height="1" fill="#000"/>
<use href="#c2d" x="20" y="907"/><use href="#c39" x="27" y="907"/><use href="#c39" x="34" y="907"/><use href="#c30" x="41" y="907"/><use href="#c30" x="48" y="907"/><use href="#c30" x="55" y="907"/>
<text class="t" x="20" y="915">-99000</text>
<use href="#c2d" x="20" y="917"/><use href="#c39" x="27" y="917"/><use href="#c38" x="34" y="917"/><use href="#c38" x="41" y="917"/><use href="#c30" x="48" y="917"/><use href="#c30" x="55" y="917"/>
<text class="t" x="20" y="925">-98800</text>
<use href="#c50" x="559" y="812"/>
<text class="t" x="559" y="820">P</text>
<rect x="573" y="815" width="33" height="1" fill="#ff0000"/>
<rect x="357" y="857" width="1" height="1" fill="#ff0000"/>
<rect x="695" y="25" width="565" height="1" fill="#000"/>
<rect x="695" y="166" width="565" height="1" fill="#000"/>
<rect x="695" y="25" width="1" height="142" fill="#000"/>
<rect x="1259" y="25" width="1" height="142" fill="#000"/>
<rect x="706" y="164" width="1" height="2" fill="#000"/>
<rect x="706" y="26" width="1" height="2" fill="#000"/>
<rect x="717" y="164" width="1" height="2" fill="#000"/>
<rect x="717" y="26" width="1" height="2" fill="#000"/>
<rect x="728" y="164" width="1" height="2" fill="#000"/>
<rect x="728" y="26" width="1" height="2" fill="#000"/>
<rect x="738" y="162" width="1" height="4" fill="#000"/>
<rect x="738" y="26" width="1" height="4" fill="#000"/>
<rect x="749" y="164" width="1" height="2" fill="#000"/>
<rect x="749" y="26" width="1" height="2" fill="#000"/>
<rect x="760" y="164" width="1" height="2" fill="#000"/>
<rect x="760" y="26" width="1" height="2" fill="#000"/>
<rect x="771" y="164" width="1" height="2" fill="#000"/>
<rect x="771" y="26" width="1" height="2" fill="#000"/>
<rect x="782" y="162" width="1" height="4" fill="#000"/>
<rect x="782" y="26" width="1" height="4" fill="#000"/>
<rect x="793" y="164" width="1" height="2" fill="#000"/>
<rect x="793" y="26" width="1" height="2" fill="#000"/>
<rect x="803" y="164" width="1" height="2" fill="#000"/>
<rect x="803" y="26" width="1" height="2" fill="#000"/>
<rect x="814" y="164" width="1" height="2" fill="#000"/>
<rect x="814" y="26" width="1" height="2" fill="#000"/>
<rect x="825" y="162" width="1" height="4" fill="#000"/>
<rect x="825" y="26" width="1" height="4" fill="#000"/>
<rect x="836" y="164" width="1" height="2" fill="#000"/>
<rect x="836" y="26" width="1" height="2" fill="#000"/>
<rect x="847" y="164" width="1" height="2" fill="#000"/>
<rect x="847" y="26" width="1" height="2" fill="#000"/>
<rect x="858" y="164" width="1" height="2" fill="#000"/>
<rect x="858" y="26" width="1" height="2" fill="#000"/>
<rect x="869" y="162" width="1" height="4" fill="#000"/>
<rect x="869" y="26" width="1" height="4" fill="#000"/>
<rect x="879" y="164" width="1" height="2" fill="#000"/>
<rect x="879" y="26" width="1" height="2" fill="#000"/>
<rect x="890" y="164" width="1" height="2" fill="#000"/>
<rect x="890" y="26" width="1" height="2" fill="#000"/>
<rect x="901" y="164" width="1" height="2" fill="#000"/>
<rect x="901" y="26" width="1" height="2" fill="#000"/>
<rect x="912" y="162" width="1" height="4" fill="#000"/>
<rect x="912" y="26" width="1" height="4" fill="#000"/>
<rect x="923" y="164" width="1" height="2" fill="#000"/>
<rect x="923" y="26" width="1" height="2" fill="#000"/>
<rect x="934" y="164" width="1" height="2" fill="#000"/>
<rect x="934" y="26" width="1" height="2" fill="#000"/>
<rect x="944" y="164" width="1" height="2" fill="#000"/>
<rect x="944" y="26" width="1" height="2" fill="#000"/>
<rect x="955" y="162" width="1" height="4" fill="#000"/>
<rect x="955" y="26" width="1" height="4" fill="#000"/>
<rect x="966" y="164" width="1" height="2" fill="#000"/>
<rect x="966" y="26" width="1" height="2" fill="#000"/>
<rect x="977" y="164" width="1" height="2" fill="#000"/>
<rect x="977" y="26" width="1" height="2" fill="#000"/>
<rect x="988" y="164" width="1" height="2" fill="#000"/>
<rect x="988" y="26" width="1" height="2" fill="#000"/>
<rect x="999" y="162" width="1" height="4" fill="#000"/>
<rect x="999" y="26" width="1" height="4" fill="#000"/>
<rect x="1010" y="164" width="1" height="2" fill="#000"/>
<rect x="1010" y="26" width="1" height="2" fill="#000"/>
<rect x="1020" y="164" width="1" height="2" fill="#000"/>
<rect x="1020" y="26" width="1" height="2" fill="#000"/>
<rect x="1031" y="164" width="1" height="2" fill="#000"/>
<rect x="1031" y="26" width="1" height="2" fill="#000"/>
<rect x="1042" y="162" width="1" height="4" fill="#000"/>
<rect x="1042" y="26" width="1" height="4" fill="#000"/>
<rect x="1053" y="164" width="1" height="2" fill="#000"/>
<rect x="1053" y="26" width="1" height="2" fill="#000"/>
<rect x="1064" y="164" width="1" height="2" fill="#000"/>
<rect x="1064" y="26" width="1" height="2" fill="#000"/>
<rect x="1075" y="164" width="1" height="2" fill="#000"/>
<rect x="1075" y="26" width="1" height="2" fill="#000"/>
<rect x="1085" y="162" width="1" height="4" fill="#000"/>
<rect x="1085" y="26" width="1" height="4" fill="#000"/>
<rect x="1096" y="164" width="1" height="2" fill="#000"/>
<rect x="1096" y="26" width="1" height="2" fill="#000"/>
<rect x="1107" y="164" width="1" height="2" fill="#000"/>
<rect x="1107" y="26" width="1" height="2" fill="#000"/>
<rect x="1118" y="164" width="1" height="2" fill="#000"/>
<rect x="1118" y="26" width="1" height="2" fill="#000"/>
<rect x="1129" y="162" width="1" height="4" fill="#000"/>
<rect x="1129" y="26" width="1" height="4" fill="#000"/>
<rect x="1140" y="164" width="1" height="2" fill="#000"/>
<rect x="1140" y="26" width="1" height="2" fill="#000"/>
<rect x="1151" y="164" width="1" height="2" fill="#000"/>
<rect x="1151" y="26" width="1" height="2" fill="#000"/>
<rect x="1161" y="164" width="1" height="2" fill="#000"/>
<rect x="1161" y="26" width="1" height="2" fill="#000"/>
<rect x="1172" y="162" width="1" height="4" fill="#000"/>
<rect x="1172" y="26" width="1" height="4" fill="#000"/>
<rect x="1183" y="164" width="1" height="2" fill="#000"/>
<rect x="1183" y="26" width="1" height="2" fill="#000"/>
<rect x="1194" y="164" width="1" height="2" fill="#000"/>
<rect x="1194" y="26" width="1" height="2" fill="#000"/>
<rect x="1205" y="164" width="1" height="2" fill="#000"/>
<rect x="1205" y="26" width="1" height="2" fill="#000"/>
<rect x="1216" y="162" width="1" height="4" fill="#000"/>
<rect x="1216" y="26" width="1" height="4" fill="#000"/>
<rect x="1226" y="164" width="1" height="2" fill="#000"/>
<rect x="1226" y="26" width="1" height="2" fill="#000"/>
<rect x="1237" y="164" width="1" height="2" fill="#000"/>
<rect x="1237" y="26" width="1" height="2" fill="#000"/>
<rect x="1248" y="164" width="1" height="2" fill="#000"/>
<rect x="1248" y="26" width="1" height="2" fill="#000"/>
<use href="#c37" x="674" y="22"/><use href="#c38" x="681" y="22"/>
<text class="t" x="674" y="30">78</text>
<rect x="696" y="43" width="4" height="1" fill="#000"/>
<rect x="1255" y="43" width="4" height="1" fill="#000"/>
<use href="#c37" x="660" y="40"/><use href="#c37" x="667" y="40"/><use href="#c2e" x="674" y="40"/><use href="#c38" x="681" y="40"/>
<text class="t" x="660" y="48">77.8</text>
<rect x="696" y="60" width="4" height="1" fill="#000"/>
<rect x="1255" y="60" width="4" height="1" fill="#000"/>
<use href="#c37" x="660" y="57"/><use href="#c37" x="667" y="57"/><use href="#c2e" x="674" y="57"/><use href="#c36" x="681" y="57"/>
<text class="t" x="660" y="65">77.6</text>
<rect x="696" y="78" width="4" height="1" fill="#000"/>
<rect x="1255" y="78" width="4" height="1" fill="#000"/>
<use href="#c37" x="660" y="75"/><use href="#c37" x="667" y="75"/><use href="#c2e" x="674" y="75"/><use href="#c34" x="681" y="75"/>
<text class="t" x="660" y="83">77.4</text>
<rect x="696" y="95" width="4" height="1" fill="#000"/>
<rect x="1255" y="95" width="4" height="1" fill="#000"/>
<use href="#c37" x="660" y="92"/><use href="#c37" x="667" y="92"/><use href="#c2e" x="674" y="92"/><use href="#c32" x="681" y="92"/>
<text class="t" x="660" y="100">77.2</text>
<rect x="696" y="113" width="4" height="1" fill="#000"/>
<rect x="1255" y="113" width="4" height="1" fill="#000"/>
<use href="#c37" x="674" y="110"/><use href="#c37" x="681" y="110"/>
<text class="t" x="674" y="118">77</text>
<rect x="696" y="131" width="4" height="1" fill="#000"/>
<rect x="1255" y="131" width="4" height="1" fill="#000"/>
<use href="#c37" x="660" y="128"/><use href="#c36" x="667" y="128"/><use href="#c2e" x="674" y="128"/><use href="#c38" x="681" y="128"/>
<text class="t" x="660" y="136">76.8</text>
<rect x="696" y="148" width="4" height="1" fill="#000"/>
<rect x="1255" y="148" width="4" height="1" fill="#000"/>
<use href="#c37" x="660" y="145"/><use href="#c36" x="667" y="145"/><use href="#c2e" x="674" y="145"/><use href="#c36" x="681" y="145"/>
<text class="t" x="660" y="153">76.6</text>
<use href="#c37" x="660" y="163"/><use href="#c36" x="667" y="163"/><use href="#c2e" x="674" y="163"/><use href="#c34" x="681" y="163"/>
<text class="t" x="660" y="171">76.4</text>
<use href="#c4c" x="1157" y="32"/><use href="#c79" x="1164" y="32"/><use href="#c73" x="1171" y="32"/><use href="#c28" x="1178" y="32"/><use href="#c6b" x="1185" y="32"/><use href="#c67" x="1192" y="32"/><use href="#c29" x="1199" y="32"/>
<text class="t" x="1157" y="40">Lys(kg)</text>
<rect x="1213" y="35" width="33" height="1" fill="#ff0000"/>
<rect x="990" y="96" width="1" height="1" fill="#ff0000"/>
<rect x="695" y="181" width="565" height="1" fill="#000"/>
<rect x="695" y="322" width="565" height="1" fill="#000"/>
<rect x="695" y="181" width="1" height="142" fill="#000"/>
<rect x="1259" y="181" width="1" height="142" fill="#000"/>
<rect x="717" y="320" width="1" height="2" fill="#000"/>
<rect x="717" y="182" width="1" height="2" fill="#000"/>
<rect x="738" y="318" width="1" height="4" fill="#000"/>
<rect x="738" y="182" width="1" height="4" fill="#000"/>
<rect x="760" y="320" width="1" height="2" fill="#000"/>
<rect x="760" y="182" width="1" height="2" fill="#000"/>
<rect x="782" y="318" width="1" height="4" fill="#000"/>
<rect x="782" y="182" width="1" height="4" fill="#000"/>
<rect x="803" y="320" width="1" height="2" fill="#000"/>
<rect x="803" y="182" width="1" height="2" fill="#000"/>
<rect x="825" y="318" width="1" height="4" fill="#000"/>
<rect x="825" y="182" width="1" height="4" fill="#000"/>
<rect x="847" y="320" width="1" height="2" fill="#000"/>
<rect x="847" y="182" width="1" height="2" fill="#000"/>
<rect x="869" y="318" width="1" height="4" fill="#000"/>
<rect x="869" y="182" width="1" height="4" fill="#000"/>
<rect x="890" y="320" width="1" height="2" fill="#000"/>
<rect x="890" y="182" width="1" height="2" fill="#000"/>
<rect x="912" y="318" width="1" height="4" fill="#000"/>
<rect x="912" y="182" width="1" height="4" fill="#000"/>
<rect x="934" y="320" width="1" height="2" fill="#000"/>
<rect x="934" y="182" width="1" height="2" fill="#000"/>
<rect x="955" y="318" width="1" height="4" fill="#000"/>
<rect x="955" y="182" width="1" height="4" fill="#000"/>
<rect x="977" y="320" width="1" height="2" fill="#000"/>
<rect x="977" y="182" width="1" height="2" fill="#000"/>
<rect x="999" y="318" width="1" height="4" fill="#000"/>
<rect x="999" y="182" width="1" height="4" fill="#000"/>
<rect x="1020" y="320" width="1" height="2" fill="#000"/>
<rect x="1020" y="182" width="1" height="2" fill="#000"/>
<rect x="1042" y="318" width="1" height="4" fill="#000"/>
<rect x="1042" y="182" width="1" height="4" fill="#000"/>
<rect x="1064" y="320" width="1" height="2" fill="#000"/>
<rect x="1064" y="182" width="1" height="2" fill="#000"/>
<rect x="1085" y="318" width="1" height="4" fill="#000"/>
<rect x="1085" y="182" width="1" height="4" fill="#000"/>
<rect x="1107" y="320" width="1" height="2" fill="#000"/>
<rect x="1107" y="182" width="1" height="2" fill="#000"/>
<rect x="1129" y="318" width="1" height="4" fill="#000"/>
<rect x="1129" y="182" width="1" height="4" fill="#000"/>
<rect x="1151" y="320" width="1" height="2" fill="#000"/>
<rect x="1151" y="182" width="1" height="2" fill="#000"/>
<rect x="1172" y="318" width="1" height="4" fill="#000"/>
<rect x="1172" y="182" width="1" height="4" fill="#000"/>
<rect x="1194" y="320" width="1" height="2" fill="#000"/>
<rect x="1194" y="182" width="1" height="2" fill="#000"/>
<rect x="1216" y="318" width="1" height="4" fill="#000"/>
<rect x="1216" y="182" width="1" height="4" fill="#000"/>
<rect x="1237" y="320" width="1" height="2" fill="#000"/>
<rect x="1237" y="182" width="1" height="2" fill="#000"/>
<use href="#c39" x="667" y="178"/><use href="#c30" x="674" y="178"/><use href="#c30" x="681" y="178"/>
<text class="t" x="667" y="186">900</text>
<rect x="696" y="195" width="4" height="1" fill="#000"/>
<rect x="1255" y="195" width="4" height="1" fill="#000"/>
<use href="#c38" x="667" y="192"/><use href="#c30" x="674" y="192"/><use href="#c30" x="681" y="192"/>
<text class="t" x="667" y="200">800</text>
<rect x="696" y="209" width="4" height="1" fill="#000"/>
<rect x="1255" y="209" width="4" height="1" fill="#000"/>
<use href="#c37" x="667" y="206"/><use href="#c30" x="674" y="206"/><use href="#c30" x="681" y="206"/>
<text class="t" x="667" y="214">700</text>
<rect x="696" y="223" width="4" height="1" fill="#000"/>
<rect x="1255" y="223" width="4" height="1" fill="#000"/>
<use href="#c36" x="667" y="220"/><use href="#c30" x="674" y="220"/><use href="#c30" x="681" y="220"/>
<text class="t" x="667" y="228">600</text>
<rect x="696" y="237" width="4" height="1" fill="#000"/>
<rect x="1255" y="237" width="4" height="1" fill="#000"/>
<use href="#c35" x="667" y="234"/><use href="#c30" x="674" y="234"/><use href="#c30" x="681" y="234"/>
<text class="t" x="667" y="242">500</text>
<rect x="696" y="252" width="4" height="1" fill="#000"/>
<rect x="1255" y="252" width="4" height="1" fill="#000"/>
<use href="#c34" x="667" y="249"/><use href="#c30" x="674" y="249"/><use href="#c30" x="681" y="249"/>
<text class="t" x="667" y="257">400</text>
<rect x="696" y="266" width="4" height="1" fill="#000"/>
<rect x="1255" y="266" width="4" height="1" fill="#000"/>
<use href="#c33" x="667" y="263"/><use href="#c30" x="674" y="263"/><use href="#c30" x="681" y="263"/>
<text class="t" x="667" y="271">300</text>
<rect x="696" y="280" width="4" height="1" fill="#000"/>
<rect x="1255" y="280" width="4" height="1" fill="#000"/>
<use href="#c32" x="667" y="277"/><use href="#c30" x="674" y="277"/><use href="#c30" x="681" y="277"/>
<text class="t" x="667" y="285">200</text>
<rect x="696" y="294" width="4" height="1" fill="#000"/>
<rect x="1255" y="294" width="4" height="1" fill="#000"/>
<use href="#c31" x="667" y="291"/><use href="#c30" x="674" y="291"/><use href="#c30" x="681" y="291"/>
<text class="t" x="667" y="299">100</text>
<rect x="696" y="308" width="4" height="1" fill="#000"/>
<rect x="1255" y="308" width="4" height="1" fill="#000"/>
<use href="#c30" x="681" y="305"/>
<text class="t" x="681" y="313">0</text>
<use href="#c2d" x="660" y="319"/><use href="#c31" x="667" y="319"/><use href="#c30" x="674" y="319"/><use href="#c30" x="681" y="319"/>
<text class="t" x="660" y="327">-100</text>
<use href="#c53" x="1143" y="188"/><use href="#c64" x="1150" y="188"/><use href="#c28" x="1157" y="188"/><use href="#c57" x="1164" y="188"/><use href="#c2f" x="1171" y="188"/><use href="#c6d" x="1178" y="188"/><use href="#c5e" x="1185" y="188"/><use href="#c32" x="1192" y="188"/><use href="#c29" x="1199" y="188"/>
<text class="t" x="1143" y="196">Sd(W/m^2)</text>
<rect x="1213" y="191" width="33" height="1" fill="#ff0000"/>
<polyline points="737.0,308.5 737.5,308.5 738.0,308.5 738.5,308.5 739.0,308.5 739.5,308.5 740.0,308.5 740.5,308.5 741.0,308.5 741.5,308.5 742.0,308.5 742.5,308.5 743.0,308.5 743.5,308.5 744.0,308.5 744.5,308.5 745.0,308.5 745.5,308.5 746.0,308.5 746.5,308.5 747.0,308.5 747.5,308.5 748.0,308.5 748.5,308.5 749.0,308.5 749.5,308.5 750.0,308.5 750.5,308.5 751.0,308.5 751.5,308.5 752.0,308.5 752.5,308.5 753.0,308.5 753.5,307.5 754.0,308.5 754.5,308.5 755.0,308.5 755.5,308.5 756.0,308.5 756.5,308.5 757.0,308.5 757.5,308.5 758.0,308.5 758.5,308.5 759.0,308.5 759.5,308.5 760.0,308.5 760.5,308.5 761.0,308.5 761.5,308.5 762.0,308.5 762.5,308.5 763.0,308.5 763.5,308.5 764.0,308.5 764.5,308.5 765.0,308.5 765.5,308.5 766.0,308.5 766.5,308.5 767.0,308.5 767.5,308.5 768.0,308.5 768.5,308.5 769.0,308.5 769.5,308.5 770.0,308.5 770.5,308.5 771.0,308.5 771.5,308.5 772.0,308.5 772.5,308.5 773.0,308.5 773.5,308.5 774.0,308.5 774.5,308.5 775.0,308.5 775.5,308.5 776.0,308.5 776.5,308.5 777.0,308.5 777.5,308.5 778.0,308.5 778.5,308.5 779.0,308.5 779.5,308.5 780.0,308.5 780.5,308.5 781.0,308.5 781.5,308.5 782.0,308.5 782.5,308.5 783.0,308.5 783.5,308.5 784.0,308.5 784.5,308.5 785.0,308.5 785.5,308.5 786.0,308.5 786.5,308.5 787.0,308.5 787.5,308.5 788.0,308.5 788.5,308.5 789.0,308.5 789.5,308.5 790.0,308.5 790.5,308.5 791.0,308.5 791.5,308.5 792.0,308.5 792.5,308.5 793.0,308.5 793.5,308.5 794.0,308.5 794.5,308.5 795.0,308.5 795.5,308.5 796.0,308.5 796.5,308.5 797.0,308.5 797.5,308.5 798.0,308.5 798.5,308.5 799.0,308.5 799.5,308.5 800.0,308.5 800.5,308.5 801.0,308.5 801.5,308.5 802.0,308.5 802.5,308.5 803.0,308.5 803.5,308.5 804.0,308.5 804.5,308.5 805.0,308.5 805.5,308.5 806.0,308.5 806.5,308.5 807.0,308.5 807.5,308.5 808.0,308.5 808.5,308.5 809.0,308.5 809.5,308.5 810.0,308.5 810.5,308.5 811.0,308.5 811.5,308.5 812.0,308.5 812.5,308.5 813.0,308.5 813.5,308.5 814.0,308.5 814.5,308.5 815.0,308.5 815.5,308.5 816.0,308.5 816.5,308.5 817.0,308.5 817.5,308.5 818.0,308.5 818.5,308.5 819.0,308.5 819.5,308.5 820.0,308.5 820.5,308.5 821.0,308.5 821.5,308.5 822.0,308.5 822.5,308.5 823.0,308.5 823.5,308.5 824.0,308.5 824.5,308.5 825.0,308.5 825.5,308.5 826.0,308.5 826.5,308.5 827.0,308.5 827.5,308.5 828.0,308.5 828.5,308.5 829.0,308.5 829.5,308.5 830.0,308.5 830.5,308.5 831.0,308.5 831.5,308.5 832.0,308.5 832.5,308.5 833.0,308.5 833.5,308.5 834.0,308.5 834.5,308.5 835.0,308.5 835.5,308.5 836.0,308.5 836.5,308.5 837.0,308.5 837.5,308.5 838.0,308.5 838.5,308.5 839.0,308.5 839.5,308.5 840.0,308.5 840.5,308.5 841.0,308.5 841.5,308.5 842.0,308.5 842.5,308.5 843.0,308.5 843.5,308.5 844.0,308.5 844.5,308.5 845.0,308.5 845.5,308.5 846.0,308.5 846.5,308.5 847.0,308.5 847.5,308.5 848.0,308.5 848.5,308.5 849.0,308.5 849.5,308.5 850.0,308.5 850.5,308.5 851.0,308.5 851.5,308.5 852.0,308.5 852.5,308.5 853.0,308.5 853.5,308.5 854.0,308.5 854.5,308.5 855.0,308.5 855.5,308.5 856.0,308.5 856.5,308.5 857.0,308.5 857.5,308.5 858.0,308.5 858.5,308.5 859.0,308.5 859.5,308.5 860.0,308.5 860.5,307.5 861.0,307.5 861.5,307.5 862.0,307.5 862.5,306.5 863.0,306.5 863.5,306.5 864.0,306.5 864.5,306.5 865.0,305.5 865.5,305.5 866.0,305.5 866.5,305.5 867.0,305.5 867.5,304.5 868.0,304.5 868.5,303.5 869.0,303.5 869.5,303.5 870.0,302.5 870.5,301.5 871.0,301.5 871.5,301.5 872.0,300.5 872.5,299.5 873.0,299.5 873.5,298.5 874.0,298.5 874.5,297.5 875.0,297.5 875.5,296.5 876.0,295.5 876.5,295.5 877.0,295.5 877.5,294.5 878.0,293.5 878.5,292.5 879.0,292.5 879.5,292.5 880.0,291.5 880.5,290.5 881.0,289.5 881.5,289.5 882.0,288.5 882.5,288.5 883.0,287.5 883.5,286.5 884.0,286.5 884.5,285.5 885.0,285.5 885.5,284.5 886.0,284.5 886.5,283.5 887.0,282.5 887.5,281.5 888.0,280.5 888.5,280.5 889.0,279.5 889.5,278.5 890.0,276.5 890.5,275.5 891.0,274.5 891.5,273.5 892.0,271.5 892.5,270.5 893.0,269.5 893.5,268.5 894.0,267.5 894.5,266.5 895.0,267.5 895.5,265.5 896.0,266.5 896.5,265.5 897.0,265.5 897.5,264.5 898.0,264.5 898.5,263.5 899.0,263.5 899.5,262.5 900.0,260.5 900.5,259.5 901.0,259.5 901.5,257.5 902.0,256.5 902.5,255.5 903.0,254.5 903.5,253.5 904.0,253.5 904.5,251.5 905.0,251.5 905.5,250.5 906.0,248.5 906.5,246.5 907.0,245.5 907.5,245.5 908.0,243.5 908.5,244.5 909.0,243.5 909.5,242.5 910.0,242.5 910.5,240.5 911.0,240.5 911.5,240.5 912.0,240.5 912.5,239.5 913.0,239.5 913.5,238.5 914.0,237.5 914.5,237.5 915.0,238.5 915.5,238.5 916.0,239.5 916.5,238.5 917.0,237.5 917.5,237.5 918.0,236.5 918.5,235.5 919.0,233.5 919.5,234.5 920.0,236.5 920.5,236.5 921.0,236.5 921.5,237.5 922.0,236.5 922.5,237.5 923.0,235.5 923.5,233.5 924.0,233.5 924.5,232.5 925.0,231.5 925.5,230.5 926.0,229.5 926.5,228.5 927.0,227.5 927.5,226.5 928.0,227.5 928.5,226.5 929.0,226.5 929.5,228.5 930.0,226.5 930.5,226.5 931.0,226.5 931.5,225.5 932.0,225.5 932.5,223.5 933.0,223.5 933.5,223.5 934.0,222.5 934.5,221.5 935.0,221.5 935.5,220.5 936.0,221.5 936.5,219.5 937.0,219.5 937.5,218.5 938.0,219.5 938.5,217.5 939.0,217.5 939.5,217.5 940.0,216.5 940.5,217.5 941.0,217.5 941.5,215.5 942.0,216.5 942.5,215.5 943.0,215.5 943.5,214.5 944.0,214.5 944.5,213.5 945.0,214.5 945.5,213.5 946.0,212.5 946.5,212.5 947.0,211.5 947.5,212.5 948.0,211.5 948.5,210.5 949.0,211.5 949.5,210.5 950.0,210.5 950.5,209.5 951.0,208.5 951.5,208.5 952.0,209.5 952.5,208.5 953.0,207.5 953.5,206.5 954.0,206.5 954.5,207.5 955.0,206.5 955.5,205.5 956.0,204.5 956.5,203.5 957.0,203.5 957.5,204.5 958.0,203.5 958.5,202.5 959.0,201.5 959.5,202.5 960.0,200.5 960.5,201.5 961.0,201.5 961.5,200.5 962.0,200.5 962.5,198.5 963.0,198.5 963.5,198.5 964.0,198.5 964.5,198.5 965.0,199.5 965.5,198.5 966.0,197.5 966.5,197.5 967.0,197.5 967.5,197.5 968.0,197.5 968.5,197.5 969.0,197.5 969.5,197.5 970.0,196.5 970.5,197.5 971.0,196.5 971.5,196.5 972.0,196.5 972.5,197.5 973.0,196.5 973.5,196.5 974.0,196.5 974.5,195.5 975.0,195.5 975.5,195.5 976.0,195.5 976.5,196.5 977.0,195.5 977.5,195.5 978.0,195.5 978.5,196.5 979.0,194.5 979.5,195.5 980.0,195.5 980.5,194.5 981.0,194.5 981.5,195.5 982.0,193.5 982.5,194.5 983.0,194.5 983.5,193.5 984.0,193.5 984.5,193.5 985.0,192.5 985.5,193.5 986.0,192.5 986.5,192.5 987.0,192.5 987.5,191.5 988.0,191.5 988.5,192.5 989.0,192.5 989.5,191.5 990.0,191.5 990.5,192.5 991.0,192.5 991.5,191.5 992.0,192.5 992.5,191.5 993.0,191.5 993.5,191.5 994.0,191.5 994.5,192.5 995.0,192.5 995.5,192.5 996.0,193.5 996.5,192.5 997.0,193.5 997.5,192.5 998.0,192.5 998.5,193.5 999.0,192.5 999.5,191.5 1000.0,192.5 1000.5,191.5 1001.0,191.5 1001.5,192.5 1002.0,192.5 1002.5,193.5 1003.0,192.5 1003.5,192.5 1004.0,192.5 1004.5,193.5 1005.0,193.5 1005.5,193.5 1006.0,192.5 1006.5,192.5 1007.0,192.5 1007.5,192.5 1008.0,191.5 1008.5,192.5 1009.0,191.5 1009.5,191.5 1010.0,193.5 1010.5,194.5 1011.0,195.5 1011.5,195.5 1012.0,194.5 1012.5,194.5 1013.0,194.5 1013.5,194.5 1014.0,195.5 1014.5,194.5 1015.0,194.5 1015.5,195.5 1016.0,196.5 1016.5,196.5 1017.0,196.5 1017.5,198.5 1018.0,198.5 1018.5,199.5 1019.0,200.5 1019.5,201.5 1020.0,202.5 1020.5,203.5 1021.0,203.5 1021.5,202.5 1022.0,203.5 1022.5,203.5 1023.0,203.5 1023.5,203.5 1024.0,203.5 1024.5,203.5 1025.0,203.5 1025.5,204.5 1026.0,206.5 1026.5,207.5 1027.0,208.5 1027.5,209.5 1028.0,208.5 1028.5,207.5 1029.0,208.5 1029.5,208.5 1030.0,207.5 1030.5,207.5 1031.0,208.5 1031.5,210.5 1032.0,211.5 1032.5,212.5 1033.0,212.5 1033.5,213.5 1034.0,214.5 1034.5,213.5 1035.0,212.5 1035.5,213.5 1036.0,213.5 1036.5,214.5 1037.0,214.5 1037.5,215.5 1038.0,216.5 1038.5,216.5 1039.0,217.5 1039.5,216.5 1040.0,216.5 1040.5,216.5 1041.0,217.5 1041.5,218.5 1042.0,220.5 1042.5,220.5 1043.0,220.5 1043.5,220.5 1044.0,221.5 1044.5,221.5 1045.0,221.5 1045.5,221.5 1046.0,222.5 1046.5,222.5 1047.0,223.5 1047.5,223.5 1048.0,224.5 1048.5,226.5 1049.0,225.5 1049.5,226.5 1050.0,228.5 1050.5,228.5 1051.0,228.5 1051.5,228.5 1052.0,229.5 1052.5,229.5 1053.0,230.5 1053.5,230.5 1054.0,230.5 1054.5,231.5 1055.0,231.5 1055.5,232.5 1056.0,232.5 1056.5,233.5 1057.0,234.5 1057.5,234.5 1058.0,235.5 1058.5,236.5 1059.0,236.5 1059.5,237.5 1060.0,238.5 1060.5,239.5 1061.0,239.5 1061.5,240.5 1062.0,240.5 1062.5,241.5 1063.0,241.5 1063.5,241.5 1064.0,243.5 1064.5,243.5 1065.0,244.5 1065.5,244.5 1066.0,245.5 1066.5,246.5 1067.0,246.5 1067.5,247.5 1068.0,247.5 1068.5,249.5 1069.0,249.5 1069.5,250.5 1070.0,250.5 1070.5,250.5 1071.0,251.5 1071.5,250.5 1072.0,251.5 1072.5,253.5 1073.0,255.5 1073.5,256.5 1074.0,255.5 1074.5,254.5 1075.0,253.5 1075.5,253.5 1076.0,252.5 1076.5,252.5 1077.0,255.5 1077.5,256.5 1078.0,258.5 1078.5,259.5 1079.0,259.5 1079.5,260.5 1080.0,260.5 1080.5,261.5 1081.0,261.5 1081.5,262.5 1082.0,263.5 1082.5,263.5 1083.0,263.5 1083.5,263.5 1084.0,264.5 1084.5,265.5 1085.0,265.5 1085.5,266.5 1086.0,266.5 1086.5,267.5 1087.0,267.5 1087.5,268.5 1088.0,269.5 1088.5,270.5 1089.0,270.5 1089.5,271.5 1090.0,272.5 1090.5,273.5 1091.0,274.5 1091.5,274.5 1092.0,275.5 1092.5,277.5 1093.0,277.5 1093.5,277.5 1094.0,279.5 1094.5,279.5 1095.0,280.5 1095.5,280.5 1096.0,281.5 1096.5,282.5 1097.0,282.5 1097.5,283.5 1098.0,283.5 1098.5,284.5 1099.0,284.5 1099.5,284.5 1100.0,285.5 1100.5,286.5 1101.0,286.5 1101.5,286.5 1102.0,287.5 1102.5,288.5 1103.0,288.5 1103.5,289.5 1104.0,289.5 1104.5,290.5 1105.0,290.5 1105.5,291.5 1106.0,293.5 1106.5,293.5 1107.0,293.5 1107.5,294.5 1108.0,295.5 1108.5,295.5 1109.0,295.5 1109.5,296.5 1110.0,297.5 1110.5,297.5 1111.0,297.5 1111.5,298.5 1112.0,298.5 1112.5,299.5 1113.0,300.5 1113.5,301.5 1114.0,302.5 1114.5,303.5 1115.0,303.5 1115.5,303.5 1116.0,303.5 1116.5,303.5 1117.0,303.5 1117.5,304.5 1118.0,304.5 1118.5,304.5 1119.0,304.5 1119.5,304.5 1120.0,305.5 1120.5,305.5 1121.0,305.5 1121.5,305.5 1122.0,305.5 1122.5,305.5 1123.0,306.5 1123.5,306.5 1124.0,306.5 1124.5,306.5 1125.0,307.5 1125.5,307.5 1126.0,307.5 1126.5,307.5 1127.0,307.5 1127.5,307.5 1128.0,308.5 1128.5,308.5 1129.0,308.5 1129.5,308.5 1130.0,308.5 1130.5,308.5 1131.0,308.5 1131.5,308.5 1132.0,308.5 1132.5,308.5 1133.0,308.5 1133.5,308.5 1134.0,308.5 1134.5,308.5 1135.0,308.5 1135.5,308.5 1136.0,308.5 1136.5,308.5 1137.0,308.5 1137.5,308.5 1138.0,308.5 1138.5,308.5 1139.0,308.5 1139.5,308.5 1140.0,308.5 1140.5,308.5 1141.0,308.5 1141.5,308.5 1142.0,308.5 1142.5,308.5 1143.0,308.5 1143.5,308.5 1144.0,308.5 1144.5,308.5 1145.0,308.5 1145.5,308.5 1146.0,308.5 1146.5,308.5 1147.0,308.5 1147.5,308.5 1148.0,308.5 1148.5,308.5 1149.0,308.5 1149.5,308.5 1150.0,308.5 1150.5,308.5 1151.0,308.5 1151.5,308.5 1152.0,308.5 1152.5,308.5 1153.0,308.5 1153.5,308.5 1154.0,308.5 1154.5,308.5 1155.0,308.5 1155.5,308.5 1156.0,308.5 1156.5,308.5 1157.0,308.5 1157.5,308.5 1158.0,308.5 1158.5,308.5 1159.0,308.5 1159.5,308.5 1160.0,308.5 1160.5,308.5 1161.0,308.5 1161.5,308.5 1162.0,308.5 1162.5,308.5 1163.0,308.5 1163.5,308.5 1164.0,308.5 1164.5,308.5 1165.0,308.5 1165.5,308.5 1166.0,308.5 1166.5,308.5 1167.0,308.5 1167.5,308.5 1168.0,308.5 1168.5,308.5 1169.0,308.5 1169.5,308.5 1170.0,308.5 1170.5,308.5 1171.0,308.5 1171.5,308.5 1172.0,308.5 1172.5,308.5 1173.0,308.5 1173.5,308.5 1174.0,308.5 1174.5,308.5 1175.0,308.5 1175.5,308.5 1176.0,308.5 1176.5,308.5 1177.0,308.5 1177.5,308.5 1178.0,308.5 1178.5,308.5 1179.0,308.5 1179.5,308.5 1180.0,308.5 1180.5,308.5 1181.0,308.5 1181.5,308.5 1182.0,308.5 1182.5,308.5 1183.0,308.5 1183.5,308.5 1184.0,308.5 1184.5,308.5 1185.0,308.5 1185.5,308.5 1186.0,308.5 1186.5,308.5 1187.0,308.5 1187.5,308.5 1188.0,308.5 1188.5,308.5 1189.0,308.5 1189.5,308.5 1190.0,308.5 1190.5,308.5 1191.0,308.5 1191.5,308.5 1192.0,308.5 1192.5,308.5 1193.0,308.5 1193.5,308.5 1194.0,308.5 1194.5,308.5 1195.0,308.5 1195.5,308.5 1196.0,308.5 1196.5,308.5 1197.0,308.5 1197.5,308.5 1198.0,308.5 1198.5,308.5 1199.0,308.5 1199.5,308.5 1200.0,308.5 1200.5,308.5 1201.0,308.5 1201.5,308.5 1202.0,308.5 1202.5,308.5 1203.0,308.5 1203.5,308.5 1204.0,308.5 1204.5,308.5 1205.0,308.5 1205.5,308.5 1206.0,308.5 1206.5,308.5 1207.0,308.5 1207.5,308.5 1208.0,308.5 1208.5,308.5 1209.0,308.5 1209.5,308.5 1210.0,308.5 1210.5,308.5 1211.0,308.5 1211.5,308.5 1212.0,308.5 1212.5,308.5 1213.0,308.5 1213.5,308.5 1214.0,308.5 1214.5,307.5 1215.0,308.5 1215.5,308.5 1216.0,308.5 1216.5,308.5 1217.0,308.5 1217.5,308.5 1218.0,308.5 1218.5,308.5 1219.0,308.5 1219.5,308.5 1220.0,308.5 1220.5,308.5 1221.0,308.5 1221.5,308.5 1222.0,308.5 1222.5,308.5 1223.0,308.5 1223.5,308.5 1224.0,308.5 1224.5,308.5 1225.0,308.5 1225.5,308.5 1226.0,308.5 1226.5,308.5 1227.0,308.5 1227.5,308.5 1228.0,308.5 1228.5,308.5 1229.0,308.5 1229.5,308.5 1230.0,308.5 1230.5,308.5 1231.0,308.5 1231.5,308.5 1232.0,308.5 1232.5,308.5 1233.0,308.5 1233.5,308.5 1234.0,308.5 1234.5,308.5 1235.0,308.5 1235.5,308.5 1236.0,308.5 1236.5,308.5 1237.0,308.5 1237.5,308.5 1238.0,308.5 1238.5,308.5 1239.0,308.5 1239.5,308.5 1240.0,308.5 1240.5,308.5 1241.0,308.5 1241.5,308.5 1242.0,308.5 1242.5,308.5 1243.0,308.5 1243.5,308.5 1244.0,308.5 1244.5,308.5 1245.0,308.5 1245.5,308.5 1246.0,308.5 1246.5,308.5 1247.0,308.5 1247.5,308.5 1248.0,308.5 1248.5,308.5 1249.0,308.5 1249.5,308.5 1250.0,308.5 1250.5,308.5 1251.0,308.5 1251.5,308.5 1252.0,308.5 1252.5,308.5 1253.0,308.5 1253.5,308.5 1254.0,308.5 1254.5,308.5 1255.0,308.5 1255.5,308.5 1256.0,308.5 1256.5,308.5 1257.0,308.5 1257.5,308.5 1258.0,308.5" fill="none" stroke="#ff0000" stroke-width="1.2" shape-rendering="crispEdges"/>
<rect x="894" y="266" width="1" height="13" fill="#ff0000"/>
<rect x="895" y="266" width="1" height="10" fill="#ff0000"/>
<rect x="898" y="264" width="1" height="10" fill="#ff0000"/>
<rect x="900" y="259" width="2" height="22" fill="#ff0000"/>
<rect x="903" y="255" width="1" height="12" fill="#ff0000"/>
<rect x="904" y="251" width="1" height="19" fill="#ff0000"/>
<rect x="906" y="246" width="1" height="26" fill="#ff0000"/>
<rect x="907" y="244" width="1" height="43" fill="#ff0000"/>
<rect x="900" y="259" width="2" height="21" fill="#ff0000"/>
<rect x="904" y="252" width="1" height="21" fill="#ff0000"/>
<rect x="907" y="244" width="1" height="24" fill="#ff0000"/>
<rect x="910" y="241" width="1" height="23" fill="#ff0000"/>
<rect x="910" y="240" width="1" height="24" fill="#ff0000"/>
<rect x="911" y="239" width="1" height="25" fill="#ff0000"/>
<rect x="911" y="239" width="1" height="25" fill="#ff0000"/>
<rect x="912" y="238" width="1" height="26" fill="#ff0000"/>
<rect x="913" y="238" width="1" height="26" fill="#ff0000"/>
<rect x="913" y="238" width="1" height="27" fill="#ff0000"/>
<rect x="915" y="238" width="1" height="7" fill="#ff0000"/>
<rect x="919" y="235" width="2" height="31" fill="#ff0000"/>
<rect x="926" y="229" width="1" height="12" fill="#ff0000"/>
<rect x="929" y="227" width="1" height="11" fill="#ff0000"/>
<rect x="962" y="199" width="1" height="56" fill="#ff0000"/>
<rect x="1041" y="218" width="1" height="8" fill="#ff0000"/>
<rect x="1060" y="239" width="1" height="10" fill="#ff0000"/>
<rect x="1062" y="241" width="1" height="8" fill="#ff0000"/>
<rect x="1073" y="256" width="1" height="11" fill="#ff0000"/>
<rect x="1074" y="254" width="1" height="15" fill="#ff0000"/>
<rect x="1075" y="253" width="1" height="13" fill="#ff0000"/>
<use href="#c52" x="1143" y="201"/><use href="#c6e" x="1150" y="201"/><use href="#c28" x="1157" y="201"/><use href="#c57" x="1164" y="201"/><use href="#c2f" x="1171" y="201"/><use href="#c6d" x="1178" y="201"/><use href="#c5e" x="1185" y="201"/><use href="#c32" x="1192" y="201"/><use href="#c29" x="1199" y="201"/>
<text class="t" x="1143" y="209">Rn(W/m^2)</text>
<rect x="1213" y="204" width="33" height="1" fill="#00c000"/>
<polyline points="737.0,315.5 737.5,315.5 738.0,315.5 738.5,315.5 739.0,315.5 739.5,315.5 740.0,315.5 740.5,315.5 741.0,315.5 741.5,315.5 742.0,315.5 742.5,315.5 743.0,315.5 743.5,315.5 744.0,315.5 744.5,315.5 745.0,315.5 745.5,315.5 746.0,315.5 746.5,315.5 747.0,315.5 747.5,315.5 748.0,315.5 748.5,315.5 749.0,315.5 749.5,315.5 750.0,315.5 750.5,315.5 751.0,315.5 751.5,315.5 752.0,315.5 752.5,315.5 753.0,315.5 753.5,315.5 754.0,315.5 754.5,315.5 755.0,315.5 755.5,315.5 756.0,315.5 756.5,315.5 757.0,314.5 757.5,315.5 758.0,315.5 758.5,315.5 759.0,315.5 759.5,315.5 760.0,315.5 760.5,315.5 761.0,315.5 761.5,315.5 762.0,315.5 762.5,315.5 763.0,315.5 763.5,315.5 764.0,315.5 764.5,315.5 765.0,315.5 765.5,315.5 766.0,315.5 766.5,315.5 767.0,315.5 767.5,314.5 768.0,315.5 768.5,315.5 769.0,315.5 769.5,315.5 770.0,315.5 770.5,315.5 771.0,315.5 771.5,315.5 772.0,315.5 772.5,315.5 773.0,315.5 773.5,315.5 774.0,315.5 774.5,315.5 775.0,315.5 775.5,315.5 776.0,315.5 776.5,315.5 777.0,315.5 777.5,315.5 778.0,316.5 778.5,316.5 779.0,316.5 779.5,316.5 780.0,316.5 780.5,316.5 781.0,316.5 781.5,316.5 782.0,316.5 782.5,316.5 783.0,316.5 783.5,316.5 784.0,316.5 784.5,316.5 785.0,316.5 785.5,316.5 786.0,316.5 786.5,316.5 787.0,316.5 787.5,316.5 788.0,316.5 788.5,316.5 789.0,316.5 789.5,316.5 790.0,316.5 790.5,316.5 791.0,316.5 791.5,316.5 792.0,316.5 792.5,316.5 793.0,316.5 793.5,316.5 794.0,316.5 794.5,316.5 795.0,316.5 795.5,316.5 796.0,316.5 796.5,316.5 797.0,315.5 797.5,316.5 798.0,316.5 798.5,315.5 799.0,316.5 799.5,316.5 800.0,316.5 800.5,316.5 801.0,316.5 801.5,316.5 802.0,316.5 802.5,316.5 803.0,316.5 803.5,316.5 804.0,316.5 804.5,316.5 805.0,316.5 805.5,316.5 806.0,316.5 806.5,316.5 807.0,316.5 807.5,316.5 808.0,316.5 808.5,316.5 809.0,316.5 809.5,316.5 810.0,316.5 810.5,316.5 811.0,316.5 811.5,316.5 812.0,316.5 812.5,316.5 813.0,316.5 813.5,316.5 814.0,316.5 814.5,316.5 815.0,316.5 815.5,316.5 816.0,316.5 816.5,316.5 817.0,316.5 817.5,316.5 818.0,316.5 818.5,316.5 819.0,316.5 819.5,316.5 820.0,316.5 820.5,316.5 821.0,316.5 821.5,316.5 822.0,316.5 822.5,316.5 823.0,316.5 823.5,316.5 824.0,316.5 824.5,316.5 825.0,316.5 825.5,315.5 826.0,316.5 826.5,316.5 827.0,316.5 827.5,316.5 828.0,316.5 828.5,316.5 829.0,316.5 829.5,316.5 830.0,316.5 830.5,316.5 831.0,316.5 831.5,316.5 832.0,316.5 832.5,316.5 833.0,316.5 833.5,316.5 834.0,316.5 834.5,316.5 835.0,316.5 835.5,316.5 836.0,313.5 836.5,313.5 837.0,316.5 837.5,317.5 838.0,317.5 838.5,317.5 839.0,317.5 839.5,317.5 840.0,317.5 840.5,317.5 841.0,317.5 841.5,317.5 842.0,317.5 842.5,316.5 843.0,316.5 843.5,316.5 844.0,316.5 844.5,316.5 845.0,316.5 845.5,316.5 846.0,316.5 846.5,315.5 847.0,316.5 847.5,316.5 848.0,316.5 848.5,316.5 849.0,316.5 849.5,316.5 850.0,316.5 850.5,316.5 851.0,316.5 851.5,316.5 852.0,316.5 852.5,316.5 853.0,316.5 853.5,316.5 854.0,316.5 854.5,316.5 855.0,316.5 855.5,316.5 856.0,316.5 856.5,316.5 857.0,316.5 857.5,316.5 858.0,316.5 858.5,316.5 859.0,316.5 859.5,316.5 860.0,316.5 860.5,315.5 861.0,315.5 861.5,315.5 862.0,314.5 862.5,314.5 863.0,314.5 863.5,314.5 864.0,314.5 864.5,313.5 865.0,313.5 865.5,313.5 866.0,313.5 866.5,313.5 867.0,312.5 867.5,313.5 868.0,312.5 868.5,312.5 869.0,312.5 869.5,312.5 870.0,311.5 870.5,311.5 871.0,311.5 871.5,311.5 872.0,311.5 872.5,310.5 873.0,310.5 873.5,310.5 874.0,310.5 874.5,309.5 875.0,309.5 875.5,309.5 876.0,309.5 876.5,308.5 877.0,308.5 877.5,307.5 878.0,307.5 878.5,306.5 879.0,306.5 879.5,305.5 880.0,305.5 880.5,304.5 881.0,303.5 881.5,303.5 882.0,303.5 882.5,302.5 883.0,302.5 883.5,301.5 884.0,301.5 884.5,300.5 885.0,299.5 885.5,299.5 886.0,299.5 886.5,298.5 887.0,297.5 887.5,297.5 888.0,296.5 888.5,296.5 889.0,296.5 889.5,295.5 890.0,293.5 890.5,292.5 891.0,291.5 891.5,289.5 892.0,288.5 892.5,287.5 893.0,287.5 893.5,286.5 894.0,285.5 894.5,286.5 895.0,287.5 895.5,287.5 896.0,287.5 896.5,287.5 897.0,286.5 897.5,287.5 898.0,285.5 898.5,285.5 899.0,284.5 899.5,283.5 900.0,280.5 900.5,280.5 901.0,279.5 901.5,279.5 902.0,278.5 902.5,278.5 903.0,278.5 903.5,276.5 904.0,276.5 904.5,274.5 905.0,272.5 905.5,272.5 906.0,270.5 906.5,269.5 907.0,269.5 907.5,267.5 908.0,267.5 908.5,266.5 909.0,265.5 909.5,266.5 910.0,265.5 910.5,265.5 911.0,265.5 911.5,265.5 912.0,265.5 912.5,265.5 913.0,264.5 913.5,264.5 914.0,265.5 914.5,265.5 915.0,266.5 915.5,267.5 916.0,268.5 916.5,267.5 917.0,267.5 917.5,267.5 918.0,266.5 918.5,265.5 919.0,265.5 919.5,267.5 920.0,267.5 920.5,267.5 921.0,268.5 921.5,269.5 922.0,269.5 922.5,268.5 923.0,268.5 923.5,267.5 924.0,266.5 924.5,264.5 925.0,264.5 925.5,263.5 926.0,262.5 926.5,261.5 927.0,261.5 927.5,261.5 928.0,261.5 928.5,263.5 929.0,263.5 929.5,264.5 930.0,264.5 930.5,264.5 931.0,264.5 931.5,262.5 932.0,261.5 932.5,261.5 933.0,260.5 933.5,260.5 934.0,259.5 934.5,258.5 935.0,259.5 935.5,258.5 936.0,257.5 936.5,258.5 937.0,257.5 937.5,258.5 938.0,257.5 938.5,257.5 939.0,256.5 939.5,256.5 940.0,256.5 940.5,255.5 941.0,257.5 941.5,256.5 942.0,255.5 942.5,255.5 943.0,256.5 943.5,255.5 944.0,255.5 944.5,254.5 945.0,254.5 945.5,253.5 946.0,254.5 946.5,253.5 947.0,253.5 947.5,252.5 948.0,252.5 948.5,251.5 949.0,252.5 949.5,252.5 950.0,252.5 950.5,251.5 951.0,251.5 951.5,251.5 952.0,251.5 952.5,250.5 953.0,250.5 953.5,250.5 954.0,250.5 954.5,249.5 955.0,249.5 955.5,249.5 956.0,249.5 956.5,248.5 957.0,247.5 957.5,248.5 958.0,247.5 958.5,247.5 959.0,247.5 959.5,247.5 960.0,247.5 960.5,246.5 961.0,245.5 961.5,245.5 962.0,246.5 962.5,245.5 963.0,245.5 963.5,244.5 964.0,245.5 964.5,246.5 965.0,245.5 965.5,244.5 966.0,245.5 966.5,244.5 967.0,244.5 967.5,244.5 968.0,244.5 968.5,244.5 969.0,244.5 969.5,243.5 970.0,243.5 970.5,243.5 971.0,244.5 971.5,244.5 972.0,243.5 972.5,243.5 973.0,243.5 973.5,243.5 974.0,243.5 974.5,243.5 975.0,243.5 975.5,243.5 976.0,242.5 976.5,242.5 977.0,243.5 977.5,243.5 978.0,243.5 978.5,243.5 979.0,243.5 979.5,242.5 980.0,243.5 980.5,243.5 981.0,242.5 981.5,243.5 982.0,242.5 982.5,242.5 983.0,243.5 983.5,241.5 984.0,241.5 984.5,242.5 985.0,241.5 985.5,241.5 986.0,241.5 986.5,241.5 987.0,241.5 987.5,241.5 988.0,242.5 988.5,241.5 989.0,242.5 989.5,242.5 990.0,242.5 990.5,241.5 991.0,242.5 991.5,241.5 992.0,242.5 992.5,243.5 993.0,242.5 993.5,242.5 994.0,242.5 994.5,243.5 995.0,241.5 995.5,242.5 996.0,242.5 996.5,241.5 997.0,241.5 997.5,241.5 998.0,241.5 998.5,242.5 999.0,242.5 999.5,242.5 1000.0,241.5 1000.5,241.5 1001.0,241.5 1001.5,242.5 1002.0,242.5 1002.5,242.5 1003.0,242.5 1003.5,243.5 1004.0,242.5 1004.5,243.5 1005.0,243.5 1005.5,243.5 1006.0,242.5 1006.5,241.5 1007.0,242.5 1007.5,242.5 1008.0,242.5 1008.5,242.5 1009.0,241.5 1009.5,242.5 1010.0,242.5 1010.5,242.5 1011.0,242.5 1011.5,242.5 1012.0,243.5 1012.5,243.5 1013.0,243.5 1013.5,244.5 1014.0,243.5 1014.5,244.5 1015.0,243.5 1015.5,245.5 1016.0,245.5 1016.5,246.5 1017.0,246.5 1017.5,247.5 1018.0,247.5 1018.5,248.5 1019.0,249.5 1019.5,249.5 1020.0,250.5 1020.5,249.5 1021.0,250.5 1021.5,249.5 1022.0,248.5 1022.5,248.5 1023.0,248.5 1023.5,249.5 1024.0,248.5 1024.5,248.5 1025.0,247.5 1025.5,248.5 1026.0,251.5 1026.5,252.5 1027.0,253.5 1027.5,254.5 1028.0,253.5 1028.5,253.5 1029.0,252.5 1029.5,252.5 1030.0,252.5 1030.5,252.5 1031.0,254.5 1031.5,253.5 1032.0,255.5 1032.5,256.5 1033.0,255.5 1033.5,256.5 1034.0,256.5 1034.5,257.5 1035.0,257.5 1035.5,256.5 1036.0,255.5 1036.5,256.5 1037.0,257.5 1037.5,257.5 1038.0,258.5 1038.5,258.5 1039.0,257.5 1039.5,258.5 1040.0,258.5 1040.5,257.5 1041.0,257.5 1041.5,258.5 1042.0,259.5 1042.5,259.5 1043.0,259.5 1043.5,259.5 1044.0,260.5 1044.5,260.5 1045.0,261.5 1045.5,260.5 1046.0,260.5 1046.5,261.5 1047.0,262.5 1047.5,262.5 1048.0,263.5 1048.5,263.5 1049.0,264.5 1049.5,264.5 1050.0,264.5 1050.5,265.5 1051.0,266.5 1051.5,265.5 1052.0,266.5 1052.5,266.5 1053.0,266.5 1053.5,267.5 1054.0,268.5 1054.5,268.5 1055.0,268.5 1055.5,268.5 1056.0,269.5 1056.5,269.5 1057.0,269.5 1057.5,269.5 1058.0,269.5 1058.5,269.5 1059.0,270.5 1059.5,271.5 1060.0,272.5 1060.5,273.5 1061.0,273.5 1061.5,273.5 1062.0,274.5 1062.5,274.5 1063.0,274.5 1063.5,275.5 1064.0,275.5 1064.5,275.5 1065.0,275.5 1065.5,275.5 1066.0,276.5 1066.5,276.5 1067.0,277.5 1067.5,276.5 1068.0,278.5 1068.5,277.5 1069.0,279.5 1069.5,278.5 1070.0,279.5 1070.5,278.5 1071.0,279.5 1071.5,279.5 1072.0,280.5 1072.5,282.5 1073.0,283.5 1073.5,284.5 1074.0,284.5 1074.5,283.5 1075.0,282.5 1075.5,283.5 1076.0,281.5 1076.5,282.5 1077.0,283.5 1077.5,283.5 1078.0,285.5 1078.5,285.5 1079.0,285.5 1079.5,285.5 1080.0,287.5 1080.5,286.5 1081.0,287.5 1081.5,287.5 1082.0,289.5 1082.5,288.5 1083.0,289.5 1083.5,289.5 1084.0,290.5 1084.5,290.5 1085.0,291.5 1085.5,291.5 1086.0,291.5 1086.5,293.5 1087.0,293.5 1087.5,293.5 1088.0,295.5 1088.5,295.5 1089.0,296.5 1089.5,296.5 1090.0,297.5 1090.5,297.5 1091.0,297.5 1091.5,298.5 1092.0,299.5 1092.5,299.5 1093.0,300.5 1093.5,300.5 1094.0,301.5 1094.5,300.5 1095.0,302.5 1095.5,302.5 1096.0,303.5 1096.5,302.5 1097.0,304.5 1097.5,303.5 1098.0,303.5 1098.5,303.5 1099.0,304.5 1099.5,304.5 1100.0,305.5 1100.5,305.5 1101.0,306.5 1101.5,306.5 1102.0,306.5 1102.5,306.5 1103.0,307.5 1103.5,307.5 1104.0,307.5 1104.5,308.5 1105.0,307.5 1105.5,308.5 1106.0,309.5 1106.5,309.5 1107.0,310.5 1107.5,310.5 1108.0,310.5 1108.5,310.5 1109.0,311.5 1109.5,311.5 1110.0,312.5 1110.5,312.5 1111.0,313.5 1111.5,313.5 1112.0,313.5 1112.5,313.5 1113.0,313.5 1113.5,314.5 1114.0,314.5 1114.5,314.5 1115.0,314.5 1115.5,314.5 1116.0,315.5 1116.5,315.5 1117.0,315.5 1117.5,315.5 1118.0,315.5 1118.5,315.5 1119.0,315.5 1119.5,315.5 1120.0,315.5 1120.5,315.5 1121.0,315.5 1121.5,315.5 1122.0,315.5 1122.5,315.5 1123.0,315.5 1123.5,315.5 1124.0,315.5 1124.5,315.5 1125.0,315.5 1125.5,315.5 1126.0,315.5 1126.5,315.5 1127.0,315.5 1127.5,315.5 1128.0,315.5 1128.5,315.5 1129.0,315.5 1129.5,315.5 1130.0,315.5 1130.5,315.5 1131.0,315.5 1131.5,315.5 1132.0,315.5 1132.5,315.5 1133.0,315.5 1133.5,315.5 1134.0,315.5 1134.5,315.5 1135.0,315.5 1135.5,315.5 1136.0,315.5 1136.5,315.5 1137.0,315.5 1137.5,315.5 1138.0,315.5 1138.5,315.5 1139.0,315.5 1139.5,315.5 1140.0,315.5 1140.5,315.5 1141.0,315.5 1141.5,315.5 1142.0,315.5 1142.5,315.5 1143.0,315.5 1143.5,315.5 1144.0,315.5 1144.5,315.5 1145.0,315.5 1145.5,315.5 1146.0,315.5 1146.5,315.5 1147.0,315.5 1147.5,315.5 1148.0,315.5 1148.5,315.5 1149.0,315.5 1149.5,316.5 1150.0,316.5 1150.5,317.5 1151.0,318.5 1151.5,318.5 1152.0,318.5 1152.5,318.5 1153.0,318.5 1153.5,318.5 1154.0,318.5 1154.5,318.5 1155.0,318.5 1155.5,318.5 1156.0,318.5 1156.5,318.5 1157.0,318.5 1157.5,318.5 1158.0,318.5 1158.5,318.5 1159.0,318.5 1159.5,318.5 1160.0,318.5 1160.5,318.5 1161.0,317.5 1161.5,318.5 1162.0,318.5 1162.5,318.5 1163.0,318.5 1163.5,318.5 1164.0,318.5 1164.5,318.5 1165.0,318.5 1165.5,318.5 1166.0,318.5 1166.5,318.5 1167.0,318.5 1167.5,318.5 1168.0,317.5 1168.5,318.5 1169.0,318.5 1169.5,318.5 1170.0,318.5 1170.5,318.5 1171.0,318.5 1171.5,318.5 1172.0,317.5 1172.5,318.5 1173.0,318.5 1173.5,317.5 1174.0,318.5 1174.5,317.5 1175.0,318.5 1175.5,318.5 1176.0,318.5 1176.5,318.5 1177.0,318.5 1177.5,318.5 1178.0,317.5 1178.5,317.5 1179.0,316.5 1179.5,317.5 1180.0,317.5 1180.5,317.5 1181.0,317.5 1181.5,317.5 1182.0,318.5 1182.5,317.5 1183.0,318.5 1183.5,318.5 1184.0,318.5 1184.5,318.5 1185.0,318.5 1185.5,318.5 1186.0,318.5 1186.5,318.5 1187.0,318.5 1187.5,318.5 1188.0,318.5 1188.5,318.5 1189.0,318.5 1189.5,318.5 1190.0,318.5 1190.5,318.5 1191.0,317.5 1191.5,318.5 1192.0,318.5 1192.5,318.5 1193.0,318.5 1193.5,317.5 1194.0,318.5 1194.5,318.5 1195.0,318.5 1195.5,317.5 1196.0,318.5 1196.5,318.5 1197.0,318.5 1197.5,318.5 1198.0,318.5 1198.5,318.5 1199.0,318.5 1199.5,317.5 1200.0,318.5 1200.5,318.5 1201.0,318.5 1201.5,318.5 1202.0,318.5 1202.5,318.5 1203.0,318.5 1203.5,318.5 1204.0,318.5 1204.5,318.5 1205.0,318.5 1205.5,318.5 1206.0,318.5 1206.5,318.5 1207.0,318.5 1207.5,318.5 1208.0,318.5 1208.5,318.5 1209.0,318.5 1209.5,318.5 1210.0,318.5 1210.5,318.5 1211.0,317.5 1211.5,318.5 1212.0,318.5 1212.5,318.5 1213.0,317.5 1213.5,318.5 1214.0,318.5 1214.5,318.5 1215.0,318.5 1215.5,318.5 1216.0,317.5 1216.5,318.5 1217.0,318.5 1217.5,318.5 1218.0,318.5 1218.5,318.5 1219.0,318.5 1219.5,318.5 1220.0,317.5 1220.5,318.5 1221.0,318.5 1221.5,318.5 1222.0,318.5 1222.5,318.5 1223.0,318.5 1223.5,318.5 1224.0,318.5 1224.5,317.5 1225.0,318.5 1225.5,318.5 1226.0,318.5 1226.5,317.5 1227.0,318.5 1227.5,318.5 1228.0,317.5 1228.5,318.5 1229.0,318.5 1229.5,318.5 1230.0,318.5 1230.5,318.5 1231.0,318.5 1231.5,318.5 1232.0,318.5 1232.5,318.5 1233.0,318.5 1233.5,318.5 1234.0,318.5 1234.5,318.5 1235.0,318.5 1235.5,318.5 1236.0,317.5 1236.5,317.5 1237.0,316.5 1237.5,317.5 1238.0,317.5 1238.5,317.5 1239.0,317.5 1239.5,317.5 1240.0,317.5 1240.5,316.5 1241.0,317.5 1241.5,317.5 1242.0,317.5 1242.5,317.5 1243.0,317.5 1243.5,317.5 1244.0,317.5 1244.5,317.5 1245.0,317.5 1245.5,317.5 1246.0,317.5 1246.5,317.5 1247.0,317.5 1247.5,317.5 1248.0,317.5 1248.5,317.5 1249.0,317.5 1249.5,317.5 1250.0,317.5 1250.5,317.5 1251.0,316.5 1251.5,317.5 1252.0,315.5 1252.5,316.5 1253.0,315.5 1253.5,316.5 1254.0,315.5 1254.5,316.5 1255.0,316.5 1255.5,316.5 1256.0,315.5 1256.5,316.5 1257.0,316.5 1257.5,316.5 1258.0,316.5" fill="none" stroke="#00c000" stroke-width="1.2" shape-rendering="crispEdges"/>
<rect x="895" y="287" width="1" height="6" fill="#00c000"/>
<rect x="900" y="279" width="2" height="21" fill="#00c000"/>
<rect x="904" y="275" width="1" height="25" fill="#00c000"/>
<rect x="907" y="268" width="1" height="18" fill="#00c000"/>
<rect x="900" y="279" width="2" height="21" fill="#00c000"/>
<rect x="904" y="274" width="1" height="25" fill="#00c000"/>
<rect x="907" y="268" width="1" height="19" fill="#00c000"/>
<rect x="909" y="265" width="1" height="21" fill="#00c000"/>
<rect x="910" y="265" width="1" height="21" fill="#00c000"/>
<rect x="910" y="265" width="1" height="21" fill="#00c000"/>
<rect x="911" y="265" width="1" height="22" fill="#00c000"/>
<rect x="912" y="265" width="1" height="31" fill="#00c000"/>
<rect x="912" y="265" width="1" height="21" fill="#00c000"/>
<rect x="913" y="265" width="1" height="21" fill="#00c000"/>
<rect x="920" y="267" width="1" height="28" fill="#00c000"/>
<rect x="1041" y="258" width="1" height="7" fill="#00c000"/>
<rect x="1060" y="273" width="1" height="5" fill="#00c000"/>
<rect x="1062" y="274" width="1" height="7" fill="#00c000"/>
<rect x="1074" y="284" width="1" height="4" fill="#00c000"/>
<rect x="709" y="337" width="551" height="1" fill="#000"/>
<rect x="709" y="478" width="551" height="1" fill="#000"/>
<rect x="709" y="337" width="1" height="142" fill="#000"/>
<rect x="1259" y="337" width="1" height="142" fill="#000"/>
<rect x="730" y="476" width="1" height="2" fill="#000"/>
<rect x="730" y="338" width="1" height="2" fill="#000"/>
<rect x="751" y="474" width="1" height="4" fill="#000"/>
<rect x="751" y="338" width="1" height="4" fill="#000"/>
<rect x="772" y="476" width="1" height="2" fill="#000"/>
<rect x="772" y="338" width="1" height="2" fill="#000"/>
<rect x="794" y="474" width="1" height="4" fill="#000"/>
<rect x="794" y="338" width="1" height="4" fill="#000"/>
<rect x="815" y="476" width="1" height="2" fill="#000"/>
<rect x="815" y="338" width="1" height="2" fill="#000"/>
<rect x="836" y="474" width="1" height="4" fill="#000"/>
<rect x="836" y="338" width="1" height="4" fill="#000"/>
<rect x="857" y="476" width="1" height="2" fill="#000"/>
<rect x="857" y="338" width="1" height="2" fill="#000"/>
<rect x="878" y="474" width="1" height="4" fill="#000"/>
<rect x="878" y="338" width="1" height="4" fill="#000"/>
<rect x="899" y="476" width="1" height="2" fill="#000"/>
<rect x="899" y="338" width="1" height="2" fill="#000"/>
<rect x="921" y="474" width="1" height="4" fill="#000"/>
<rect x="921" y="338" width="1" height="4" fill="#000"/>
<rect x="942" y="476" width="1" height="2" fill="#000"/>
<rect x="942" y="338" width="1" height="2" fill="#000"/>
<rect x="963" y="474" width="1" height="4" fill="#000"/>
<rect x="963" y="338" width="1" height="4" fill="#000"/>
<rect x="984" y="476" width="1" height="2" fill="#000"/>
<rect x="984" y="338" width="1" height="2" fill="#000"/>
<rect x="1005" y="474" width="1" height="4" fill="#000"/>
<rect x="1005" y="338" width="1" height="4" fill="#000"/>
<rect x="1026" y="476" width="1" height="2" fill="#000"/>
<rect x="1026" y="338" width="1" height="2" fill="#000"/>
<rect x="1047" y="474" width="1" height="4" fill="#000"/>
<rect x="1047" y="338" width="1" height="4" fill="#000"/>
<rect x="1069" y="476" width="1" height="2" fill="#000"/>
<rect x="1069" y="338" width="1" height="2" fill="#000"/>
<rect x="1090" y="474" width="1" height="4" fill="#000"/>
<rect x="1090" y="338" width="1" height="4" fill="#000"/>
<rect x="1111" y="476" width="1" height="2" fill="#000"/>
<rect x="1111" y="338" width="1" height="2" fill="#000"/>
<rect x="1132" y="474" width="1" height="4" fill="#000"/>
<rect x="1132" y="338" width="1" height="4" fill="#000"/>
<rect x="1153" y="476" width="1" height="2" fill="#000"/>
<rect x="1153" y="338" width="1" height="2" fill="#000"/>
<rect x="1174" y="474" width="1" height="4" fill="#000"/>
<rect x="1174" y="338" width="1" height="4" fill="#000"/>
<rect x="1196" y="476" width="1" height="2" fill="#000"/>
<rect x="1196" y="338" width="1" height="2" fill="#000"/>
<rect x="1217" y="474" width="1" height="4" fill="#000"/>
<rect x="1217" y="338" width="1" height="4" fill="#000"/>
<rect x="1238" y="476" width="1" height="2" fill="#000"/>
<rect x="1238" y="338" width="1" height="2" fill="#000"/>
<use href="#c32" x="667" y="334"/><use href="#c30" x="674" y="334"/><use href="#c30" x="681" y="334"/><use href="#c30" x="688" y="334"/><use href="#c30" x="695" y="334"/>
<text class="t" x="667" y="342">20000</text>
<rect x="710" y="360" width="4" height="1" fill="#000"/>
<rect x="1255" y="360" width="4" height="1" fill="#000"/>
<use href="#c30" x="695" y="357"/>
<text class="t" x="695" y="365">0</text>
<rect x="710" y="384" width="4" height="1" fill="#000"/>
<rect x="1255" y="384" width="4" height="1" fill="#000"/>
<use href="#c2d" x="660" y="381"/><use href="#c32" x="667" y="381"/><use href="#c30" x="674" y="381"/><use href="#c30" x="681" y="381"/><use href="#c30" x="688" y="381"/><use href="#c30" x="695" y="381"/>
<text class="t" x="660" y="389">-20000</text>
<rect x="710" y="407" width="4" height="1" fill="#000"/>
<rect x="1255" y="407" width="4" height="1" fill="#000"/>
<use href="#c2d" x="660" y="404"/><use href="#c34" x="667" y="404"/><use href="#c30" x="674" y="404"/><use href="#c30" x="681" y="404"/><use href="#c30" x="688" y="404"/><use href="#c30" x="695" y="404"/>
<text class="t" x="660" y="412">-40000</text>
<rect x="710" y="431" width="4" height="1" fill="#000"/>
<rect x="1255" y="431" width="4" height="1" fill="#000"/>
<use href="#c2d" x="660" y="428"/><use href="#c36" x="667" y="428"/><use href="#c30" x="674" y="428"/><use href="#c30" x="681" y="428"/><use href="#c30" x="688" y="428"/><use href="#c30" x="695" y="428"/>
<text class="t" x="660" y="436">-60000</text>
<rect x="710" y="454" width="4" height="1" fill="#000"/>
<rect x="1255" y="454" width="4" height="1" fill="#000"/>
<use href="#c2d" x="660" y="451"/><use href="#c38" x="667" y="451"/><use href="#c30" x="674" y="451"/><use href="#c30" x="681" y="451"/><use href="#c30" x="688" y="451"/><use href="#c30" x="695" y="451"/>
<text class="t" x="660" y="459">-80000</text>
<use href="#c2d" x="653" y="475"/><use href="#c31" x="660" y="475"/><use href="#c30" x="667" y="475"/><use href="#c30" x="674" y="475"/><use href="#c30" x="681" y="475"/><use href="#c30" x="688" y="475"/><use href="#c30" x="695" y="475"/>
<text class="t" x="653" y="483">-100000</text>
<use href="#c47" x="1143" y="344"/><use href="#c31" x="1150" y="344"/><use href="#c28" x="1157" y="344"/><use href="#c57" x="1164" y="344"/><use href="#c2f" x="1171" y="344"/><use href="#c6d" x="1178" y="344"/><use href="#c5e" x="1185" y="344"/><use href="#c32" x="1192" y="344"/><use href="#c29" x="1199" y="344"/>
<text class="t" x="1143" y="352">G1(W/m^2)</text>
<rect x="1213" y="347" width="33" height="1" fill="#ff0000"/>
<rect x="750" y="361" width="159" height="1" fill="#ff0000"/>
<rect x="908" y="360" width="198" height="1" fill="#ff0000"/>
<rect x="1105" y="361" width="154" height="1" fill="#ff0000"/>
<use href="#c47" x="1143" y="357"/><use href="#c32" x="1150" y="357"/><use href="#c28" x="1157" y="357"/><use href="#c57" x="1164" y="357"/><use href="#c2f" x="1171" y="357"/><use href="#c6d" x="1178" y="357"/><use href="#c5e" x="1185" y="357"/><use href="#c32" x="1192" y="357"/><use href="#c29" x="1199" y="357"/>
<text class="t" x="1143" y="365">G2(W/m^2)</text>
<rect x="1213" y="360" width="33" height="1" fill="#00c000"/>
<rect x="695" y="493" width="565" height="1" fill="#000"/>
<rect x="695" y="634" width="565" height="1" fill="#000"/>
<rect x="695" y="493" width="1" height="142" fill="#000"/>
<rect x="1259" y="493" width="1" height="142" fill="#000"/>
<rect x="717" y="632" width="1" height="2" fill="#000"/>
<rect x="717" y="494" width="1" height="2" fill="#000"/>
<rect x="738" y="630" width="1" height="4" fill="#000"/>
<rect x="738" y="494" width="1" height="4" fill="#000"/>
<rect x="760" y="632" width="1" height="2" fill="#000"/>
<rect x="760" y="494" width="1" height="2" fill="#000"/>
<rect x="782" y="630" width="1" height="4" fill="#000"/>
<rect x="782" y="494" width="1" height="4" fill="#000"/>
<rect x="803" y="632" width="1" height="2" fill="#000"/>
<rect x="803" y="494" width="1" height="2" fill="#000"/>
<rect x="825" y="630" width="1" height="4" fill="#000"/>
<rect x="825" y="494" width="1" height="4" fill="#000"/>
<rect x="847" y="632" width="1" height="2" fill="#000"/>
<rect x="847" y="494" width="1" height="2" fill="#000"/>
<rect x="869" y="630" width="1" height="4" fill="#000"/>
<rect x="869" y="494" width="1" height="4" fill="#000"/>
<rect x="890" y="632" width="1" height="2" fill="#000"/>
<rect x="890" y="494" width="1" height="2" fill="#000"/>
<rect x="912" y="630" width="1" height="4" fill="#000"/>
<rect x="912" y="494" width="1" height="4" fill="#000"/>
<rect x="934" y="632" width="1" height="2" fill="#000"/>
<rect x="934" y="494" width="1" height="2" fill="#000"/>
<rect x="955" y="630" width="1" height="4" fill="#000"/>
<rect x="955" y="494" width="1" height="4" fill="#000"/>
<rect x="977" y="632" width="1" height="2" fill="#000"/>
<rect x="977" y="494" width="1" height="2" fill="#000"/>
<rect x="999" y="630" width="1" height="4" fill="#000"/>
<rect x="999" y="494" width="1" height="4" fill="#000"/>
<rect x="1020" y="632" width="1" height="2" fill="#000"/>
<rect x="1020" y="494" width="1" height="2" fill="#000"/>
<rect x="1042" y="630" width="1" height="4" fill="#000"/>
<rect x="1042" y="494" width="1" height="4" fill="#000"/>
<rect x="1064" y="632" width="1" height="2" fill="#000"/>
<rect x="1064" y="494" width="1" height="2" fill="#000"/>
<rect x="1085" y="630" width="1" height="4" fill="#000"/>
<rect x="1085" y="494" width="1" height="4" fill="#000"/>
<rect x="1107" y="632" width="1" height="2" fill="#000"/>
<rect x="1107" y="494" width="1" height="2" fill="#000"/>
<rect x="1129" y="630" width="1" height="4" fill="#000"/>
<rect x="1129" y="494" width="1" height="4" fill="#000"/>
<rect x="1151" y="632" width="1" height="2" fill="#000"/>
<rect x="1151" y="494" width="1" height="2" fill="#000"/>
<rect x="1172" y="630" width="1" height="4" fill="#000"/>
<rect x="1172" y="494" width="1" height="4" fill="#000"/>
<rect x="1194" y="632" width="1" height="2" fill="#000"/>
<rect x="1194" y="494" width="1" height="2" fill="#000"/>
<rect x="1216" y="630" width="1" height="4" fill="#000"/>
<rect x="1216" y="494" width="1" height="4" fill="#000"/>
<rect x="1237" y="632" width="1" height="2" fill="#000"/>
<rect x="1237" y="494" width="1" height="2" fill="#000"/>
<use href="#c32" x="674" y="490"/><use href="#c30" x="681" y="490"/>
<text class="t" x="674" y="498">20</text>
<rect x="696" y="513" width="4" height="1" fill="#000"/>
<rect x="1255" y="513" width="4" height="1" fill="#000"/>
<use href="#c31" x="674" y="510"/><use href="#c38" x="681" y="510"/>
<text class="t" x="674" y="518">18</text>
<rect x="696" y="533" width="4" height="1" fill="#000"/>
<rect x="1255" y="533" width="4" height="1" fill="#000"/>
<use href="#c31" x="674" y="530"/><use href="#c36" x="681" y="530"/>
<text class="t" x="674" y="538">16</text>
<rect x="696" y="553" width="4" height="1" fill="#000"/>
<rect x="1255" y="553" width="4" height="1" fill="#000"/>
<use href="#c31" x="674" y="550"/><use href="#c34" x="681" y="550"/>
<text class="t" x="674" y="558">14</text>
<rect x="696" y="574" width="4" height="1" fill="#000"/>
<rect x="1255" y="574" width="4" height="1" fill="#000"/>
<use href="#c31" x="674" y="571"/><use href="#c32" x="681" y="571"/>
<text class="t" x="674" y="579">12</text>
<rect x="696" y="594" width="4" height="1" fill="#000"/>
<rect x="1255" y="594" width="4" height="1" fill="#000"/>
<use href="#c31" x="674" y="591"/><use href="#c30" x="681" y="591"/>
<text class="t" x="674" y="599">10</text>
<rect x="696" y="614" width="4" height="1" fill="#000"/>
<rect x="1255" y="614" width="4" height="1" fill="#000"/>
<use href="#c38" x="681" y="611"/>
<text class="t" x="681" y="619">8</text>
<use href="#c36" x="681" y="631"/>
<text class="t" x="681" y="639">6</text>
<use href="#c54" x="1129" y="500"/><use href="#c73" x="1136" y="500"/><use href="#c6f" x="1143" y="500"/><use href="#c69" x="1150" y="500"/><use href="#c6c" x="1157" y="500"/><use href="#c28" x="1164" y="500"/><use href="#c64" x="1171" y="500"/><use href="#c65" x="1178" y="500"/><use href="#c67" x="1185" y="500"/><use href="#c29" x="1192" y="500"/>
<text class="t" x="1129" y="508">Tsoil(deg) </text>
<rect x="1213" y="503" width="33" height="1" fill="#ff0000"/>
<polyline points="738.0,592.5 738.5,593.5 739.0,593.5 739.5,593.5 740.0,593.5 740.5,593.5 741.0,594.5 741.5,594.5 742.0,594.5 742.5,594.5 743.0,595.5 743.5,595.5 744.0,595.5 744.5,595.5 745.0,596.5 745.5,596.5 746.0,596.5 746.5,596.5 747.0,596.5 747.5,597.5 748.0,597.5 748.5,597.5 749.0,597.5 749.5,597.5 750.0,597.5 750.5,598.5 751.0,598.5 751.5,598.5 752.0,598.5 752.5,598.5 753.0,599.5 753.5,599.5 754.0,599.5 754.5,599.5 755.0,600.5 755.5,600.5 756.0,600.5 756.5,600.5 757.0,600.5 757.5,600.5 758.0,601.5 758.5,601.5 759.0,601.5 759.5,601.5 760.0,602.5 760.5,602.5 761.0,602.5 761.5,602.5 762.0,602.5 762.5,603.5 763.0,603.5 763.5,603.5 764.0,603.5 764.5,603.5 765.0,603.5 765.5,604.5 766.0,604.5 766.5,604.5 767.0,604.5 767.5,604.5 768.0,605.5 768.5,605.5 769.0,605.5 769.5,605.5 770.0,605.5 770.5,606.5 771.0,606.5 771.5,606.5 772.0,606.5 772.5,607.5 773.0,607.5 773.5,607.5 774.0,607.5 774.5,607.5 775.0,608.5 775.5,608.5 776.0,608.5 776.5,608.5 777.0,608.5 777.5,608.5 778.0,609.5 778.5,609.5 779.0,609.5 779.5,609.5 780.0,609.5 780.5,609.5 781.0,610.5 781.5,610.5 782.0,610.5 782.5,610.5 783.0,610.5 783.5,610.5 784.0,611.5 784.5,611.5 785.0,611.5 785.5,611.5 786.0,612.5 786.5,612.5 787.0,612.5 787.5,612.5 788.0,612.5 788.5,612.5 789.0,612.5 789.5,613.5 790.0,613.5 790.5,613.5 791.0,613.5 791.5,613.5 792.0,614.5 792.5,614.5 793.0,614.5 793.5,614.5 794.0,614.5 794.5,614.5 795.0,614.5 795.5,615.5 796.0,615.5 796.5,615.5 797.0,615.5 797.5,615.5 798.0,615.5 798.5,616.5 799.0,616.5 799.5,616.5 800.0,616.5 800.5,616.5 801.0,616.5 801.5,617.5 802.0,617.5 802.5,617.5 803.0,617.5 803.5,617.5 804.0,617.5 804.5,617.5 805.0,618.5 805.5,618.5 806.0,618.5 806.5,618.5 807.0,618.5 807.5,618.5 808.0,619.5 808.5,619.5 809.0,619.5 809.5,619.5 810.0,619.5 810.5,619.5 811.0,619.5 811.5,619.5 812.0,619.5 812.5,620.5 813.0,620.5 813.5,620.5 814.0,620.5 814.5,620.5 815.0,620.5 815.5,620.5 816.0,620.5 816.5,621.5 817.0,621.5 817.5,621.5 818.0,621.5 818.5,621.5 819.0,621.5 819.5,621.5 820.0,621.5 820.5,622.5 821.0,622.5 821.5,622.5 822.0,622.5 822.5,622.5 823.0,623.5 823.5,623.5 824.0,623.5 824.5,623.5 825.0,623.5 825.5,623.5 826.0,623.5 826.5,623.5 827.0,623.5 827.5,624.5 828.0,624.5 828.5,624.5 829.0,624.5 829.5,624.5 830.0,624.5 830.5,625.5 831.0,625.5 831.5,625.5 832.0,625.5 832.5,625.5 833.0,625.5 833.5,625.5 834.0,625.5 834.5,625.5 835.0,625.5 835.5,626.5 836.0,626.5 836.5,626.5 837.0,626.5 837.5,626.5 838.0,626.5 838.5,627.5 839.0,626.5 839.5,627.5 840.0,627.5 840.5,627.5 841.0,627.5 841.5,627.5 842.0,627.5 842.5,627.5 843.0,628.5 843.5,627.5 844.0,628.5 844.5,628.5 845.0,628.5 845.5,628.5 846.0,628.5 846.5,628.5 847.0,628.5 847.5,628.5 848.0,629.5 848.5,629.5 849.0,629.5 849.5,629.5 850.0,629.5 850.5,629.5 851.0,629.5 851.5,629.5 852.0,630.5 852.5,630.5 853.0,630.5 853.5,630.5 854.0,630.5 854.5,630.5 855.0,630.5 855.5,630.5 856.0,630.5 856.5,630.5 857.0,630.5 857.5,631.5 858.0,631.5 858.5,631.5 859.0,631.5 859.5,631.5 860.0,631.5 860.5,631.5 861.0,631.5 861.5,631.5 862.0,631.5 862.5,632.5 863.0,631.5 863.5,632.5 864.0,632.5 864.5,632.5 865.0,632.5 865.5,632.5 866.0,632.5 866.5,632.5 867.0,632.5 867.5,633.5 868.0,632.5 868.5,633.5 869.0,633.5 869.5,633.5 870.0,632.5 870.5,633.5 871.0,633.5 871.5,633.5 872.0,633.5 872.5,632.5 873.0,632.5 873.5,633.5 874.0,633.5 874.5,632.5 875.0,633.5 875.5,632.5 876.0,633.5 876.5,633.5 877.0,633.5 877.5,633.5 878.0,633.5 878.5,633.5 879.0,633.5 879.5,633.5 880.0,633.5 880.5,632.5 881.0,633.5 881.5,633.5 882.0,633.5 882.5,633.5 883.0,632.5 883.5,632.5 884.0,632.5 884.5,632.5 885.0,633.5 885.5,632.5 886.0,633.5 886.5,633.5 887.0,632.5 887.5,632.5 888.0,632.5 888.5,632.5 889.0,632.5 889.5,632.5 890.0,632.5 890.5,632.5 891.0,632.5 891.5,632.5 892.0,632.5 892.5,632.5 893.0,631.5 893.5,631.5 894.0,631.5 894.5,630.5 895.0,630.5 895.5,630.5 896.0,630.5 896.5,629.5 897.0,629.5 897.5,629.5 898.0,629.5 898.5,628.5 899.0,628.5 899.5,627.5 900.0,627.5 900.5,626.5 901.0,626.5 901.5,625.5 902.0,625.5 902.5,624.5 903.0,623.5 903.5,623.5 904.0,622.5 904.5,621.5 905.0,621.5 905.5,620.5 906.0,619.5 906.5,619.5 907.0,618.5 907.5,617.5 908.0,617.5 908.5,616.5 909.0,615.5 909.5,614.5 910.0,614.5 910.5,613.5 911.0,612.5 911.5,611.5 912.0,611.5 912.5,610.5 913.0,609.5 913.5,608.5 914.0,607.5 914.5,606.5 915.0,606.5 915.5,604.5 916.0,604.5 916.5,603.5 917.0,602.5 917.5,601.5 918.0,600.5 918.5,599.5 919.0,598.5 919.5,598.5 920.0,597.5 920.5,596.5 921.0,595.5 921.5,595.5 922.0,594.5 922.5,593.5 923.0,592.5 923.5,592.5 924.0,591.5 924.5,590.5 925.0,590.5 925.5,589.5 926.0,588.5 926.5,587.5 927.0,586.5 927.5,586.5 928.0,585.5 928.5,584.5 929.0,583.5 929.5,583.5 930.0,582.5 930.5,581.5 931.0,581.5 931.5,580.5 932.0,579.5 932.5,579.5 933.0,578.5 933.5,577.5 934.0,577.5 934.5,576.5 935.0,575.5 935.5,575.5 936.0,574.5 936.5,573.5 937.0,573.5 937.5,572.5 938.0,572.5 938.5,571.5 939.0,571.5 939.5,570.5 940.0,569.5 940.5,569.5 941.0,568.5 941.5,567.5 942.0,567.5 942.5,566.5 943.0,565.5 943.5,565.5 944.0,564.5 944.5,563.5 945.0,563.5 945.5,562.5 946.0,562.5 946.5,561.5 947.0,560.5 947.5,560.5 948.0,559.5 948.5,558.5 949.0,558.5 949.5,557.5 950.0,557.5 950.5,556.5 951.0,556.5 951.5,555.5 952.0,554.5 952.5,554.5 953.0,553.5 953.5,553.5 954.0,552.5 954.5,552.5 955.0,551.5 955.5,551.5 956.0,550.5 956.5,549.5 957.0,549.5 957.5,548.5 958.0,548.5 958.5,547.5 959.0,546.5 959.5,546.5 960.0,545.5 960.5,545.5 961.0,544.5 961.5,543.5 962.0,542.5 962.5,542.5 963.0,541.5 963.5,541.5 964.0,540.5 964.5,539.5 965.0,539.5 965.5,539.5 966.0,538.5 966.5,537.5 967.0,537.5 967.5,536.5 968.0,536.5 968.5,535.5 969.0,535.5 969.5,534.5 970.0,534.5 970.5,533.5 971.0,533.5 971.5,532.5 972.0,532.5 972.5,531.5 973.0,530.5 973.5,530.5 974.0,530.5 974.5,529.5 975.0,529.5 975.5,528.5 976.0,528.5 976.5,527.5 977.0,527.5 977.5,527.5 978.0,526.5 978.5,525.5 979.0,525.5 979.5,524.5 980.0,524.5 980.5,524.5 981.0,523.5 981.5,523.5 982.0,522.5 982.5,522.5 983.0,521.5 983.5,521.5 984.0,521.5 984.5,520.5 985.0,520.5 985.5,519.5 986.0,519.5 986.5,519.5 987.0,518.5 987.5,518.5 988.0,517.5 988.5,517.5 989.0,517.5 989.5,517.5 990.0,516.5 990.5,516.5 991.0,515.5 991.5,515.5 992.0,515.5 992.5,515.5 993.0,514.5 993.5,514.5 994.0,514.5 994.5,513.5 995.0,513.5 995.5,513.5 996.0,513.5 996.5,512.5 997.0,512.5 997.5,512.5 998.0,512.5 998.5,511.5 999.0,511.5 999.5,511.5 1000.0,511.5 1000.5,510.5 1001.0,510.5 1001.5,510.5 1002.0,510.5 1002.5,510.5 1003.0,510.5 1003.5,509.5 1004.0,509.5 1004.5,509.5 1005.0,509.5 1005.5,509.5 1006.0,508.5 1006.5,508.5 1007.0,508.5 1007.5,508.5 1008.0,508.5 1008.5,508.5 1009.0,507.5 1009.5,507.5 1010.0,507.5 1010.5,507.5 1011.0,507.5 1011.5,507.5 1012.0,507.5 1012.5,506.5 1013.0,506.5 1013.5,506.5 1014.0,506.5 1014.5,506.5 1015.0,506.5 1015.5,506.5 1016.0,506.5 1016.5,505.5 1017.0,505.5 1017.5,505.5 1018.0,505.5 1018.5,505.5 1019.0,505.5 1019.5,505.5 1020.0,505.5 1020.5,504.5 1021.0,505.5 1021.5,505.5 1022.0,505.5 1022.5,505.5 1023.0,504.5 1023.5,504.5 1024.0,504.5 1024.5,505.5 1025.0,504.5 1025.5,504.5 1026.0,505.5 1026.5,504.5 1027.0,504.5 1027.5,504.5 1028.0,504.5 1028.5,504.5 1029.0,504.5 1029.5,504.5 1030.0,504.5 1030.5,504.5 1031.0,504.5 1031.5,504.5 1032.0,504.5 1032.5,504.5 1033.0,504.5 1033.5,504.5 1034.0,504.5 1034.5,504.5 1035.0,504.5 1035.5,504.5 1036.0,504.5 1036.5,504.5 1037.0,505.5 1037.5,504.5 1038.0,505.5 1038.5,504.5 1039.0,505.5 1039.5,504.5 1040.0,504.5 1040.5,505.5 1041.0,505.5 1041.5,505.5 1042.0,505.5 1042.5,505.5 1043.0,505.5 1043.5,505.5 1044.0,505.5 1044.5,505.5 1045.0,505.5 1045.5,505.5 1046.0,505.5 1046.5,506.5 1047.0,506.5 1047.5,506.5 1048.0,506.5 1048.5,506.5 1049.0,506.5 1049.5,506.5 1050.0,506.5 1050.5,507.5 1051.0,507.5 1051.5,507.5 1052.0,507.5 1052.5,507.5 1053.0,507.5 1053.5,507.5 1054.0,508.5 1054.5,508.5 1055.0,508.5 1055.5,508.5 1056.0,508.5 1056.5,508.5 1057.0,509.5 1057.5,509.5 1058.0,509.5 1058.5,509.5 1059.0,509.5 1059.5,510.5 1060.0,510.5 1060.5,510.5 1061.0,510.5 1061.5,510.5 1062.0,510.5 1062.5,510.5 1063.0,511.5 1063.5,511.5 1064.0,511.5 1064.5,511.5 1065.0,512.5 1065.5,512.5 1066.0,512.5 1066.5,513.5 1067.0,513.5 1067.5,513.5 1068.0,513.5 1068.5,514.5 1069.0,514.5 1069.5,514.5 1070.0,514.5 1070.5,515.5 1071.0,515.5 1071.5,515.5 1072.0,515.5 1072.5,516.5 1073.0,516.5 1073.5,516.5 1074.0,517.5 1074.5,517.5 1075.0,517.5 1075.5,517.5 1076.0,517.5 1076.5,518.5 1077.0,518.5 1077.5,518.5 1078.0,518.5 1078.5,519.5 1079.0,519.5 1079.5,519.5 1080.0,519.5 1080.5,519.5 1081.0,519.5 1081.5,519.5 1082.0,520.5 1082.5,520.5 1083.0,520.5 1083.5,521.5 1084.0,521.5 1084.5,522.5 1085.0,522.5 1085.5,522.5 1086.0,522.5 1086.5,523.5 1087.0,523.5 1087.5,524.5 1088.0,524.5 1088.5,524.5 1089.0,524.5 1089.5,525.5 1090.0,525.5 1090.5,525.5 1091.0,526.5 1091.5,526.5 1092.0,527.5 1092.5,527.5 1093.0,528.5 1093.5,528.5 1094.0,528.5 1094.5,528.5 1095.0,529.5 1095.5,529.5 1096.0,529.5 1096.5,530.5 1097.0,530.5 1097.5,531.5 1098.0,531.5 1098.5,531.5 1099.0,532.5 1099.5,532.5 1100.0,532.5 1100.5,533.5 1101.0,533.5 1101.5,534.5 1102.0,534.5 1102.5,534.5 1103.0,535.5 1103.5,535.5 1104.0,536.5 1104.5,536.5 1105.0,536.5 1105.5,537.5 1106.0,537.5 1106.5,537.5 1107.0,538.5 1107.5,538.5 1108.0,539.5 1108.5,539.5 1109.0,539.5 1109.5,539.5 1110.0,540.5 1110.5,540.5 1111.0,540.5 1111.5,541.5 1112.0,541.5 1112.5,542.5 1113.0,542.5 1113.5,542.5 1114.0,543.5 1114.5,543.5 1115.0,543.5 1115.5,544.5 1116.0,544.5 1116.5,544.5 1117.0,545.5 1117.5,545.5 1118.0,545.5 1118.5,546.5 1119.0,546.5 1119.5,546.5 1120.0,547.5 1120.5,547.5 1121.0,547.5 1121.5,548.5 1122.0,548.5 1122.5,548.5 1123.0,549.5 1123.5,549.5 1124.0,549.5 1124.5,550.5 1125.0,550.5 1125.5,550.5 1126.0,551.5 1126.5,551.5 1127.0,551.5 1127.5,552.5 1128.0,552.5 1128.5,552.5 1129.0,553.5 1129.5,553.5 1130.0,553.5 1130.5,554.5 1131.0,554.5 1131.5,554.5 1132.0,555.5 1132.5,555.5 1133.0,555.5 1133.5,555.5 1134.0,556.5 1134.5,556.5 1135.0,557.5 1135.5,557.5 1136.0,557.5 1136.5,557.5 1137.0,558.5 1137.5,559.5 1138.0,559.5 1138.5,559.5 1139.0,560.5 1139.5,560.5 1140.0,560.5 1140.5,561.5 1141.0,561.5 1141.5,561.5 1142.0,562.5 1142.5,562.5 1143.0,562.5 1143.5,563.5 1144.0,563.5 1144.5,563.5 1145.0,563.5 1145.5,564.5 1146.0,564.5 1146.5,564.5 1147.0,565.5 1147.5,565.5 1148.0,565.5 1148.5,565.5 1149.0,565.5 1149.5,566.5 1150.0,566.5 1150.5,566.5 1151.0,566.5 1151.5,567.5 1152.0,567.5 1152.5,567.5 1153.0,567.5 1153.5,568.5 1154.0,568.5 1154.5,568.5 1155.0,569.5 1155.5,569.5 1156.0,569.5 1156.5,569.5 1157.0,570.5 1157.5,570.5 1158.0,570.5 1158.5,570.5 1159.0,570.5 1159.5,571.5 1160.0,571.5 1160.5,571.5 1161.0,571.5 1161.5,571.5 1162.0,572.5 1162.5,572.5 1163.0,572.5 1163.5,572.5 1164.0,572.5 1164.5,573.5 1165.0,573.5 1165.5,573.5 1166.0,573.5 1166.5,573.5 1167.0,574.5 1167.5,574.5 1168.0,574.5 1168.5,574.5 1169.0,574.5 1169.5,575.5 1170.0,575.5 1170.5,575.5 1171.0,575.5 1171.5,575.5 1172.0,576.5 1172.5,576.5 1173.0,576.5 1173.5,576.5 1174.0,576.5 1174.5,576.5 1175.0,576.5 1175.5,576.5 1176.0,577.5 1176.5,577.5 1177.0,577.5 1177.5,577.5 1178.0,577.5 1178.5,577.5 1179.0,578.5 1179.5,578.5 1180.0,578.5 1180.5,578.5 1181.0,578.5 1181.5,579.5 1182.0,579.5 1182.5,579.5 1183.0,579.5 1183.5,579.5 1184.0,579.5 1184.5,580.5 1185.0,580.5 1185.5,580.5 1186.0,580.5 1186.5,580.5 1187.0,580.5 1187.5,580.5 1188.0,580.5 1188.5,581.5 1189.0,581.5 1189.5,581.5 1190.0,581.5 1190.5,581.5 1191.0,581.5 1191.5,582.5 1192.0,581.5 1192.5,582.5 1193.0,582.5 1193.5,582.5 1194.0,582.5 1194.5,582.5 1195.0,582.5 1195.5,582.5 1196.0,583.5 1196.5,583.5 1197.0,583.5 1197.5,583.5 1198.0,583.5 1198.5,583.5 1199.0,583.5 1199.5,583.5 1200.0,584.5 1200.5,584.5 1201.0,584.5 1201.5,584.5 1202.0,584.5 1202.5,584.5 1203.0,584.5 1203.5,584.5 1204.0,584.5 1204.5,585.5 1205.0,585.5 1205.5,585.5 1206.0,585.5 1206.5,585.5 1207.0,585.5 1207.5,585.5 1208.0,586.5 1208.5,586.5 1209.0,586.5 1209.5,586.5 1210.0,586.5 1210.5,586.5 1211.0,586.5 1211.5,586.5 1212.0,586.5 1212.5,587.5 1213.0,587.5 1213.5,587.5 1214.0,587.5 1214.5,587.5 1215.0,587.5 1215.5,587.5 1216.0,588.5 1216.5,588.5 1217.0,588.5 1217.5,588.5 1218.0,588.5 1218.5,588.5 1219.0,589.5 1219.5,588.5 1220.0,589.5 1220.5,589.5 1221.0,589.5 1221.5,589.5 1222.0,589.5 1222.5,589.5 1223.0,589.5 1223.5,589.5 1224.0,590.5 1224.5,590.5 1225.0,590.5 1225.5,590.5 1226.0,590.5 1226.5,590.5 1227.0,590.5 1227.5,590.5 1228.0,591.5 1228.5,591.5 1229.0,591.5 1229.5,591.5 1230.0,591.5 1230.5,591.5 1231.0,591.5 1231.5,591.5 1232.0,591.5 1232.5,592.5 1233.0,592.5 1233.5,592.5 1234.0,592.5 1234.5,592.5 1235.0,592.5 1235.5,592.5 1236.0,592.5 1236.5,592.5 1237.0,593.5 1237.5,593.5 1238.0,593.5 1238.5,593.5 1239.0,593.5 1239.5,593.5 1240.0,593.5 1240.5,593.5 1241.0,593.5 1241.5,593.5 1242.0,593.5 1242.5,594.5 1243.0,594.5 1243.5,594.5 1244.0,594.5 1244.5,594.5 1245.0,594.5 1245.5,594.5 1246.0,594.5 1246.5,594.5 1247.0,594.5 1247.5,595.5 1248.0,595.5 1248.5,595.5 1249.0,595.5 1249.5,595.5 1250.0,595.5 1250.5,595.5 1251.0,595.5 1251.5,595.5 1252.0,596.5 1252.5,595.5 1253.0,596.5 1253.5,596.5 1254.0,596.5 1254.5,596.5 1255.0,596.5 1255.5,596.5 1256.0,596.5 1256.5,596.5 1257.0,597.5 1257.5,597.5 1258.0,597.5" fill="none" stroke="#ff0000" stroke-width="1.5" shape-rendering="crispEdges"/>
<use href="#c54" x="1129" y="513"/><use href="#c73" x="1136" y="513"/><use href="#c6f" x="1143" y="513"/><use href="#c69" x="1150" y="513"/><use href="#c6c" x="1157" y="513"/><use href="#c28" x="1164" y="513"/><use href="#c64" x="1171" y="513"/><use href="#c65" x="1178" y="513"/><use href="#c67" x="1185" y="513"/><use href="#c29" x="1192" y="513"/>
<text class="t" x="1129" y="521">Tsoil(deg) </text>
<rect x="1213" y="516" width="33" height="1" fill="#00c000"/>
<polyline points="738.0,578.5 738.5,578.5 739.0,579.5 739.5,578.5 740.0,578.5 740.5,579.5 741.0,579.5 741.5,579.5 742.0,579.5 742.5,579.5 743.0,579.5 743.5,579.5 744.0,579.5 744.5,579.5 745.0,579.5 745.5,579.5 746.0,579.5 746.5,579.5 747.0,579.5 747.5,579.5 748.0,579.5 748.5,579.5 749.0,579.5 749.5,579.5 750.0,579.5 750.5,579.5 751.0,580.5 751.5,580.5 752.0,580.5 752.5,580.5 753.0,580.5 753.5,580.5 754.0,580.5 754.5,580.5 755.0,580.5 755.5,580.5 756.0,580.5 756.5,580.5 757.0,580.5 757.5,580.5 758.0,580.5 758.5,580.5 759.0,580.5 759.5,580.5 760.0,580.5 760.5,581.5 761.0,581.5 761.5,581.5 762.0,581.5 762.5,581.5 763.0,581.5 763.5,581.5 764.0,581.5 764.5,581.5 765.0,581.5 765.5,581.5 766.0,581.5 766.5,581.5 767.0,581.5 767.5,581.5 768.0,581.5 768.5,582.5 769.0,581.5 769.5,582.5 770.0,582.5 770.5,582.5 771.0,582.5 771.5,582.5 772.0,582.5 772.5,582.5 773.0,582.5 773.5,582.5 774.0,582.5 774.5,582.5 775.0,582.5 775.5,582.5 776.0,582.5 776.5,582.5 777.0,583.5 777.5,583.5 778.0,583.5 778.5,583.5 779.0,583.5 779.5,583.5 780.0,583.5 780.5,583.5 781.0,583.5 781.5,583.5 782.0,583.5 782.5,583.5 783.0,583.5 783.5,583.5 784.0,583.5 784.5,583.5 785.0,584.5 785.5,584.5 786.0,584.5 786.5,584.5 787.0,584.5 787.5,584.5 788.0,584.5 788.5,584.5 789.0,584.5 789.5,584.5 790.0,584.5 790.5,584.5 791.0,584.5 791.5,585.5 792.0,585.5 792.5,584.5 793.0,585.5 793.5,585.5 794.0,585.5 794.5,585.5 795.0,585.5 795.5,585.5 796.0,585.5 796.5,585.5 797.0,585.5 797.5,585.5 798.0,585.5 798.5,585.5 799.0,585.5 799.5,585.5 800.0,585.5 800.5,586.5 801.0,586.5 801.5,586.5 802.0,586.5 802.5,586.5 803.0,586.5 803.5,586.5 804.0,586.5 804.5,586.5 805.0,586.5 805.5,586.5 806.0,586.5 806.5,586.5 807.0,586.5 807.5,587.5 808.0,586.5 808.5,587.5 809.0,587.5 809.5,587.5 810.0,587.5 810.5,587.5 811.0,587.5 811.5,587.5 812.0,587.5 812.5,587.5 813.0,587.5 813.5,587.5 814.0,587.5 814.5,588.5 815.0,588.5 815.5,587.5 816.0,588.5 816.5,588.5 817.0,588.5 817.5,588.5 818.0,588.5 818.5,588.5 819.0,588.5 819.5,588.5 820.0,588.5 820.5,588.5 821.0,588.5 821.5,589.5 822.0,589.5 822.5,588.5 823.0,589.5 823.5,589.5 824.0,589.5 824.5,589.5 825.0,589.5 825.5,589.5 826.0,589.5 826.5,589.5 827.0,589.5 827.5,589.5 828.0,589.5 828.5,589.5 829.0,590.5 829.5,590.5 830.0,590.5 830.5,590.5 831.0,590.5 831.5,590.5 832.0,590.5 832.5,590.5 833.0,590.5 833.5,590.5 834.0,590.5 834.5,590.5 835.0,590.5 835.5,591.5 836.0,591.5 836.5,591.5 837.0,591.5 837.5,591.5 838.0,591.5 838.5,591.5 839.0,591.5 839.5,591.5 840.0,591.5 840.5,591.5 841.0,591.5 841.5,591.5 842.0,591.5 842.5,591.5 843.0,592.5 843.5,592.5 844.0,592.5 844.5,592.5 845.0,592.5 845.5,592.5 846.0,592.5 846.5,592.5 847.0,592.5 847.5,592.5 848.0,593.5 848.5,593.5 849.0,593.5 849.5,593.5 850.0,593.5 850.5,593.5 851.0,593.5 851.5,593.5 852.0,593.5 852.5,593.5 853.0,593.5 853.5,593.5 854.0,593.5 854.5,593.5 855.0,593.5 855.5,593.5 856.0,593.5 856.5,594.5 857.0,594.5 857.5,594.5 858.0,594.5 858.5,594.5 859.0,594.5 859.5,594.5 860.0,594.5 860.5,594.5 861.0,594.5 861.5,594.5 862.0,594.5 862.5,594.5 863.0,594.5 863.5,594.5 864.0,595.5 864.5,595.5 865.0,595.5 865.5,595.5 866.0,595.5 866.5,595.5 867.0,595.5 867.5,595.5 868.0,595.5 868.5,595.5 869.0,595.5 869.5,595.5 870.0,595.5 870.5,595.5 871.0,595.5 871.5,596.5 872.0,596.5 872.5,595.5 873.0,596.5 873.5,596.5 874.0,596.5 874.5,596.5 875.0,596.5 875.5,596.5 876.0,596.5 876.5,596.5 877.0,596.5 877.5,596.5 878.0,596.5 878.5,596.5 879.0,597.5 879.5,597.5 880.0,597.5 880.5,597.5 881.0,597.5 881.5,597.5 882.0,597.5 882.5,597.5 883.0,597.5 883.5,597.5 884.0,597.5 884.5,597.5 885.0,597.5 885.5,597.5 886.0,597.5 886.5,597.5 887.0,597.5 887.5,598.5 888.0,598.5 888.5,598.5 889.0,598.5 889.5,598.5 890.0,598.5 890.5,598.5 891.0,598.5 891.5,598.5 892.0,598.5 892.5,598.5 893.0,598.5 893.5,598.5 894.0,598.5 894.5,598.5 895.0,598.5 895.5,598.5 896.0,598.5 896.5,598.5 897.0,598.5 897.5,599.5 898.0,599.5 898.5,599.5 899.0,599.5 899.5,598.5 900.0,598.5 900.5,598.5 901.0,598.5 901.5,598.5 902.0,599.5 902.5,599.5 903.0,599.5 903.5,599.5 904.0,599.5 904.5,599.5 905.0,599.5 905.5,600.5 906.0,600.5 906.5,600.5 907.0,600.5 907.5,600.5 908.0,600.5 908.5,600.5 909.0,600.5 909.5,600.5 910.0,600.5 910.5,600.5 911.0,600.5 911.5,600.5 912.0,600.5 912.5,600.5 913.0,600.5 913.5,600.5 914.0,600.5 914.5,600.5 915.0,600.5 915.5,601.5 916.0,600.5 916.5,600.5 917.0,600.5 917.5,600.5 918.0,601.5 918.5,600.5 919.0,601.5 919.5,600.5 920.0,601.5 920.5,600.5 921.0,600.5 921.5,600.5 922.0,600.5 922.5,600.5 923.0,601.5 923.5,601.5 924.0,601.5 924.5,600.5 925.0,600.5 925.5,601.5 926.0,600.5 926.5,601.5 927.0,600.5 927.5,600.5 928.0,600.5 928.5,600.5 929.0,601.5 929.5,600.5 930.0,601.5 930.5,600.5 931.0,600.5 931.5,600.5 932.0,600.5 932.5,600.5 933.0,600.5 933.5,600.5 934.0,600.5 934.5,600.5 935.0,600.5 935.5,600.5 936.0,600.5 936.5,600.5 937.0,600.5 937.5,600.5 938.0,600.5 938.5,600.5 939.0,600.5 939.5,600.5 940.0,600.5 940.5,600.5 941.0,600.5 941.5,599.5 942.0,599.5 942.5,599.5 943.0,599.5 943.5,599.5 944.0,599.5 944.5,599.5 945.0,599.5 945.5,599.5 946.0,599.5 946.5,599.5 947.0,598.5 947.5,599.5 948.0,599.5 948.5,598.5 949.0,598.5 949.5,598.5 950.0,598.5 950.5,598.5 951.0,598.5 951.5,598.5 952.0,598.5 952.5,598.5 953.0,598.5 953.5,598.5 954.0,597.5 954.5,597.5 955.0,597.5 955.5,597.5 956.0,597.5 956.5,597.5 957.0,597.5 957.5,597.5 958.0,596.5 958.5,597.5 959.0,596.5 959.5,596.5 960.0,596.5 960.5,596.5 961.0,596.5 961.5,596.5 962.0,596.5 962.5,596.5 963.0,596.5 963.5,596.5 964.0,595.5 964.5,595.5 965.0,595.5 965.5,595.5 966.0,595.5 966.5,595.5 967.0,595.5 967.5,595.5 968.0,595.5 968.5,594.5 969.0,594.5 969.5,594.5 970.0,594.5 970.5,594.5 971.0,593.5 971.5,594.5 972.0,594.5 972.5,593.5 973.0,593.5 973.5,593.5 974.0,593.5 974.5,593.5 975.0,593.5 975.5,593.5 976.0,592.5 976.5,592.5 977.0,592.5 977.5,592.5 978.0,592.5 978.5,592.5 979.0,591.5 979.5,591.5 980.0,591.5 980.5,591.5 981.0,591.5 981.5,591.5 982.0,591.5 982.5,590.5 983.0,590.5 983.5,590.5 984.0,590.5 984.5,590.5 985.0,590.5 985.5,590.5 986.0,590.5 986.5,589.5 987.0,589.5 987.5,589.5 988.0,589.5 988.5,589.5 989.0,589.5 989.5,589.5 990.0,589.5 990.5,588.5 991.0,588.5 991.5,588.5 992.0,588.5 992.5,588.5 993.0,588.5 993.5,588.5 994.0,588.5 994.5,588.5 995.0,587.5 995.5,587.5 996.0,587.5 996.5,587.5 997.0,587.5 997.5,586.5 998.0,586.5 998.5,586.5 999.0,586.5 999.5,586.5 1000.0,586.5 1000.5,586.5 1001.0,586.5 1001.5,585.5 1002.0,585.5 1002.5,585.5 1003.0,585.5 1003.5,585.5 1004.0,585.5 1004.5,585.5 1005.0,585.5 1005.5,584.5 1006.0,584.5 1006.5,584.5 1007.0,584.5 1007.5,584.5 1008.0,583.5 1008.5,583.5 1009.0,583.5 1009.5,583.5 1010.0,583.5 1010.5,583.5 1011.0,582.5 1011.5,582.5 1012.0,582.5 1012.5,582.5 1013.0,582.5 1013.5,582.5 1014.0,582.5 1014.5,582.5 1015.0,581.5 1015.5,581.5 1016.0,581.5 1016.5,581.5 1017.0,581.5 1017.5,581.5 1018.0,581.5 1018.5,580.5 1019.0,580.5 1019.5,580.5 1020.0,580.5 1020.5,580.5 1021.0,579.5 1021.5,579.5 1022.0,579.5 1022.5,579.5 1023.0,579.5 1023.5,579.5 1024.0,579.5 1024.5,578.5 1025.0,578.5 1025.5,578.5 1026.0,578.5 1026.5,578.5 1027.0,577.5 1027.5,577.5 1028.0,577.5 1028.5,577.5 1029.0,577.5 1029.5,577.5 1030.0,577.5 1030.5,576.5 1031.0,576.5 1031.5,576.5 1032.0,576.5 1032.5,576.5 1033.0,576.5 1033.5,576.5 1034.0,575.5 1034.5,575.5 1035.0,575.5 1035.5,575.5 1036.0,575.5 1036.5,575.5 1037.0,575.5 1037.5,574.5 1038.0,574.5 1038.5,574.5 1039.0,574.5 1039.5,574.5 1040.0,573.5 1040.5,573.5 1041.0,573.5 1041.5,573.5 1042.0,573.5 1042.5,573.5 1043.0,573.5 1043.5,572.5 1044.0,572.5 1044.5,572.5 1045.0,572.5 1045.5,572.5 1046.0,572.5 1046.5,571.5 1047.0,571.5 1047.5,571.5 1048.0,571.5 1048.5,571.5 1049.0,571.5 1049.5,571.5 1050.0,571.5 1050.5,571.5 1051.0,571.5 1051.5,570.5 1052.0,570.5 1052.5,570.5 1053.0,570.5 1053.5,570.5 1054.0,570.5 1054.5,569.5 1055.0,569.5 1055.5,569.5 1056.0,569.5 1056.5,569.5 1057.0,569.5 1057.5,569.5 1058.0,569.5 1058.5,569.5 1059.0,569.5 1059.5,569.5 1060.0,569.5 1060.5,568.5 1061.0,568.5 1061.5,568.5 1062.0,568.5 1062.5,568.5 1063.0,568.5 1063.5,568.5 1064.0,568.5 1064.5,568.5 1065.0,567.5 1065.5,567.5 1066.0,567.5 1066.5,567.5 1067.0,567.5 1067.5,567.5 1068.0,567.5 1068.5,567.5 1069.0,567.5 1069.5,567.5 1070.0,567.5 1070.5,566.5 1071.0,566.5 1071.5,566.5 1072.0,566.5 1072.5,566.5 1073.0,566.5 1073.5,566.5 1074.0,566.5 1074.5,566.5 1075.0,566.5 1075.5,566.5 1076.0,566.5 1076.5,566.5 1077.0,566.5 1077.5,566.5 1078.0,566.5 1078.5,565.5 1079.0,565.5 1079.5,565.5 1080.0,566.5 1080.5,566.5 1081.0,565.5 1081.5,566.5 1082.0,566.5 1082.5,565.5 1083.0,565.5 1083.5,565.5 1084.0,565.5 1084.5,565.5 1085.0,565.5 1085.5,565.5 1086.0,565.5 1086.5,565.5 1087.0,565.5 1087.5,564.5 1088.0,564.5 1088.5,564.5 1089.0,564.5 1089.5,564.5 1090.0,564.5 1090.5,564.5 1091.0,564.5 1091.5,564.5 1092.0,564.5 1092.5,564.5 1093.0,564.5 1093.5,564.5 1094.0,564.5 1094.5,564.5 1095.0,563.5 1095.5,564.5 1096.0,564.5 1096.5,564.5 1097.0,563.5 1097.5,564.5 1098.0,563.5 1098.5,563.5 1099.0,563.5 1099.5,563.5 1100.0,563.5 1100.5,563.5 1101.0,563.5 1101.5,563.5 1102.0,563.5 1102.5,563.5 1103.0,563.5 1103.5,563.5 1104.0,563.5 1104.5,563.5 1105.0,563.5 1105.5,563.5 1106.0,563.5 1106.5,563.5 1107.0,563.5 1107.5,563.5 1108.0,563.5 1108.5,563.5 1109.0,563.5 1109.5,563.5 1110.0,563.5 1110.5,563.5 1111.0,563.5 1111.5,563.5 1112.0,563.5 1112.5,563.5 1113.0,563.5 1113.5,563.5 1114.0,563.5 1114.5,563.5 1115.0,563.5 1115.5,563.5 1116.0,563.5 1116.5,563.5 1117.0,563.5 1117.5,563.5 1118.0,562.5 1118.5,563.5 1119.0,563.5 1119.5,563.5 1120.0,563.5 1120.5,563.5 1121.0,563.5 1121.5,563.5 1122.0,563.5 1122.5,563.5 1123.0,563.5 1123.5,563.5 1124.0,563.5 1124.5,563.5 1125.0,563.5 1125.5,563.5 1126.0,563.5 1126.5,563.5 1127.0,563.5 1127.5,563.5 1128.0,563.5 1128.5,563.5 1129.0,563.5 1129.5,563.5 1130.0,563.5 1130.5,563.5 1131.0,563.5 1131.5,563.5 1132.0,563.5 1132.5,563.5 1133.0,563.5 1133.5,563.5 1134.0,563.5 1134.5,563.5 1135.0,563.5 1135.5,563.5 1136.0,563.5 1136.5,563.5 1137.0,563.5 1137.5,563.5 1138.0,563.5 1138.5,564.5 1139.0,564.5 1139.5,564.5 1140.0,563.5 1140.5,564.5 1141.0,564.5 1141.5,564.5 1142.0,564.5 1142.5,564.5 1143.0,564.5 1143.5,564.5 1144.0,564.5 1144.5,564.5 1145.0,564.5 1145.5,564.5 1146.0,564.5 1146.5,564.5 1147.0,564.5 1147.5,564.5 1148.0,564.5 1148.5,564.5 1149.0,565.5 1149.5,565.5 1150.0,565.5 1150.5,565.5 1151.0,565.5 1151.5,565.5 1152.0,565.5 1152.5,565.5 1153.0,565.5 1153.5,565.5 1154.0,565.5 1154.5,565.5 1155.0,565.5 1155.5,566.5 1156.0,566.5 1156.5,566.5 1157.0,565.5 1157.5,566.5 1158.0,566.5 1158.5,566.5 1159.0,566.5 1159.5,566.5 1160.0,566.5 1160.5,566.5 1161.0,566.5 1161.5,566.5 1162.0,566.5 1162.5,566.5 1163.0,566.5 1163.5,566.5 1164.0,567.5 1164.5,566.5 1165.0,567.5 1165.5,567.5 1166.0,567.5 1166.5,567.5 1167.0,567.5 1167.5,567.5 1168.0,567.5 1168.5,567.5 1169.0,567.5 1169.5,567.5 1170.0,567.5 1170.5,567.5 1171.0,567.5 1171.5,567.5 1172.0,567.5 1172.5,567.5 1173.0,567.5 1173.5,567.5 1174.0,567.5 1174.5,567.5 1175.0,567.5 1175.5,568.5 1176.0,568.5 1176.5,568.5 1177.0,568.5 1177.5,568.5 1178.0,568.5 1178.5,568.5 1179.0,568.5 1179.5,568.5 1180.0,568.5 1180.5,568.5 1181.0,568.5 1181.5,568.5 1182.0,568.5 1182.5,568.5 1183.0,569.5 1183.5,569.5 1184.0,568.5 1184.5,569.5 1185.0,569.5 1185.5,569.5 1186.0,569.5 1186.5,569.5 1187.0,569.5 1187.5,569.5 1188.0,569.5 1188.5,569.5 1189.0,569.5 1189.5,569.5 1190.0,569.5 1190.5,569.5 1191.0,569.5 1191.5,570.5 1192.0,570.5 1192.5,569.5 1193.0,570.5 1193.5,570.5 1194.0,570.5 1194.5,570.5 1195.0,570.5 1195.5,570.5 1196.0,570.5 1196.5,570.5 1197.0,570.5 1197.5,570.5 1198.0,570.5 1198.5,570.5 1199.0,570.5 1199.5,570.5 1200.0,570.5 1200.5,570.5 1201.0,571.5 1201.5,571.5 1202.0,571.5 1202.5,571.5 1203.0,571.5 1203.5,571.5 1204.0,571.5 1204.5,571.5 1205.0,571.5 1205.5,571.5 1206.0,571.5 1206.5,571.5 1207.0,571.5 1207.5,571.5 1208.0,571.5 1208.5,572.5 1209.0,571.5 1209.5,572.5 1210.0,572.5 1210.5,572.5 1211.0,572.5 1211.5,572.5 1212.0,572.5 1212.5,572.5 1213.0,572.5 1213.5,572.5 1214.0,572.5 1214.5,572.5 1215.0,572.5 1215.5,572.5 1216.0,572.5 1216.5,572.5 1217.0,573.5 1217.5,573.5 1218.0,573.5 1218.5,573.5 1219.0,573.5 1219.5,573.5 1220.0,573.5 1220.5,573.5 1221.0,573.5 1221.5,573.5 1222.0,573.5 1222.5,573.5 1223.0,573.5 1223.5,574.5 1224.0,573.5 1224.5,573.5 1225.0,574.5 1225.5,574.5 1226.0,574.5 1226.5,574.5 1227.0,574.5 1227.5,574.5 1228.0,574.5 1228.5,574.5 1229.0,574.5 1229.5,574.5 1230.0,574.5 1230.5,574.5 1231.0,574.5 1231.5,574.5 1232.0,574.5 1232.5,574.5 1233.0,574.5 1233.5,574.5 1234.0,575.5 1234.5,574.5 1235.0,575.5 1235.5,575.5 1236.0,575.5 1236.5,575.5 1237.0,575.5 1237.5,575.5 1238.0,575.5 1238.5,575.5 1239.0,575.5 1239.5,575.5 1240.0,575.5 1240.5,575.5 1241.0,575.5 1241.5,575.5 1242.0,575.5 1242.5,576.5 1243.0,576.5 1243.5,576.5 1244.0,576.5 1244.5,576.5 1245.0,576.5 1245.5,576.5 1246.0,576.5 1246.5,576.5 1247.0,576.5 1247.5,576.5 1248.0,576.5 1248.5,576.5 1249.0,576.5 1249.5,576.5 1250.0,577.5 1250.5,577.5 1251.0,576.5 1251.5,576.5 1252.0,577.5 1252.5,577.5 1253.0,577.5 1253.5,577.5 1254.0,577.5 1254.5,577.5 1255.0,577.5 1255.5,577.5 1256.0,577.5 1256.5,577.5 1257.0,577.5 1257.5,577.5 1258.0,577.5" fill="none" stroke="#00c000" stroke-width="1.5" shape-rendering="crispEdges"/>
<use href="#c54" x="1129" y="526"/><use href="#c73" x="1136" y="526"/><use href="#c6f" x="1143" y="526"/><use href="#c69" x="1150" y="526"/><use href="#c6c" x="1157" y="526"/><use href="#c28" x="1164" y="526"/><use href="#c64" x="1171" y="526"/><use href="#c65" x="1178" y="526"/><use href="#c67" x="1185" y="526"/><use href="#c29" x="1192" y="526"/>
<text class="t" x="1129" y="534">Tsoil(deg) </text>
<rect x="1213" y="529" width="33" height="1" fill="#0080ff"/>
<rect x="738" y="603" width="27" height="1" fill="#0080ff"/>
<rect x="764" y="603" width="80" height="1" fill="#0080ff"/>
<rect x="764" y="602" width="7" height="1" fill="#0080ff"/>
<rect x="772" y="602" width="14" height="1" fill="#0080ff"/>
<rect x="787" y="602" width="3" height="1" fill="#0080ff"/>
<rect x="792" y="602" width="13" height="1" fill="#0080ff"/>
<rect x="806" y="602" width="6" height="1" fill="#0080ff"/>
<rect x="813" y="602" width="9" height="1" fill="#0080ff"/>
<rect x="823" y="602" width="8" height="1" fill="#0080ff"/>
<rect x="832" y="602" width="7" height="1" fill="#0080ff"/>
<rect x="841" y="602" width="2" height="1" fill="#0080ff"/>
<rect x="843" y="602" width="123" height="1" fill="#0080ff"/>
<rect x="878" y="601" width="2" height="1" fill="#0080ff"/>
<rect x="882" y="601" width="2" height="1" fill="#0080ff"/>
<rect x="889" y="601" width="1" height="1" fill="#0080ff"/>
<rect x="893" y="601" width="1" height="1" fill="#0080ff"/>
<rect x="897" y="601" width="6" height="1" fill="#0080ff"/>
<rect x="905" y="601" width="4" height="1" fill="#0080ff"/>
<rect x="910" y="601" width="10" height="1" fill="#0080ff"/>
<rect x="922" y="601" width="7" height="1" fill="#0080ff"/>
<rect x="930" y="601" width="11" height="1" fill="#0080ff"/>
<rect x="942" y="601" width="12" height="1" fill="#0080ff"/>
<rect x="955" y="601" width="9" height="1" fill="#0080ff"/>
<rect x="965" y="601" width="217" height="1" fill="#0080ff"/>
<rect x="980" y="602" width="2" height="1" fill="#0080ff"/>
<rect x="984" y="602" width="1" height="1" fill="#0080ff"/>
<rect x="990" y="602" width="2" height="1" fill="#0080ff"/>
<rect x="994" y="602" width="1" height="1" fill="#0080ff"/>
<rect x="1000" y="602" width="2" height="1" fill="#0080ff"/>
<rect x="1006" y="602" width="1" height="1" fill="#0080ff"/>
<rect x="1011" y="602" width="1" height="1" fill="#0080ff"/>
<rect x="1040" y="600" width="1" height="1" fill="#0080ff"/>
<rect x="1047" y="600" width="2" height="1" fill="#0080ff"/>
<rect x="1053" y="600" width="1" height="1" fill="#0080ff"/>
<rect x="1060" y="600" width="2" height="1" fill="#0080ff"/>
<rect x="1066" y="600" width="1" height="1" fill="#0080ff"/>
<rect x="1069" y="600" width="2" height="1" fill="#0080ff"/>
<rect x="1072" y="600" width="9" height="1" fill="#0080ff"/>
<rect x="1083" y="600" width="9" height="1" fill="#0080ff"/>
<rect x="1093" y="600" width="5" height="1" fill="#0080ff"/>
<rect x="1100" y="600" width="6" height="1" fill="#0080ff"/>
<rect x="1107" y="600" width="8" height="1" fill="#0080ff"/>
<rect x="1116" y="600" width="3" height="1" fill="#0080ff"/>
<rect x="1121" y="600" width="12" height="1" fill="#0080ff"/>
<rect x="1134" y="600" width="3" height="1" fill="#0080ff"/>
<rect x="1138" y="600" width="11" height="1" fill="#0080ff"/>
<rect x="1151" y="600" width="10" height="1" fill="#0080ff"/>
<rect x="1163" y="600" width="11" height="1" fill="#0080ff"/>
<rect x="1175" y="600" width="6" height="1" fill="#0080ff"/>
<rect x="1181" y="600" width="78" height="1" fill="#0080ff"/>
<use href="#c54" x="1129" y="539"/><use href="#c73" x="1136" y="539"/><use href="#c6f" x="1143" y="539"/><use href="#c69" x="1150" y="539"/><use href="#c6c" x="1157" y="539"/><use href="#c28" x="1164" y="539"/><use href="#c64" x="1171" y="539"/><use href="#c65" x="1178" y="539"/><use href="#c67" x="1185" y="539"/><use href="#c29" x="1192" y="539"/>
<text class="t" x="1129" y="547">Tsoil(deg) </text>
<rect x="1213" y="542" width="33" height="1" fill="#c000ff"/>
<rect x="738" y="591" width="521" height="1" fill="#c000ff"/>
<rect x="871" y="590" width="1" height="1" fill="#c000ff"/>
<rect x="873" y="590" width="1" height="1" fill="#c000ff"/>
<rect x="875" y="590" width="1" height="1" fill="#c000ff"/>
<rect x="979" y="590" width="1" height="1" fill="#c000ff"/>
<rect x="1113" y="590" width="1" height="1" fill="#c000ff"/>
<rect x="1148" y="590" width="1" height="1" fill="#c000ff"/>
<rect x="1185" y="590" width="1" height="1" fill="#c000ff"/>
<rect x="1206" y="590" width="1" height="1" fill="#c000ff"/>
<rect x="695" y="649" width="565" height="1" fill="#000"/>
<rect x="695" y="764" width="565" height="1" fill="#000"/>
<rect x="695" y="649" width="1" height="116" fill="#000"/>
<rect x="1259" y="649" width="1" height="116" fill="#000"/>
<rect x="717" y="762" width="1" height="2" fill="#000"/>
<rect x="717" y="650" width="1" height="2" fill="#000"/>
<use href="#c30" x="678" y="774"/><use href="#c33" x="685" y="774"/><use href="#c2f" x="692" y="774"/><use href="#c32" x="699" y="774"/><use href="#c35" x="706" y="774"/>
<text class="t" x="678" y="782">03/25</text>
<use href="#c32" x="678" y="787"/><use href="#c32" x="685" y="787"/><use href="#c3a" x="692" y="787"/><use href="#c30" x="699" y="787"/><use href="#c30" x="706" y="787"/>
<text class="t" x="678" y="795">22:00</text>
<rect x="738" y="760" width="1" height="4" fill="#000"/>
<rect x="738" y="650" width="1" height="4" fill="#000"/>
<rect x="760" y="762" width="1" height="2" fill="#000"/>
<rect x="760" y="650" width="1" height="2" fill="#000"/>
<use href="#c30" x="721" y="774"/><use href="#c33" x="728" y="774"/><use href="#c2f" x="735" y="774"/><use href="#c32" x="742" y="774"/><use href="#c36" x="749" y="774"/>
<text class="t" x="721" y="782">03/26</text>
<use href="#c30" x="721" y="787"/><use href="#c30" x="728" y="787"/><use href="#c3a" x="735" y="787"/><use href="#c30" x="742" y="787"/><use href="#c30" x="749" y="787"/>
<text class="t" x="721" y="795">00:00</text>
<rect x="782" y="760" width="1" height="4" fill="#000"/>
<rect x="782" y="650" width="1" height="4" fill="#000"/>
<rect x="803" y="762" width="1" height="2" fill="#000"/>
<rect x="803" y="650" width="1" height="2" fill="#000"/>
<use href="#c30" x="765" y="774"/><use href="#c33" x="772" y="774"/><use href="#c2f" x="779" y="774"/><use href="#c32" x="786" y="774"/><use href="#c36" x="793" y="774"/>
<text class="t" x="765" y="782">03/26</text>
<use href="#c30" x="765" y="787"/><use href="#c32" x="772" y="787"/><use href="#c3a" x="779" y="787"/><use href="#c30" x="786" y="787"/><use href="#c30" x="793" y="787"/>
<text class="t" x="765" y="795">02:00</text>
<rect x="825" y="760" width="1" height="4" fill="#000"/>
<rect x="825" y="650" width="1" height="4" fill="#000"/>
<rect x="847" y="762" width="1" height="2" fill="#000"/>
<rect x="847" y="650" width="1" height="2" fill="#000"/>
<use href="#c30" x="808" y="774"/><use href="#c33" x="815" y="774"/><use href="#c2f" x="822" y="774"/><use href="#c32" x="829" y="774"/><use href="#c36" x="836" y="774"/>
<text class="t" x="808" y="782">03/26</text>
<use href="#c30" x="808" y="787"/><use href="#c34" x="815" y="787"/><use href="#c3a" x="822" y="787"/><use href="#c30" x="829" y="787"/><use href="#c30" x="836" y="787"/>
<text class="t" x="808" y="795">04:00</text>
<rect x="869" y="760" width="1" height="4" fill="#000"/>
<rect x="869" y="650" width="1" height="4" fill="#000"/>
<rect x="890" y="762" width="1" height="2" fill="#000"/>
<rect x="890" y="650" width="1" height="2" fill="#000"/>
<use href="#c30" x="852" y="774"/><use href="#c33" x="859" y="774"/><use href="#c2f" x="866" y="774"/><use href="#c32" x="873" y="774"/><use href="#c36" x="880" y="774"/>
<text class="t" x="852" y="782">03/26</text>
<use href="#c30" x="852" y="787"/><use href="#c36" x="859" y="787"/><use href="#c3a" x="866" y="787"/><use href="#c30" x="873" y="787"/><use href="#c30" x="880" y="787"/>
<text class="t" x="852" y="795">06:00</text>
<rect x="912" y="760" width="1" height="4" fill="#000"/>
<rect x="912" y="650" width="1" height="4" fill="#000"/>
<rect x="934" y="762" width="1" height="2" fill="#000"/>
<rect x="934" y="650" width="1" height="2" fill="#000"/>
<use href="#c30" x="895" y="774"/><use href="#c33" x="902" y="774"/><use href="#c2f" x="909" y="774"/><use href="#c32" x="916" y="774"/><use href="#c36" x="923" y="774"/>
<text class="t" x="895" y="782">03/26</text>
<use href="#c30" x="895" y="787"/><use href="#c38" x="902" y="787"/><use href="#c3a" x="909" y="787"/><use href="#c30" x="916" y="787"/><use href="#c30" x="923" y="787"/>
<text class="t" x="895" y="795">08:00</text>
<rect x="955" y="760" width="1" height="4" fill="#000"/>
<rect x="955" y="650" width="1" height="4" fill="#000"/>
<rect x="977" y="762" width="1" height="2" fill="#000"/>
<rect x="977" y="650" width="1" height="2" fill="#000"/>
<use href="#c30" x="938" y="774"/><use href="#c33" x="945" y="774"/><use href="#c2f" x="952" y="774"/><use href="#c32" x="959" y="774"/><use href="#c36" x="966" y="774"/>
<text class="t" x="938" y="782">03/26</text>
<use href="#c31" x="938" y="787"/><use href="#c30" x="945" y="787"/><use href="#c3a" x="952" y="787"/><use href="#c30" x="959" y="787"/><use href="#c30" x="966" y="787"/>
<text class="t" x="938" y="795">10:00</text>
<rect x="999" y="760" width="1" height="4" fill="#000"/>
<rect x="999" y="650" width="1" height="4" fill="#000"/>
<rect x="1020" y="762" width="1" height="2" fill="#000"/>
<rect x="1020" y="650" width="1" height="2" fill="#000"/>
<use href="#c30" x="982" y="774"/><use href="#c33" x="989" y="774"/><use href="#c2f" x="996" y="774"/><use href="#c32" x="1003" y="774"/><use href="#c36" x="1010" y="774"/>
<text class="t" x="982" y="782">03/26</text>
<use href="#c31" x="982" y="787"/><use href="#c32" x="989" y="787"/><use href="#c3a" x="996" y="787"/><use href="#c30" x="1003" y="787"/><use href="#c30" x="1010" y="787"/>
<text class="t" x="982" y="795">12:00</text>
<rect x="1042" y="760" width="1" height="4" fill="#000"/>
<rect x="1042" y="650" width="1" height="4" fill="#000"/>
<rect x="1064" y="762" width="1" height="2" fill="#000"/>
<rect x="1064" y="650" width="1" height="2" fill="#000"/>
<use href="#c30" x="1025" y="774"/><use href="#c33" x="1032" y="774"/><use href="#c2f" x="1039" y="774"/><use href="#c32" x="1046" y="774"/><use href="#c36" x="1053" y="774"/>
<text class="t" x="1025" y="782">03/26</text>
<use href="#c31" x="1025" y="787"/><use href="#c34" x="1032" y="787"/><use href="#c3a" x="1039" y="787"/><use href="#c30" x="1046" y="787"/><use href="#c30" x="1053" y="787"/>
<text class="t" x="1025" y="795">14:00</text>
<rect x="1085" y="760" width="1" height="4" fill="#000"/>
<rect x="1085" y="650" width="1" height="4" fill="#000"/>
<rect x="1107" y="762" width="1" height="2" fill="#000"/>
<rect x="1107" y="650" width="1" height="2" fill="#000"/>
<use href="#c30" x="1068" y="774"/><use href="#c33" x="1075" y="774"/><use href="#c2f" x="1082" y="774"/><use href="#c32" x="1089" y="774"/><use href="#c36" x="1096" y="774"/>
<text class="t" x="1068" y="782">03/26</text>
<use href="#c31" x="1068" y="787"/><use href="#c36" x="1075" y="787"/><use href="#c3a" x="1082" y="787"/><use href="#c30" x="1089" y="787"/><use href="#c30" x="1096" y="787"/>
<text class="t" x="1068" y="795">16:00</text>
<rect x="1129" y="760" width="1" height="4" fill="#000"/>
<rect x="1129" y="650" width="1" height="4" fill="#000"/>
<rect x="1151" y="762" width="1" height="2" fill="#000"/>
<rect x="1151" y="650" width="1" height="2" fill="#000"/>
<use href="#c30" x="1112" y="774"/><use href="#c33" x="1119" y="774"/><use href="#c2f" x="1126" y="774"/><use href="#c32" x="1133" y="774"/><use href="#c36" x="1140" y="774"/>
<text class="t" x="1112" y="782">03/26</text>
<use href="#c31" x="1112" y="787"/><use href="#c38" x="1119" y="787"/><use href="#c3a" x="1126" y="787"/><use href="#c30" x="1133" y="787"/><use href="#c30" x="1140" y="787"/>
<text class="t" x="1112" y="795">18:00</text>
<rect x="1172" y="760" width="1" height="4" fill="#000"/>
<rect x="1172" y="650" width="1" height="4" fill="#000"/>
<rect x="1194" y="762" width="1" height="2" fill="#000"/>
<rect x="1194" y="650" width="1" height="2" fill="#000"/>
<use href="#c30" x="1155" y="774"/><use href="#c33" x="1162" y="774"/><use href="#c2f" x="1169" y="774"/><use href="#c32" x="1176" y="774"/><use href="#c36" x="1183" y="774"/>
<text class="t" x="1155" y="782">03/26</text>
<use href="#c32" x="1155" y="787"/><use href="#c30" x="1162" y="787"/><use href="#c3a" x="1169" y="787"/><use href="#c30" x="1176" y="787"/><use href="#c30" x="1183" y="787"/>
<text class="t" x="1155" y="795">20:00</text>
<rect x="1216" y="760" width="1" height="4" fill="#000"/>
<rect x="1216" y="650" width="1" height="4" fill="#000"/>
<rect x="1237" y="762" width="1" height="2" fill="#000"/>
<rect x="1237" y="650" width="1" height="2" fill="#000"/>
<use href="#c30" x="1199" y="774"/><use href="#c33" x="1206" y="774"/><use href="#c2f" x="1213" y="774"/><use href="#c32" x="1220" y="774"/><use href="#c36" x="1227" y="774"/>
<text class="t" x="1199" y="782">03/26</text>
<use href="#c32" x="1199" y="787"/><use href="#c32" x="1206" y="787"/><use href="#c3a" x="1213" y="787"/><use href="#c30" x="1220" y="787"/><use href="#c30" x="1227" y="787"/>
<text class="t" x="1199" y="795">22:00</text>
<use href="#c30" x="1242" y="774"/><use href="#c33" x="1249" y="774"/><use href="#c2f" x="1256" y="774"/><use href="#c32" x="1263" y="774"/><use href="#c37" x="1270" y="774"/>
<text class="t" x="1242" y="782">03/27</text>
<use href="#c30" x="1242" y="787"/><use href="#c30" x="1249" y="787"/><use href="#c3a" x="1256" y="787"/><use href="#c30" x="1263" y="787"/><use href="#c30" x="1270" y="787"/>
<text class="t" x="1242" y="795">00:00</text>
<use href="#c33" x="667" y="646"/><use href="#c2e" x="674" y="646"/><use href="#c35" x="681" y="646"/>
<text class="t" x="667" y="654">3.5</text>
<rect x="696" y="665" width="4" height="1" fill="#000"/>
<rect x="1255" y="665" width="4" height="1" fill="#000"/>
<use href="#c33" x="681" y="662"/>
<text class="t" x="681" y="670">3</text>
<rect x="696" y="682" width="4" height="1" fill="#000"/>
<rect x="1255" y="682" width="4" height="1" fill="#000"/>
<use href="#c32" x="667" y="679"/><use href="#c2e" x="674" y="679"/><use href="#c35" x="681" y="679"/>
<text class="t" x="667" y="687">2.5</text>
<rect x="696" y="698" width="4" height="1" fill="#000"/>
<rect x="1255" y="698" width="4" height="1" fill="#000"/>
<use href="#c32" x="681" y="695"/>
<text class="t" x="681" y="703">2</text>
<rect x="696" y="715" width="4" height="1" fill="#000"/>
<rect x="1255" y="715" width="4" height="1" fill="#000"/>
<use href="#c31" x="667" y="712"/><use href="#c2e" x="674" y="712"/><use href="#c35" x="681" y="712"/>
<text class="t" x="667" y="720">1.5</text>
<rect x="696" y="731" width="4" height="1" fill="#000"/>
<rect x="1255" y="731" width="4" height="1" fill="#000"/>
<use href="#c31" x="681" y="728"/>
<text class="t" x="681" y="736">1</text>
<rect x="696" y="748" width="4" height="1" fill="#000"/>
<rect x="1255" y="748" width="4" height="1" fill="#000"/>
<use href="#c30" x="667" y="745"/><use href="#c2e" x="674" y="745"/><use href="#c35" x="681" y="745"/>
<text class="t" x="667" y="753">0.5</text>
<use href="#c30" x="681" y="761"/>
<text class="t" x="681" y="769">0</text>
<use href="#c47" x="1143" y="656"/><use href="#c57" x="1150" y="656"/><use href="#c31" x="1157" y="656"/><use href="#c28" x="1164" y="656"/><use href="#c64" x="1171" y="656"/><use href="#c65" x="1178" y="656"/><use href="#c67" x="1185" y="656"/><use href="#c29" x="1192" y="656"/>
<text class="t" x="1143" y="664">GW1(deg) </text>
<rect x="1213" y="659" width="33" height="1" fill="#ff0000"/>
<use href="#c47" x="1143" y="669"/><use href="#c57" x="1150" y="669"/><use href="#c32" x="1157" y="669"/><use href="#c28" x="1164" y="669"/><use href="#c64" x="1171" y="669"/><use href="#c65" x="1178" y="669"/><use href="#c67" x="1185" y="669"/><use href="#c29" x="1192" y="669"/>
<text class="t" x="1143" y="677">GW2(deg) </text>
<rect x="1213" y="672" width="33" height="1" fill="#00c000"/>
<rect x="738" y="659" width="405" height="1" fill="#00c000"/>
<rect x="1142" y="658" width="117" height="1" fill="#00c000"/>
<rect x="738" y="658" width="1" height="1" fill="#00c000"/>
<rect x="744" y="658" width="1" height="1" fill="#00c000"/>
<rect x="748" y="658" width="1" height="1" fill="#00c000"/>
<rect x="754" y="658" width="1" height="1" fill="#00c000"/>
<rect x="758" y="658" width="1" height="1" fill="#00c000"/>
<rect x="764" y="658" width="1" height="1" fill="#00c000"/>
<rect x="769" y="658" width="2" height="1" fill="#00c000"/>
<rect x="775" y="658" width="2" height="1" fill="#00c000"/>
<rect x="780" y="658" width="1" height="1" fill="#00c000"/>
<rect x="784" y="658" width="1" height="1" fill="#00c000"/>
<rect x="787" y="658" width="1" height="1" fill="#00c000"/>
<rect x="793" y="658" width="2" height="1" fill="#00c000"/>
<rect x="797" y="658" width="2" height="1" fill="#00c000"/>
<rect x="801" y="658" width="2" height="1" fill="#00c000"/>
<rect x="805" y="658" width="2" height="1" fill="#00c000"/>
<rect x="807" y="658" width="3" height="1" fill="#00c000"/>
<rect x="811" y="658" width="5" height="1" fill="#00c000"/>
<rect x="817" y="658" width="13" height="1" fill="#00c000"/>
<rect x="832" y="658" width="12" height="1" fill="#00c000"/>
<rect x="846" y="658" width="8" height="1" fill="#00c000"/>
<rect x="856" y="658" width="3" height="1" fill="#00c000"/>
<rect x="860" y="658" width="14" height="1" fill="#00c000"/>
<rect x="876" y="658" width="14" height="1" fill="#00c000"/>
<rect x="892" y="658" width="3" height="1" fill="#00c000"/>
<rect x="896" y="658" width="9" height="1" fill="#00c000"/>
<rect x="905" y="658" width="2" height="1" fill="#00c000"/>
<rect x="909" y="658" width="1" height="1" fill="#00c000"/>
<rect x="913" y="658" width="2" height="1" fill="#00c000"/>
<rect x="920" y="658" width="2" height="1" fill="#00c000"/>
<rect x="927" y="658" width="2" height="1" fill="#00c000"/>
<rect x="935" y="658" width="2" height="1" fill="#00c000"/>
<rect x="941" y="658" width="2" height="1" fill="#00c000"/>
<rect x="948" y="658" width="2" height="1" fill="#00c000"/>
<rect x="1070" y="658" width="5" height="1" fill="#00c000"/>
<rect x="1077" y="658" width="7" height="1" fill="#00c000"/>
<rect x="1085" y="658" width="4" height="1" fill="#00c000"/>
<rect x="1090" y="658" width="10" height="1" fill="#00c000"/>
<rect x="1102" y="658" width="11" height="1" fill="#00c000"/>
<rect x="1114" y="658" width="3" height="1" fill="#00c000"/>
<rect x="1118" y="658" width="10" height="1" fill="#00c000"/>
<rect x="1129" y="658" width="9" height="1" fill="#00c000"/>
<rect x="1140" y="658" width="2" height="1" fill="#00c000"/>
<use href="#c47" x="1143" y="682"/><use href="#c57" x="1150" y="682"/><use href="#c33" x="1157" y="682"/><use href="#c28" x="1164" y="682"/><use href="#c64" x="1171" y="682"/><use href="#c65" x="1178" y="682"/><use href="#c67" x="1185" y="682"/><use href="#c29" x="1192" y="682"/>
<text class="t" x="1143" y="690">GW3(deg) </text>
<rect x="1213" y="685" width="33" height="1" fill="#0080ff"/>
<use href="#c66" x="960" y="844"/><use href="#c69" x="967" y="844"/><use href="#c6c" x="974" y="844"/><use href="#c65" x="981" y="844"/><use href="#c3a" x="988" y="844"/><use href="#c2f" x="1002" y="844"/><use href="#c74" x="1009" y="844"/><use href="#c6d" x="1016" y="844"/><use href="#c70" x="1023" y="844"/><use href="#c2f" x="1030" y="844"/><use href="#c2f" x="1037" y="844"/><use href="#c70" x="1044" y="844"/><use href="#c6c" x="1051" y="844"/><use href="#c6f" x="1058" y="844"/><use href="#c74" x="1065" y="844"/><use href="#c31" x="1072" y="844"/><use href="#c30" x="1079" y="844"/><use href="#c2f" x="1086" y="844"/><use href="#c46" x="1093" y="844"/><use href="#c4c" x="1100" y="844"/><use href="#c55" x="1107" y="844"/><use href="#c58" x="1114" y="844"/><use href="#c32" x="1121" y="844"/><use href="#c2e" x="1128" y="844"/><use href="#c74" x="1135" y="844"/><use href="#c78" x="1142" y="844"/><use href="#c74" x="1149" y="844"/>
<text class="t" x="960" y="852">file: /tmp//plot10/FLUX2.txt</text>
<use href="#c66" x="960" y="858"/><use href="#c69" x="967" y="858"/><use href="#c6c" x="974" y="858"/><use href="#c65" x="981" y="858"/><use href="#c3a" x="988" y="858"/><use href="#c2f" x="1002" y="858"/><use href="#c74" x="1009" y="858"/><use href="#c6d" x="1016" y="858"/><use href="#c70" x="1023" y="858"/><use href="#c2f" x="1030" y="858"/><use href="#c2f" x="1037" y="858"/><use href="#c70" x="1044" y="858"/><use href="#c6c" x="1051" y="858"/><use href="#c6f" x="1058" y="858"/><use href="#c74" x="1065" y="858"/><use href="#c31" x="1072" y="858"/><use href="#c30" x="1079" y="858"/><use href="#c2f" x="1086" y="858"/><use href="#c4d" x="1093" y="858"/><use href="#c45" x="1100" y="858"/><use href="#c54" x="1107" y="858"/><use href="#c32" x="1114" y="858"/><use href="#c2e" x="1121" y="858"/><use href="#c74" x="1128" y="858"/><use href="#c78" x="1135" y="858"/><use href="#c74" x="1142" y="858"/>
<text class="t" x="960" y="866">file: /tmp//plot10/MET2.txt</text>
<g fill="#a0a0a0">
<rect x="660" y="875" width="2" height="1"/>
<rect x="665" y="875" width="3" height="1"/>
<rect x="671" y="875" width="3" height="1"/>
<rect x="677" y="875" width="3" height="1"/>
<rect x="683" y="875" width="3" height="1"/>
<rect x="689" y="875" width="3" height="1"/>
<rect x="695" y="875" width="3" height="1"/>
<rect x="701" y="875" width="3" height="1"/>
<rect x="707" y="875" width="3" height="1"/>
<rect x="713" y="875" width="3" height="1"/>
<rect x="719" y="875" width="4" height="1"/>
<rect x="726" y="875" width="3" height="1"/>
<rect x="732" y="875" width="3" height="1"/>
<rect x="738" y="875" width="3" height="1"/>
<rect x="744" y="875" width="3" height="1"/>
<rect x="750" y="875" width="3" height="1"/>
<rect x="756" y="875" width="3" height="1"/>
<rect x="762" y="875" width="3" height="1"/>
<rect x="768" y="875" width="3" height="1"/>
<rect x="774" y="875" width="3" height="1"/>
<rect x="780" y="875" width="3" height="1"/>
<rect x="786" y="875" width="3" height="1"/>
<rect x="792" y="875" width="3" height="1"/>
<rect x="798" y="875" width="3" height="1"/>
<rect x="804" y="875" width="3" height="1"/>
<rect x="810" y="875" width="3" height="1"/>
<rect x="816" y="875" width="3" height="1"/>
<rect x="822" y="875" width="3" height="1"/>
<rect x="828" y="875" width="3" height="1"/>
<rect x="834" y="875" width="3" height="1"/>
<rect x="840" y="875" width="4" height="1"/>
<rect x="847" y="875" width="3" height="1"/>
<rect x="853" y="875" width="3" height="1"/>
<rect x="859" y="875" width="3" height="1"/>
<rect x="865" y="875" width="3" height="1"/>
<rect x="871" y="875" width="3" height="1"/>
<rect x="877" y="875" width="3" height="1"/>
<rect x="883" y="875" width="3" height="1"/>
<rect x="889" y="875" width="3" height="1"/>
<rect x="895" y="875" width="3" height="1"/>
<rect x="901" y="875" width="3" height="1"/>
<rect x="907" y="875" width="3" height="1"/>
<rect x="913" y="875" width="3" height="1"/>
<rect x="919" y="875" width="3" height="1"/>
<rect x="925" y="875" width="3" height="1"/>
<rect x="931" y="875" width="3" height="1"/>
<rect x="937" y="875" width="3" height="1"/>
<rect x="943" y="875" width="3" height="1"/>
<rect x="949" y="875" width="3" height="1"/>
<rect x="955" y="875" width="3" height="1"/>
<rect x="961" y="875" width="4" height="1"/>
<rect x="968" y="875" width="3" height="1"/>
<rect x="974" y="875" width="3" height="1"/>
<rect x="980" y="875" width="3" height="1"/>
<rect x="986" y="875" width="3" height="1"/>
<rect x="992" y="875" width="3" height="1"/>
<rect x="998" y="875" width="3" height="1"/>
<rect x="1004" y="875" width="3" height="1"/>
<rect x="1010" y="875" width="3" height="1"/>
<rect x="1016" y="875" width="3" height="1"/>
<rect x="1022" y="875" width="3" height="1"/>
<rect x="1028" y="875" width="3" height="1"/>
<rect x="1034" y="875" width="3" height="1"/>
<rect x="1040" y="875" width="3" height="1"/>
<rect x="1046" y="875" width="3" height="1"/>
<rect x="1052" y="875" width="3" height="1"/>
<rect x="1058" y="875" width="3" height="1"/>
<rect x="1064" y="875" width="3" height="1"/>
<rect x="1070" y="875" width="3" height="1"/>
<rect x="1076" y="875" width="3" height="1"/>
<rect x="1082" y="875" width="4" height="1"/>
<rect x="1089" y="875" width="3" height="1"/>
<rect x="1095" y="875" width="3" height="1"/>
<rect x="1101" y="875" width="3" height="1"/>
<rect x="1107" y="875" width="3" height="1"/>
<rect x="1113" y="875" width="3" height="1"/>
<rect x="1119" y="875" width="3" height="1"/>
<rect x="1125" y="875" width="3" height="1"/>
<rect x="1131" y="875" width="3" height="1"/>
<rect x="1137" y="875" width="3" height="1"/>
<rect x="1143" y="875" width="3" height="1"/>
<rect x="1149" y="875" width="3" height="1"/>
<rect x="1155" y="875" width="3" height="1"/>
<rect x="1161" y="875" width="3" height="1"/>
<rect x="1167" y="875" width="3" height="1"/>
<rect x="1173" y="875" width="3" height="1"/>
<rect x="1179" y="875" width="3" height="1"/>
<rect x="1185" y="875" width="3" height="1"/>
<rect x="1191" y="875" width="3" height="1"/>
<rect x="1197" y="875" width="3" height="1"/>
<rect x="1203" y="875" width="4" height="1"/>
<rect x="1210" y="875" width="3" height="1"/>
<rect x="1216" y="875" width="3" height="1"/>
<rect x="1222" y="875" width="3" height="1"/>
<rect x="1228" y="875" width="3" height="1"/>
<rect x="1234" y="875" width="3" height="1"/>
<rect x="1240" y="875" width="3" height="1"/>
<rect x="1246" y="875" width="3" height="1"/>
<rect x="1252" y="875" width="3" height="1"/>
<rect x="1258" y="875" width="2" height="1"/>
</g>
</g>
</svg>
</body></html>
